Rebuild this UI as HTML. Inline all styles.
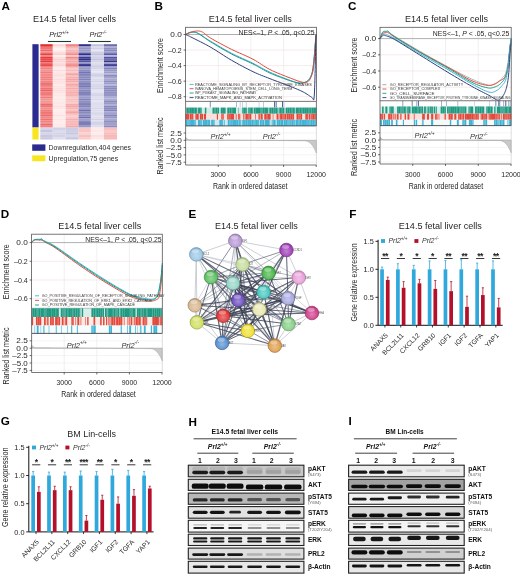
<!DOCTYPE html>
<html><head><meta charset="utf-8"><style>
html,body{margin:0;padding:0;background:#fff;overflow:hidden;width:520px;height:574px;}
svg{display:block;filter:blur(0.3px);font-family:"Liberation Sans", sans-serif;}
</style></head><body>
<svg width="520" height="574" viewBox="0 0 520 574">
<rect width="520" height="574" fill="#fff"/>
<defs>
<filter id="blur" x="-10%" y="-50%" width="120%" height="200%"><feGaussianBlur stdDeviation="0.75"/></filter>
<radialGradient id="g0" cx="0.5" cy="0.6" r="0.6"><stop offset="0" stop-color="#d0bde4"/><stop offset="0.75" stop-color="#b89ad6"/><stop offset="1" stop-color="#9c82b5"/></radialGradient>
<radialGradient id="g1" cx="0.5" cy="0.6" r="0.6"><stop offset="0" stop-color="#bedbf0"/><stop offset="0.75" stop-color="#9cc8e8"/><stop offset="1" stop-color="#84aac5"/></radialGradient>
<radialGradient id="g2" cx="0.5" cy="0.6" r="0.6"><stop offset="0" stop-color="#c182d0"/><stop offset="0.75" stop-color="#a040b8"/><stop offset="1" stop-color="#88369c"/></radialGradient>
<radialGradient id="g3" cx="0.5" cy="0.6" r="0.6"><stop offset="0" stop-color="#d9e8be"/><stop offset="0.75" stop-color="#c6dc9c"/><stop offset="1" stop-color="#a8bb84"/></radialGradient>
<radialGradient id="g4" cx="0.5" cy="0.6" r="0.6"><stop offset="0" stop-color="#95d697"/><stop offset="0.75" stop-color="#5cc060"/><stop offset="1" stop-color="#4ea351"/></radialGradient>
<radialGradient id="g5" cx="0.5" cy="0.6" r="0.6"><stop offset="0" stop-color="#8ad08a"/><stop offset="0.75" stop-color="#4cb84c"/><stop offset="1" stop-color="#409c40"/></radialGradient>
<radialGradient id="g6" cx="0.5" cy="0.6" r="0.6"><stop offset="0" stop-color="#bae4db"/><stop offset="0.75" stop-color="#96d6c8"/><stop offset="1" stop-color="#7fb5aa"/></radialGradient>
<radialGradient id="g7" cx="0.5" cy="0.6" r="0.6"><stop offset="0" stop-color="#f0c1e5"/><stop offset="0.75" stop-color="#e8a0d8"/><stop offset="1" stop-color="#c588b7"/></radialGradient>
<radialGradient id="g8" cx="0.5" cy="0.6" r="0.6"><stop offset="0" stop-color="#88dbd6"/><stop offset="0.75" stop-color="#48c8c0"/><stop offset="1" stop-color="#3daaa3"/></radialGradient>
<radialGradient id="g9" cx="0.5" cy="0.6" r="0.6"><stop offset="0" stop-color="#c6c6ea"/><stop offset="0.75" stop-color="#a8a8e0"/><stop offset="1" stop-color="#8e8ebe"/></radialGradient>
<radialGradient id="g10" cx="0.5" cy="0.6" r="0.6"><stop offset="0" stop-color="#a28dd6"/><stop offset="0.75" stop-color="#7050c0"/><stop offset="1" stop-color="#5f44a3"/></radialGradient>
<radialGradient id="g11" cx="0.5" cy="0.6" r="0.6"><stop offset="0" stop-color="#e5d0b6"/><stop offset="0.75" stop-color="#d8b890"/><stop offset="1" stop-color="#b79c7a"/></radialGradient>
<radialGradient id="g12" cx="0.5" cy="0.6" r="0.6"><stop offset="0" stop-color="#f0f0cb"/><stop offset="0.75" stop-color="#e8e8b0"/><stop offset="1" stop-color="#c5c595"/></radialGradient>
<radialGradient id="g13" cx="0.5" cy="0.6" r="0.6"><stop offset="0" stop-color="#e082b4"/><stop offset="0.75" stop-color="#d0408c"/><stop offset="1" stop-color="#b03677"/></radialGradient>
<radialGradient id="g14" cx="0.5" cy="0.6" r="0.6"><stop offset="0" stop-color="#ea7d7d"/><stop offset="0.75" stop-color="#e03838"/><stop offset="1" stop-color="#be2f2f"/></radialGradient>
<radialGradient id="g15" cx="0.5" cy="0.6" r="0.6"><stop offset="0" stop-color="#e0ea97"/><stop offset="0.75" stop-color="#d0e060"/><stop offset="1" stop-color="#b0be51"/></radialGradient>
<radialGradient id="g16" cx="0.5" cy="0.6" r="0.6"><stop offset="0" stop-color="#b1e0b1"/><stop offset="0.75" stop-color="#88d088"/><stop offset="1" stop-color="#73b073"/></radialGradient>
<radialGradient id="g17" cx="0.5" cy="0.6" r="0.6"><stop offset="0" stop-color="#f5ea78"/><stop offset="0.75" stop-color="#f0e030"/><stop offset="1" stop-color="#ccbe28"/></radialGradient>
<radialGradient id="g18" cx="0.5" cy="0.6" r="0.6"><stop offset="0" stop-color="#92b6e0"/><stop offset="0.75" stop-color="#5890d0"/><stop offset="1" stop-color="#4a7ab0"/></radialGradient>
<radialGradient id="g19" cx="0.5" cy="0.6" r="0.6"><stop offset="0" stop-color="#eac18d"/><stop offset="0.75" stop-color="#e0a050"/><stop offset="1" stop-color="#be8844"/></radialGradient>
</defs>
<text x="1.50" y="10.30" font-size="11.7" font-weight="bold" fill="#000">A</text>
<text x="154.50" y="10.10" font-size="11.7" font-weight="bold" fill="#000">B</text>
<text x="348.00" y="10.10" font-size="11.7" font-weight="bold" fill="#000">C</text>
<text x="0.80" y="217.70" font-size="11.7" font-weight="bold" fill="#000">D</text>
<text x="188.60" y="217.50" font-size="11.7" font-weight="bold" fill="#000">E</text>
<text x="349.20" y="217.50" font-size="11.7" font-weight="bold" fill="#000">F</text>
<text x="0.80" y="424.70" font-size="11.7" font-weight="bold" fill="#000">G</text>
<text x="188.40" y="425.50" font-size="11.7" font-weight="bold" fill="#000">H</text>
<text x="348.40" y="425.10" font-size="11.7" font-weight="bold" fill="#000">I</text>
<text x="33.00" y="22.20" font-size="9.5" fill="#231f20" textLength="83" lengthAdjust="spacingAndGlyphs">E14.5 fetal liver cells</text>
<text x="49.30" y="36.80" font-size="7.2" font-style="italic" fill="#231f20">Prl2<tspan font-size="4.61" dy="-3.02">+/+</tspan></text>
<text x="89.50" y="36.80" font-size="7.2" font-style="italic" fill="#231f20">Prl2<tspan font-size="4.61" dy="-3.02">-/-</tspan></text>
<line x1="47.90" y1="41.50" x2="71.00" y2="41.50" stroke="#1f3a2c" stroke-width="1.1"/>
<line x1="88.20" y1="41.50" x2="110.80" y2="41.50" stroke="#1f3a2c" stroke-width="1.1"/>
<rect x="32.40" y="44.20" width="6.20" height="83.30" fill="#2b2a8e"/>
<rect x="32.40" y="127.50" width="6.20" height="12.00" fill="#f6e51f"/>
<rect x="40.30" y="44.20" width="12.50" height="1.86" fill="rgb(230,45,45)"/>
<rect x="52.80" y="44.20" width="12.80" height="1.86" fill="rgb(251,211,211)"/>
<rect x="65.60" y="44.20" width="13.00" height="1.86" fill="rgb(241,130,130)"/>
<rect x="78.60" y="44.20" width="12.30" height="1.86" fill="rgb(48,48,141)"/>
<rect x="90.90" y="44.20" width="13.10" height="1.86" fill="rgb(193,193,222)"/>
<rect x="104.00" y="44.20" width="13.00" height="1.86" fill="rgb(107,107,174)"/>
<rect x="40.30" y="46.01" width="12.50" height="1.86" fill="rgb(237,99,99)"/>
<rect x="52.80" y="46.01" width="12.80" height="1.86" fill="rgb(253,228,228)"/>
<rect x="65.60" y="46.01" width="13.00" height="1.86" fill="rgb(245,167,167)"/>
<rect x="78.60" y="46.01" width="12.30" height="1.86" fill="rgb(156,156,201)"/>
<rect x="90.90" y="46.01" width="13.10" height="1.86" fill="rgb(218,218,236)"/>
<rect x="104.00" y="46.01" width="13.00" height="1.86" fill="rgb(172,172,210)"/>
<rect x="40.30" y="47.82" width="12.50" height="1.86" fill="rgb(239,118,118)"/>
<rect x="52.80" y="47.82" width="12.80" height="1.86" fill="rgb(254,241,241)"/>
<rect x="65.60" y="47.82" width="13.00" height="1.86" fill="rgb(249,196,196)"/>
<rect x="78.60" y="47.82" width="12.30" height="1.86" fill="rgb(148,148,197)"/>
<rect x="90.90" y="47.82" width="13.10" height="1.86" fill="rgb(208,208,230)"/>
<rect x="104.00" y="47.82" width="13.00" height="1.86" fill="rgb(143,143,194)"/>
<rect x="40.30" y="49.63" width="12.50" height="1.86" fill="rgb(238,106,106)"/>
<rect x="52.80" y="49.63" width="12.80" height="1.86" fill="rgb(254,238,238)"/>
<rect x="65.60" y="49.63" width="13.00" height="1.86" fill="rgb(247,179,179)"/>
<rect x="78.60" y="49.63" width="12.30" height="1.86" fill="rgb(155,155,201)"/>
<rect x="90.90" y="49.63" width="13.10" height="1.86" fill="rgb(229,229,243)"/>
<rect x="104.00" y="49.63" width="13.00" height="1.86" fill="rgb(137,137,191)"/>
<rect x="40.30" y="51.44" width="12.50" height="1.86" fill="rgb(242,136,136)"/>
<rect x="52.80" y="51.44" width="12.80" height="1.86" fill="rgb(252,221,221)"/>
<rect x="65.60" y="51.44" width="13.00" height="1.86" fill="rgb(246,169,169)"/>
<rect x="78.60" y="51.44" width="12.30" height="1.86" fill="rgb(147,147,196)"/>
<rect x="90.90" y="51.44" width="13.10" height="1.86" fill="rgb(206,206,230)"/>
<rect x="104.00" y="51.44" width="13.00" height="1.86" fill="rgb(155,155,201)"/>
<rect x="40.30" y="53.25" width="12.50" height="1.86" fill="rgb(233,65,65)"/>
<rect x="52.80" y="53.25" width="12.80" height="1.86" fill="rgb(250,208,208)"/>
<rect x="65.60" y="53.25" width="13.00" height="1.86" fill="rgb(242,140,140)"/>
<rect x="78.60" y="53.25" width="12.30" height="1.86" fill="rgb(46,46,140)"/>
<rect x="90.90" y="53.25" width="13.10" height="1.86" fill="rgb(194,194,223)"/>
<rect x="104.00" y="53.25" width="13.00" height="1.86" fill="rgb(92,92,165)"/>
<rect x="40.30" y="55.07" width="12.50" height="1.86" fill="rgb(242,138,138)"/>
<rect x="52.80" y="55.07" width="12.80" height="1.86" fill="rgb(254,238,238)"/>
<rect x="65.60" y="55.07" width="13.00" height="1.86" fill="rgb(250,202,202)"/>
<rect x="78.60" y="55.07" width="12.30" height="1.86" fill="rgb(146,146,196)"/>
<rect x="90.90" y="55.07" width="13.10" height="1.86" fill="rgb(215,215,234)"/>
<rect x="104.00" y="55.07" width="13.00" height="1.86" fill="rgb(185,185,218)"/>
<rect x="40.30" y="56.88" width="12.50" height="1.86" fill="rgb(232,58,58)"/>
<rect x="52.80" y="56.88" width="12.80" height="1.86" fill="rgb(252,221,221)"/>
<rect x="65.60" y="56.88" width="13.00" height="1.86" fill="rgb(242,135,135)"/>
<rect x="78.60" y="56.88" width="12.30" height="1.86" fill="rgb(60,60,148)"/>
<rect x="90.90" y="56.88" width="13.10" height="1.86" fill="rgb(208,208,230)"/>
<rect x="104.00" y="56.88" width="13.00" height="1.86" fill="rgb(82,82,160)"/>
<rect x="40.30" y="58.69" width="12.50" height="1.86" fill="rgb(234,72,72)"/>
<rect x="52.80" y="58.69" width="12.80" height="1.86" fill="rgb(250,207,207)"/>
<rect x="65.60" y="58.69" width="13.00" height="1.86" fill="rgb(246,168,168)"/>
<rect x="78.60" y="58.69" width="12.30" height="1.86" fill="rgb(47,47,140)"/>
<rect x="90.90" y="58.69" width="13.10" height="1.86" fill="rgb(195,195,223)"/>
<rect x="104.00" y="58.69" width="13.00" height="1.86" fill="rgb(107,107,174)"/>
<rect x="40.30" y="60.50" width="12.50" height="1.86" fill="rgb(232,56,56)"/>
<rect x="52.80" y="60.50" width="12.80" height="1.86" fill="rgb(251,215,215)"/>
<rect x="65.60" y="60.50" width="13.00" height="1.86" fill="rgb(246,168,168)"/>
<rect x="78.60" y="60.50" width="12.30" height="1.86" fill="rgb(82,82,160)"/>
<rect x="90.90" y="60.50" width="13.10" height="1.86" fill="rgb(211,211,232)"/>
<rect x="104.00" y="60.50" width="13.00" height="1.86" fill="rgb(55,55,145)"/>
<rect x="40.30" y="62.31" width="12.50" height="1.86" fill="rgb(238,108,108)"/>
<rect x="52.80" y="62.31" width="12.80" height="1.86" fill="rgb(252,222,222)"/>
<rect x="65.60" y="62.31" width="13.00" height="1.86" fill="rgb(245,166,166)"/>
<rect x="78.60" y="62.31" width="12.30" height="1.86" fill="rgb(144,144,195)"/>
<rect x="90.90" y="62.31" width="13.10" height="1.86" fill="rgb(221,221,238)"/>
<rect x="104.00" y="62.31" width="13.00" height="1.86" fill="rgb(156,156,201)"/>
<rect x="40.30" y="64.12" width="12.50" height="1.86" fill="rgb(234,70,70)"/>
<rect x="52.80" y="64.12" width="12.80" height="1.86" fill="rgb(251,212,212)"/>
<rect x="65.60" y="64.12" width="13.00" height="1.86" fill="rgb(242,136,136)"/>
<rect x="78.60" y="64.12" width="12.30" height="1.86" fill="rgb(46,46,140)"/>
<rect x="90.90" y="64.12" width="13.10" height="1.86" fill="rgb(215,215,234)"/>
<rect x="104.00" y="64.12" width="13.00" height="1.86" fill="rgb(56,56,145)"/>
<rect x="40.30" y="65.93" width="12.50" height="1.86" fill="rgb(241,130,130)"/>
<rect x="52.80" y="65.93" width="12.80" height="1.86" fill="rgb(253,229,229)"/>
<rect x="65.60" y="65.93" width="13.00" height="1.86" fill="rgb(245,167,167)"/>
<rect x="78.60" y="65.93" width="12.30" height="1.86" fill="rgb(145,145,195)"/>
<rect x="90.90" y="65.93" width="13.10" height="1.86" fill="rgb(207,207,230)"/>
<rect x="104.00" y="65.93" width="13.00" height="1.86" fill="rgb(155,155,201)"/>
<rect x="40.30" y="67.74" width="12.50" height="1.86" fill="rgb(241,131,131)"/>
<rect x="52.80" y="67.74" width="12.80" height="1.86" fill="rgb(254,238,238)"/>
<rect x="65.60" y="67.74" width="13.00" height="1.86" fill="rgb(250,201,201)"/>
<rect x="78.60" y="67.74" width="12.30" height="1.86" fill="rgb(154,154,200)"/>
<rect x="90.90" y="67.74" width="13.10" height="1.86" fill="rgb(213,213,233)"/>
<rect x="104.00" y="67.74" width="13.00" height="1.86" fill="rgb(130,130,187)"/>
<rect x="40.30" y="69.55" width="12.50" height="1.86" fill="rgb(243,145,145)"/>
<rect x="52.80" y="69.55" width="12.80" height="1.86" fill="rgb(252,221,221)"/>
<rect x="65.60" y="69.55" width="13.00" height="1.86" fill="rgb(247,183,183)"/>
<rect x="78.60" y="69.55" width="12.30" height="1.86" fill="rgb(141,141,193)"/>
<rect x="90.90" y="69.55" width="13.10" height="1.86" fill="rgb(224,224,239)"/>
<rect x="104.00" y="69.55" width="13.00" height="1.86" fill="rgb(152,152,199)"/>
<rect x="40.30" y="71.36" width="12.50" height="1.86" fill="rgb(240,124,124)"/>
<rect x="52.80" y="71.36" width="12.80" height="1.86" fill="rgb(253,233,233)"/>
<rect x="65.60" y="71.36" width="13.00" height="1.86" fill="rgb(250,202,202)"/>
<rect x="78.60" y="71.36" width="12.30" height="1.86" fill="rgb(116,116,179)"/>
<rect x="90.90" y="71.36" width="13.10" height="1.86" fill="rgb(229,229,242)"/>
<rect x="104.00" y="71.36" width="13.00" height="1.86" fill="rgb(158,158,202)"/>
<rect x="40.30" y="73.17" width="12.50" height="1.86" fill="rgb(242,140,140)"/>
<rect x="52.80" y="73.17" width="12.80" height="1.86" fill="rgb(253,226,226)"/>
<rect x="65.60" y="73.17" width="13.00" height="1.86" fill="rgb(245,165,165)"/>
<rect x="78.60" y="73.17" width="12.30" height="1.86" fill="rgb(130,130,187)"/>
<rect x="90.90" y="73.17" width="13.10" height="1.86" fill="rgb(211,211,232)"/>
<rect x="104.00" y="73.17" width="13.00" height="1.86" fill="rgb(180,180,215)"/>
<rect x="40.30" y="74.98" width="12.50" height="1.86" fill="rgb(242,139,139)"/>
<rect x="52.80" y="74.98" width="12.80" height="1.86" fill="rgb(252,224,224)"/>
<rect x="65.60" y="74.98" width="13.00" height="1.86" fill="rgb(249,192,192)"/>
<rect x="78.60" y="74.98" width="12.30" height="1.86" fill="rgb(139,139,192)"/>
<rect x="90.90" y="74.98" width="13.10" height="1.86" fill="rgb(206,206,229)"/>
<rect x="104.00" y="74.98" width="13.00" height="1.86" fill="rgb(138,138,191)"/>
<rect x="40.30" y="76.80" width="12.50" height="1.86" fill="rgb(240,124,124)"/>
<rect x="52.80" y="76.80" width="12.80" height="1.86" fill="rgb(253,231,231)"/>
<rect x="65.60" y="76.80" width="13.00" height="1.86" fill="rgb(246,174,174)"/>
<rect x="78.60" y="76.80" width="12.30" height="1.86" fill="rgb(138,138,191)"/>
<rect x="90.90" y="76.80" width="13.10" height="1.86" fill="rgb(223,223,239)"/>
<rect x="104.00" y="76.80" width="13.00" height="1.86" fill="rgb(163,163,205)"/>
<rect x="40.30" y="78.61" width="12.50" height="1.86" fill="rgb(241,128,128)"/>
<rect x="52.80" y="78.61" width="12.80" height="1.86" fill="rgb(252,221,221)"/>
<rect x="65.60" y="78.61" width="13.00" height="1.86" fill="rgb(245,165,165)"/>
<rect x="78.60" y="78.61" width="12.30" height="1.86" fill="rgb(130,130,187)"/>
<rect x="90.90" y="78.61" width="13.10" height="1.86" fill="rgb(218,218,236)"/>
<rect x="104.00" y="78.61" width="13.00" height="1.86" fill="rgb(167,167,207)"/>
<rect x="40.30" y="80.42" width="12.50" height="1.86" fill="rgb(241,133,133)"/>
<rect x="52.80" y="80.42" width="12.80" height="1.86" fill="rgb(253,225,225)"/>
<rect x="65.60" y="80.42" width="13.00" height="1.86" fill="rgb(246,169,169)"/>
<rect x="78.60" y="80.42" width="12.30" height="1.86" fill="rgb(143,143,194)"/>
<rect x="90.90" y="80.42" width="13.10" height="1.86" fill="rgb(211,211,232)"/>
<rect x="104.00" y="80.42" width="13.00" height="1.86" fill="rgb(142,142,194)"/>
<rect x="40.30" y="82.23" width="12.50" height="1.86" fill="rgb(239,113,113)"/>
<rect x="52.80" y="82.23" width="12.80" height="1.86" fill="rgb(253,226,226)"/>
<rect x="65.60" y="82.23" width="13.00" height="1.86" fill="rgb(248,189,189)"/>
<rect x="78.60" y="82.23" width="12.30" height="1.86" fill="rgb(126,126,185)"/>
<rect x="90.90" y="82.23" width="13.10" height="1.86" fill="rgb(223,223,239)"/>
<rect x="104.00" y="82.23" width="13.00" height="1.86" fill="rgb(158,158,203)"/>
<rect x="40.30" y="84.04" width="12.50" height="1.86" fill="rgb(239,112,112)"/>
<rect x="52.80" y="84.04" width="12.80" height="1.86" fill="rgb(254,235,235)"/>
<rect x="65.60" y="84.04" width="13.00" height="1.86" fill="rgb(245,166,166)"/>
<rect x="78.60" y="84.04" width="12.30" height="1.86" fill="rgb(129,129,186)"/>
<rect x="90.90" y="84.04" width="13.10" height="1.86" fill="rgb(216,216,235)"/>
<rect x="104.00" y="84.04" width="13.00" height="1.86" fill="rgb(185,185,218)"/>
<rect x="40.30" y="85.85" width="12.50" height="1.86" fill="rgb(241,134,134)"/>
<rect x="52.80" y="85.85" width="12.80" height="1.86" fill="rgb(253,228,228)"/>
<rect x="65.60" y="85.85" width="13.00" height="1.86" fill="rgb(248,185,185)"/>
<rect x="78.60" y="85.85" width="12.30" height="1.86" fill="rgb(121,121,182)"/>
<rect x="90.90" y="85.85" width="13.10" height="1.86" fill="rgb(214,214,234)"/>
<rect x="104.00" y="85.85" width="13.00" height="1.86" fill="rgb(141,141,193)"/>
<rect x="40.30" y="87.66" width="12.50" height="1.86" fill="rgb(239,114,114)"/>
<rect x="52.80" y="87.66" width="12.80" height="1.86" fill="rgb(253,226,226)"/>
<rect x="65.60" y="87.66" width="13.00" height="1.86" fill="rgb(246,170,170)"/>
<rect x="78.60" y="87.66" width="12.30" height="1.86" fill="rgb(144,144,195)"/>
<rect x="90.90" y="87.66" width="13.10" height="1.86" fill="rgb(209,209,231)"/>
<rect x="104.00" y="87.66" width="13.00" height="1.86" fill="rgb(137,137,191)"/>
<rect x="40.30" y="89.47" width="12.50" height="1.86" fill="rgb(237,97,97)"/>
<rect x="52.80" y="89.47" width="12.80" height="1.86" fill="rgb(252,222,222)"/>
<rect x="65.60" y="89.47" width="13.00" height="1.86" fill="rgb(247,183,183)"/>
<rect x="78.60" y="89.47" width="12.30" height="1.86" fill="rgb(135,135,190)"/>
<rect x="90.90" y="89.47" width="13.10" height="1.86" fill="rgb(226,226,240)"/>
<rect x="104.00" y="89.47" width="13.00" height="1.86" fill="rgb(139,139,192)"/>
<rect x="40.30" y="91.28" width="12.50" height="1.86" fill="rgb(240,123,123)"/>
<rect x="52.80" y="91.28" width="12.80" height="1.86" fill="rgb(253,227,227)"/>
<rect x="65.60" y="91.28" width="13.00" height="1.86" fill="rgb(246,175,175)"/>
<rect x="78.60" y="91.28" width="12.30" height="1.86" fill="rgb(125,125,184)"/>
<rect x="90.90" y="91.28" width="13.10" height="1.86" fill="rgb(225,225,240)"/>
<rect x="104.00" y="91.28" width="13.00" height="1.86" fill="rgb(142,142,193)"/>
<rect x="40.30" y="93.09" width="12.50" height="1.86" fill="rgb(239,113,113)"/>
<rect x="52.80" y="93.09" width="12.80" height="1.86" fill="rgb(253,233,233)"/>
<rect x="65.60" y="93.09" width="13.00" height="1.86" fill="rgb(247,179,179)"/>
<rect x="78.60" y="93.09" width="12.30" height="1.86" fill="rgb(123,123,183)"/>
<rect x="90.90" y="93.09" width="13.10" height="1.86" fill="rgb(214,214,234)"/>
<rect x="104.00" y="93.09" width="13.00" height="1.86" fill="rgb(145,145,195)"/>
<rect x="40.30" y="94.90" width="12.50" height="1.86" fill="rgb(242,139,139)"/>
<rect x="52.80" y="94.90" width="12.80" height="1.86" fill="rgb(253,232,232)"/>
<rect x="65.60" y="94.90" width="13.00" height="1.86" fill="rgb(247,178,178)"/>
<rect x="78.60" y="94.90" width="12.30" height="1.86" fill="rgb(151,151,198)"/>
<rect x="90.90" y="94.90" width="13.10" height="1.86" fill="rgb(213,213,233)"/>
<rect x="104.00" y="94.90" width="13.00" height="1.86" fill="rgb(150,150,198)"/>
<rect x="40.30" y="96.72" width="12.50" height="1.86" fill="rgb(240,123,123)"/>
<rect x="52.80" y="96.72" width="12.80" height="1.86" fill="rgb(254,237,237)"/>
<rect x="65.60" y="96.72" width="13.00" height="1.86" fill="rgb(250,202,202)"/>
<rect x="78.60" y="96.72" width="12.30" height="1.86" fill="rgb(155,155,201)"/>
<rect x="90.90" y="96.72" width="13.10" height="1.86" fill="rgb(222,222,238)"/>
<rect x="104.00" y="96.72" width="13.00" height="1.86" fill="rgb(175,175,212)"/>
<rect x="40.30" y="98.53" width="12.50" height="1.86" fill="rgb(243,145,145)"/>
<rect x="52.80" y="98.53" width="12.80" height="1.86" fill="rgb(253,232,232)"/>
<rect x="65.60" y="98.53" width="13.00" height="1.86" fill="rgb(248,189,189)"/>
<rect x="78.60" y="98.53" width="12.30" height="1.86" fill="rgb(131,131,187)"/>
<rect x="90.90" y="98.53" width="13.10" height="1.86" fill="rgb(215,215,235)"/>
<rect x="104.00" y="98.53" width="13.00" height="1.86" fill="rgb(172,172,210)"/>
<rect x="40.30" y="100.34" width="12.50" height="1.86" fill="rgb(243,147,147)"/>
<rect x="52.80" y="100.34" width="12.80" height="1.86" fill="rgb(253,233,233)"/>
<rect x="65.60" y="100.34" width="13.00" height="1.86" fill="rgb(249,193,193)"/>
<rect x="78.60" y="100.34" width="12.30" height="1.86" fill="rgb(141,141,193)"/>
<rect x="90.90" y="100.34" width="13.10" height="1.86" fill="rgb(227,227,241)"/>
<rect x="104.00" y="100.34" width="13.00" height="1.86" fill="rgb(139,139,192)"/>
<rect x="40.30" y="102.15" width="12.50" height="1.86" fill="rgb(243,145,145)"/>
<rect x="52.80" y="102.15" width="12.80" height="1.86" fill="rgb(253,229,229)"/>
<rect x="65.60" y="102.15" width="13.00" height="1.86" fill="rgb(250,201,201)"/>
<rect x="78.60" y="102.15" width="12.30" height="1.86" fill="rgb(134,134,189)"/>
<rect x="90.90" y="102.15" width="13.10" height="1.86" fill="rgb(221,221,238)"/>
<rect x="104.00" y="102.15" width="13.00" height="1.86" fill="rgb(153,153,200)"/>
<rect x="40.30" y="103.96" width="12.50" height="1.86" fill="rgb(238,105,105)"/>
<rect x="52.80" y="103.96" width="12.80" height="1.86" fill="rgb(253,233,233)"/>
<rect x="65.60" y="103.96" width="13.00" height="1.86" fill="rgb(246,171,171)"/>
<rect x="78.60" y="103.96" width="12.30" height="1.86" fill="rgb(129,129,186)"/>
<rect x="90.90" y="103.96" width="13.10" height="1.86" fill="rgb(221,221,238)"/>
<rect x="104.00" y="103.96" width="13.00" height="1.86" fill="rgb(178,178,213)"/>
<rect x="40.30" y="105.77" width="12.50" height="1.86" fill="rgb(239,118,118)"/>
<rect x="52.80" y="105.77" width="12.80" height="1.86" fill="rgb(252,222,222)"/>
<rect x="65.60" y="105.77" width="13.00" height="1.86" fill="rgb(245,165,165)"/>
<rect x="78.60" y="105.77" width="12.30" height="1.86" fill="rgb(131,131,187)"/>
<rect x="90.90" y="105.77" width="13.10" height="1.86" fill="rgb(221,221,238)"/>
<rect x="104.00" y="105.77" width="13.00" height="1.86" fill="rgb(135,135,190)"/>
<rect x="40.30" y="107.58" width="12.50" height="1.86" fill="rgb(242,141,141)"/>
<rect x="52.80" y="107.58" width="12.80" height="1.86" fill="rgb(253,230,230)"/>
<rect x="65.60" y="107.58" width="13.00" height="1.86" fill="rgb(247,179,179)"/>
<rect x="78.60" y="107.58" width="12.30" height="1.86" fill="rgb(154,154,201)"/>
<rect x="90.90" y="107.58" width="13.10" height="1.86" fill="rgb(214,214,234)"/>
<rect x="104.00" y="107.58" width="13.00" height="1.86" fill="rgb(136,136,190)"/>
<rect x="40.30" y="109.39" width="12.50" height="1.86" fill="rgb(240,125,125)"/>
<rect x="52.80" y="109.39" width="12.80" height="1.86" fill="rgb(254,237,237)"/>
<rect x="65.60" y="109.39" width="13.00" height="1.86" fill="rgb(249,192,192)"/>
<rect x="78.60" y="109.39" width="12.30" height="1.86" fill="rgb(113,113,177)"/>
<rect x="90.90" y="109.39" width="13.10" height="1.86" fill="rgb(220,220,237)"/>
<rect x="104.00" y="109.39" width="13.00" height="1.86" fill="rgb(132,132,188)"/>
<rect x="40.30" y="111.20" width="12.50" height="1.86" fill="rgb(239,116,116)"/>
<rect x="52.80" y="111.20" width="12.80" height="1.86" fill="rgb(254,236,236)"/>
<rect x="65.60" y="111.20" width="13.00" height="1.86" fill="rgb(245,164,164)"/>
<rect x="78.60" y="111.20" width="12.30" height="1.86" fill="rgb(137,137,191)"/>
<rect x="90.90" y="111.20" width="13.10" height="1.86" fill="rgb(220,220,237)"/>
<rect x="104.00" y="111.20" width="13.00" height="1.86" fill="rgb(168,168,208)"/>
<rect x="40.30" y="113.01" width="12.50" height="1.86" fill="rgb(240,122,122)"/>
<rect x="52.80" y="113.01" width="12.80" height="1.86" fill="rgb(254,235,235)"/>
<rect x="65.60" y="113.01" width="13.00" height="1.86" fill="rgb(248,185,185)"/>
<rect x="78.60" y="113.01" width="12.30" height="1.86" fill="rgb(155,155,201)"/>
<rect x="90.90" y="113.01" width="13.10" height="1.86" fill="rgb(215,215,234)"/>
<rect x="104.00" y="113.01" width="13.00" height="1.86" fill="rgb(161,161,204)"/>
<rect x="40.30" y="114.82" width="12.50" height="1.86" fill="rgb(238,107,107)"/>
<rect x="52.80" y="114.82" width="12.80" height="1.86" fill="rgb(252,224,224)"/>
<rect x="65.60" y="114.82" width="13.00" height="1.86" fill="rgb(250,204,204)"/>
<rect x="78.60" y="114.82" width="12.30" height="1.86" fill="rgb(135,135,190)"/>
<rect x="90.90" y="114.82" width="13.10" height="1.86" fill="rgb(223,223,239)"/>
<rect x="104.00" y="114.82" width="13.00" height="1.86" fill="rgb(133,133,189)"/>
<rect x="40.30" y="116.63" width="12.50" height="1.86" fill="rgb(241,134,134)"/>
<rect x="52.80" y="116.63" width="12.80" height="1.86" fill="rgb(254,236,236)"/>
<rect x="65.60" y="116.63" width="13.00" height="1.86" fill="rgb(249,198,198)"/>
<rect x="78.60" y="116.63" width="12.30" height="1.86" fill="rgb(112,112,177)"/>
<rect x="90.90" y="116.63" width="13.10" height="1.86" fill="rgb(222,222,239)"/>
<rect x="104.00" y="116.63" width="13.00" height="1.86" fill="rgb(151,151,199)"/>
<rect x="40.30" y="118.45" width="12.50" height="1.86" fill="rgb(239,114,114)"/>
<rect x="52.80" y="118.45" width="12.80" height="1.86" fill="rgb(253,229,229)"/>
<rect x="65.60" y="118.45" width="13.00" height="1.86" fill="rgb(246,174,174)"/>
<rect x="78.60" y="118.45" width="12.30" height="1.86" fill="rgb(156,156,201)"/>
<rect x="90.90" y="118.45" width="13.10" height="1.86" fill="rgb(211,211,232)"/>
<rect x="104.00" y="118.45" width="13.00" height="1.86" fill="rgb(169,169,208)"/>
<rect x="40.30" y="120.26" width="12.50" height="1.86" fill="rgb(241,130,130)"/>
<rect x="52.80" y="120.26" width="12.80" height="1.86" fill="rgb(254,235,235)"/>
<rect x="65.60" y="120.26" width="13.00" height="1.86" fill="rgb(247,183,183)"/>
<rect x="78.60" y="120.26" width="12.30" height="1.86" fill="rgb(138,138,191)"/>
<rect x="90.90" y="120.26" width="13.10" height="1.86" fill="rgb(221,221,238)"/>
<rect x="104.00" y="120.26" width="13.00" height="1.86" fill="rgb(144,144,195)"/>
<rect x="40.30" y="122.07" width="12.50" height="1.86" fill="rgb(243,145,145)"/>
<rect x="52.80" y="122.07" width="12.80" height="1.86" fill="rgb(254,236,236)"/>
<rect x="65.60" y="122.07" width="13.00" height="1.86" fill="rgb(248,186,186)"/>
<rect x="78.60" y="122.07" width="12.30" height="1.86" fill="rgb(116,116,179)"/>
<rect x="90.90" y="122.07" width="13.10" height="1.86" fill="rgb(208,208,231)"/>
<rect x="104.00" y="122.07" width="13.00" height="1.86" fill="rgb(155,155,201)"/>
<rect x="40.30" y="123.88" width="12.50" height="1.86" fill="rgb(238,107,107)"/>
<rect x="52.80" y="123.88" width="12.80" height="1.86" fill="rgb(253,233,233)"/>
<rect x="65.60" y="123.88" width="13.00" height="1.86" fill="rgb(247,181,181)"/>
<rect x="78.60" y="123.88" width="12.30" height="1.86" fill="rgb(126,126,185)"/>
<rect x="90.90" y="123.88" width="13.10" height="1.86" fill="rgb(214,214,234)"/>
<rect x="104.00" y="123.88" width="13.00" height="1.86" fill="rgb(159,159,203)"/>
<rect x="40.30" y="125.69" width="12.50" height="1.86" fill="rgb(241,127,127)"/>
<rect x="52.80" y="125.69" width="12.80" height="1.86" fill="rgb(254,233,233)"/>
<rect x="65.60" y="125.69" width="13.00" height="1.86" fill="rgb(246,169,169)"/>
<rect x="78.60" y="125.69" width="12.30" height="1.86" fill="rgb(152,152,199)"/>
<rect x="90.90" y="125.69" width="13.10" height="1.86" fill="rgb(222,222,239)"/>
<rect x="104.00" y="125.69" width="13.00" height="1.86" fill="rgb(139,139,192)"/>
<rect x="40.30" y="127.50" width="12.50" height="2.45" fill="rgb(214,214,234)"/>
<rect x="52.80" y="127.50" width="12.80" height="2.45" fill="rgb(208,208,231)"/>
<rect x="65.60" y="127.50" width="13.00" height="2.45" fill="rgb(202,202,227)"/>
<rect x="78.60" y="127.50" width="12.30" height="2.45" fill="rgb(249,198,198)"/>
<rect x="90.90" y="127.50" width="13.10" height="2.45" fill="rgb(254,235,235)"/>
<rect x="104.00" y="127.50" width="13.00" height="2.45" fill="rgb(248,189,189)"/>
<rect x="40.30" y="129.90" width="12.50" height="2.45" fill="rgb(197,197,225)"/>
<rect x="52.80" y="129.90" width="12.80" height="2.45" fill="rgb(219,219,237)"/>
<rect x="65.60" y="129.90" width="13.00" height="2.45" fill="rgb(206,206,229)"/>
<rect x="78.60" y="129.90" width="12.30" height="2.45" fill="rgb(249,195,195)"/>
<rect x="90.90" y="129.90" width="13.10" height="2.45" fill="rgb(253,231,231)"/>
<rect x="104.00" y="129.90" width="13.00" height="2.45" fill="rgb(250,200,200)"/>
<rect x="40.30" y="132.30" width="12.50" height="2.45" fill="rgb(212,212,233)"/>
<rect x="52.80" y="132.30" width="12.80" height="2.45" fill="rgb(212,212,233)"/>
<rect x="65.60" y="132.30" width="13.00" height="2.45" fill="rgb(199,199,226)"/>
<rect x="78.60" y="132.30" width="12.30" height="2.45" fill="rgb(250,207,207)"/>
<rect x="90.90" y="132.30" width="13.10" height="2.45" fill="rgb(254,235,235)"/>
<rect x="104.00" y="132.30" width="13.00" height="2.45" fill="rgb(248,188,188)"/>
<rect x="40.30" y="134.70" width="12.50" height="2.45" fill="rgb(200,200,226)"/>
<rect x="52.80" y="134.70" width="12.80" height="2.45" fill="rgb(211,211,232)"/>
<rect x="65.60" y="134.70" width="13.00" height="2.45" fill="rgb(215,215,234)"/>
<rect x="78.60" y="134.70" width="12.30" height="2.45" fill="rgb(248,191,191)"/>
<rect x="90.90" y="134.70" width="13.10" height="2.45" fill="rgb(252,223,223)"/>
<rect x="104.00" y="134.70" width="13.00" height="2.45" fill="rgb(248,184,184)"/>
<rect x="40.30" y="137.10" width="12.50" height="2.45" fill="rgb(201,201,227)"/>
<rect x="52.80" y="137.10" width="12.80" height="2.45" fill="rgb(221,221,238)"/>
<rect x="65.60" y="137.10" width="13.00" height="2.45" fill="rgb(199,199,225)"/>
<rect x="78.60" y="137.10" width="12.30" height="2.45" fill="rgb(250,203,203)"/>
<rect x="90.90" y="137.10" width="13.10" height="2.45" fill="rgb(253,229,229)"/>
<rect x="104.00" y="137.10" width="13.00" height="2.45" fill="rgb(248,185,185)"/>
<rect x="32.20" y="144.40" width="13.20" height="6.40" fill="#2b2a8e"/>
<text x="48.60" y="150.40" font-size="7.4" fill="#231f20" textLength="82.5" lengthAdjust="spacingAndGlyphs">Downregulation,404 genes</text>
<rect x="32.20" y="155.40" width="13.20" height="5.80" fill="#f6e51f"/>
<text x="48.60" y="161.30" font-size="7.4" fill="#231f20" textLength="69.5" lengthAdjust="spacingAndGlyphs">Upregulation,75 genes</text>
<rect x="185.60" y="27.30" width="130.80" height="74.00" fill="#fff"/>
<line x1="218.25" y1="27.30" x2="218.25" y2="101.30" stroke="#e6e6e6" stroke-width="0.6"/>
<line x1="218.25" y1="125.90" x2="218.25" y2="165.00" stroke="#e6e6e6" stroke-width="0.6"/>
<line x1="250.90" y1="27.30" x2="250.90" y2="101.30" stroke="#e6e6e6" stroke-width="0.6"/>
<line x1="250.90" y1="125.90" x2="250.90" y2="165.00" stroke="#e6e6e6" stroke-width="0.6"/>
<line x1="283.55" y1="27.30" x2="283.55" y2="101.30" stroke="#e6e6e6" stroke-width="0.6"/>
<line x1="283.55" y1="125.90" x2="283.55" y2="165.00" stroke="#e6e6e6" stroke-width="0.6"/>
<line x1="185.60" y1="34.50" x2="316.40" y2="34.50" stroke="#9a9a9a" stroke-width="0.8"/>
<line x1="185.60" y1="50.05" x2="316.40" y2="50.05" stroke="#f0dede" stroke-width="0.6"/>
<line x1="185.60" y1="65.60" x2="316.40" y2="65.60" stroke="#f0dede" stroke-width="0.6"/>
<line x1="185.60" y1="81.15" x2="316.40" y2="81.15" stroke="#f0dede" stroke-width="0.6"/>
<line x1="185.60" y1="96.70" x2="316.40" y2="96.70" stroke="#f0dede" stroke-width="0.6"/>
<path d="M185.60,34.50 L185.89,34.37 L186.27,34.20 L186.73,34.00 L187.23,33.77 L187.78,33.54 L188.36,33.32 L188.94,33.11 L189.52,32.95 L190.12,32.79 L190.74,32.62 L191.39,32.46 L192.06,32.31 L192.74,32.20 L193.42,32.12 L194.09,32.11 L194.76,32.17 L195.37,32.28 L195.94,32.43 L196.49,32.63 L197.04,32.87 L197.64,33.18 L198.31,33.54 L199.08,33.98 L199.99,34.50 L200.97,35.08 L201.99,35.72 L203.07,36.43 L204.24,37.20 L205.53,38.04 L206.98,38.97 L208.61,39.99 L210.45,41.11 L212.56,42.37 L214.93,43.78 L217.50,45.31 L220.22,46.92 L223.02,48.54 L225.86,50.16 L228.66,51.71 L231.38,53.16 L234.08,54.52 L236.84,55.85 L239.63,57.14 L242.42,58.41 L245.18,59.65 L247.87,60.87 L250.48,62.07 L252.96,63.27 L255.28,64.45 L257.46,65.60 L259.53,66.74 L261.55,67.86 L263.55,68.96 L265.59,70.06 L267.72,71.14 L269.97,72.21 L272.42,73.30 L275.05,74.43 L277.79,75.57 L280.55,76.68 L283.26,77.74 L285.83,78.73 L288.18,79.62 L290.24,80.37 L291.98,81.00 L293.49,81.54 L294.80,82.00 L295.96,82.36 L297.02,82.65 L298.03,82.87 L299.02,83.01 L300.05,83.09 L301.10,83.10 L302.11,83.02 L303.08,82.86 L304.01,82.63 L304.90,82.34 L305.74,81.99 L306.52,81.59 L307.24,81.15 L307.90,80.66 L308.50,80.11 L309.04,79.50 L309.53,78.84 L309.98,78.13 L310.40,77.37 L310.79,76.56 L311.17,75.71 L311.51,74.85 L311.80,73.99 L312.06,73.10 L312.29,72.16 L312.50,71.13 L312.70,69.97 L312.91,68.65 L313.13,67.16 L313.36,65.40 L313.59,63.41 L313.82,61.23 L314.04,58.94 L314.25,56.61 L314.46,54.31 L314.65,52.10 L314.83,50.05 L315.00,48.07 L315.15,46.04 L315.29,44.03 L315.43,42.08 L315.55,40.26 L315.67,38.61 L315.78,37.19 L315.88,36.05 L315.97,35.25 L316.06,34.76 L316.13,34.49 L316.20,34.40 L316.27,34.42 L316.32,34.49 L316.36,34.53 L316.40,34.50" fill="none" stroke="#3db4d6" stroke-width="1.0" stroke-linejoin="round"/>
<path d="M185.60,34.50 L185.89,34.34 L186.27,34.11 L186.73,33.85 L187.23,33.55 L187.78,33.26 L188.36,32.98 L188.94,32.74 L189.52,32.56 L190.12,32.41 L190.74,32.29 L191.39,32.18 L192.06,32.09 L192.74,32.05 L193.42,32.04 L194.09,32.08 L194.76,32.17 L195.37,32.30 L195.94,32.44 L196.49,32.63 L197.04,32.86 L197.64,33.15 L198.31,33.51 L199.08,33.96 L199.99,34.50 L200.97,35.14 L201.99,35.85 L203.07,36.63 L204.24,37.50 L205.53,38.44 L206.98,39.46 L208.61,40.56 L210.45,41.73 L212.56,43.03 L214.93,44.48 L217.50,46.04 L220.22,47.66 L223.02,49.30 L225.86,50.92 L228.66,52.48 L231.38,53.94 L234.08,55.30 L236.84,56.62 L239.63,57.90 L242.42,59.15 L245.18,60.37 L247.87,61.58 L250.48,62.77 L252.96,63.97 L255.28,65.16 L257.46,66.34 L259.53,67.51 L261.55,68.66 L263.55,69.80 L265.59,70.91 L267.72,72.00 L269.97,73.06 L272.42,74.13 L275.05,75.21 L277.79,76.29 L280.55,77.34 L283.26,78.33 L285.83,79.25 L288.18,80.07 L290.24,80.76 L291.98,81.34 L293.49,81.82 L294.80,82.22 L295.96,82.53 L297.02,82.77 L298.03,82.94 L299.02,83.04 L300.05,83.09 L301.10,83.08 L302.11,82.99 L303.08,82.83 L304.01,82.61 L304.90,82.32 L305.74,81.98 L306.52,81.59 L307.24,81.15 L307.90,80.66 L308.50,80.11 L309.04,79.50 L309.53,78.84 L309.98,78.13 L310.40,77.37 L310.79,76.56 L311.17,75.71 L311.51,74.85 L311.80,73.99 L312.06,73.10 L312.29,72.16 L312.50,71.13 L312.70,69.97 L312.91,68.65 L313.13,67.16 L313.36,65.40 L313.59,63.41 L313.82,61.23 L314.04,58.94 L314.25,56.61 L314.46,54.31 L314.65,52.10 L314.83,50.05 L315.00,48.07 L315.15,46.04 L315.29,44.03 L315.43,42.08 L315.55,40.26 L315.67,38.61 L315.78,37.19 L315.88,36.05 L315.97,35.25 L316.06,34.76 L316.13,34.49 L316.20,34.40 L316.27,34.42 L316.32,34.49 L316.36,34.53 L316.40,34.50" fill="none" stroke="#1f9a82" stroke-width="1.0" stroke-linejoin="round"/>
<path d="M185.60,34.50 L185.99,34.31 L186.51,34.05 L187.12,33.74 L187.81,33.41 L188.54,33.06 L189.31,32.72 L190.08,32.42 L190.83,32.17 L191.60,31.95 L192.41,31.74 L193.25,31.54 L194.10,31.37 L194.96,31.22 L195.80,31.10 L196.61,31.03 L197.37,31.00 L198.07,31.00 L198.70,31.01 L199.30,31.05 L199.88,31.13 L200.48,31.27 L201.12,31.48 L201.81,31.77 L202.60,32.17 L203.41,32.66 L204.16,33.22 L204.93,33.86 L205.77,34.58 L206.72,35.38 L207.85,36.25 L209.21,37.20 L210.84,38.23 L212.82,39.38 L215.09,40.67 L217.60,42.06 L220.28,43.51 L223.06,44.99 L225.88,46.47 L228.68,47.91 L231.38,49.27 L234.06,50.57 L236.81,51.83 L239.60,53.07 L242.39,54.29 L245.16,55.51 L247.86,56.73 L250.48,57.97 L252.96,59.22 L255.28,60.51 L257.46,61.83 L259.53,63.16 L261.55,64.49 L263.55,65.81 L265.59,67.10 L267.72,68.36 L269.97,69.57 L272.39,70.74 L274.97,71.91 L277.65,73.06 L280.35,74.17 L283.02,75.24 L285.60,76.25 L288.03,77.19 L290.24,78.04 L292.27,78.83 L294.20,79.57 L296.02,80.25 L297.72,80.87 L299.31,81.41 L300.77,81.86 L302.11,82.22 L303.32,82.47 L304.36,82.62 L305.23,82.66 L305.94,82.61 L306.55,82.48 L307.08,82.26 L307.57,81.96 L308.05,81.59 L308.55,81.15 L309.07,80.62 L309.54,79.98 L309.99,79.24 L310.41,78.44 L310.80,77.59 L311.16,76.71 L311.50,75.82 L311.82,74.93 L312.11,74.11 L312.36,73.35 L312.58,72.61 L312.78,71.82 L312.96,70.94 L313.14,69.90 L313.33,68.66 L313.52,67.16 L313.73,65.30 L313.94,63.11 L314.16,60.68 L314.36,58.12 L314.57,55.52 L314.76,52.98 L314.93,50.60 L315.09,48.49 L315.23,46.57 L315.35,44.69 L315.46,42.90 L315.55,41.21 L315.64,39.65 L315.72,38.25 L315.80,37.05 L315.88,36.05 L315.96,35.33 L316.04,34.86 L316.12,34.61 L316.19,34.50 L316.25,34.49 L316.31,34.52 L316.36,34.55 L316.40,34.50" fill="none" stroke="#e4483b" stroke-width="1.0" stroke-linejoin="round"/>
<path d="M185.60,34.50 L186.02,34.69 L186.49,34.90 L187.04,35.15 L187.70,35.45 L188.51,35.82 L189.50,36.29 L190.70,36.88 L192.14,37.61 L193.88,38.49 L195.92,39.50 L198.18,40.63 L200.62,41.86 L203.16,43.17 L205.75,44.53 L208.34,45.92 L210.84,47.33 L213.32,48.79 L215.83,50.35 L218.37,51.97 L220.93,53.63 L223.52,55.31 L226.13,56.97 L228.75,58.60 L231.38,60.16 L234.06,61.69 L236.81,63.23 L239.60,64.77 L242.39,66.28 L245.16,67.74 L247.86,69.14 L250.48,70.45 L252.96,71.66 L255.28,72.75 L257.46,73.71 L259.53,74.59 L261.55,75.40 L263.55,76.18 L265.59,76.97 L267.72,77.78 L269.97,78.66 L272.39,79.60 L274.97,80.58 L277.65,81.59 L280.35,82.59 L283.02,83.59 L285.60,84.56 L288.03,85.49 L290.24,86.36 L292.25,87.17 L294.12,87.93 L295.87,88.65 L297.51,89.34 L299.06,90.01 L300.53,90.68 L301.95,91.35 L303.32,92.03 L304.66,92.76 L305.94,93.52 L307.17,94.30 L308.32,95.06 L309.39,95.79 L310.36,96.45 L311.22,97.02 L311.95,97.48 L312.53,97.97 L312.96,98.60 L313.26,99.24 L313.47,99.76 L313.62,100.05 L313.75,99.97 L313.88,99.42 L314.05,98.25 L314.23,96.42 L314.39,93.98 L314.53,91.08 L314.66,87.81 L314.77,84.29 L314.88,80.63 L314.99,76.96 L315.09,73.38 L315.19,69.63 L315.28,65.49 L315.37,61.14 L315.44,56.76 L315.52,52.50 L315.59,48.56 L315.67,45.09 L315.75,42.27 L315.83,40.13 L315.92,38.51 L316.02,37.31 L316.11,36.44 L316.20,35.82 L316.28,35.35 L316.35,34.94 L316.40,34.50" fill="none" stroke="#2f3f78" stroke-width="1.0" stroke-linejoin="round"/>
<line x1="189.60" y1="84.40" x2="193.60" y2="84.40" stroke="#3db4d6" stroke-width="0.9"/>
<text x="194.90" y="85.75" font-size="3.8" fill="#3a3a3a" textLength="117" lengthAdjust="spacingAndGlyphs">REACTOME_SIGNALING_BY_RECEPTOR_TYROSINE_KINASES</text>
<line x1="189.60" y1="88.70" x2="193.60" y2="88.70" stroke="#e4483b" stroke-width="0.9"/>
<text x="194.90" y="90.05" font-size="3.8" fill="#3a3a3a" textLength="97.4" lengthAdjust="spacingAndGlyphs">IVANOVA_HEMATOPOIESIS_STEM_CELL_LONG_TERM</text>
<line x1="189.60" y1="93.00" x2="193.60" y2="93.00" stroke="#1f9a82" stroke-width="0.9"/>
<text x="194.90" y="94.35" font-size="3.8" fill="#3a3a3a" textLength="61.5" lengthAdjust="spacingAndGlyphs">WP_PI3KAKT_SIGNALING_PATHWAY</text>
<line x1="189.60" y1="97.60" x2="193.60" y2="97.60" stroke="#2f3f78" stroke-width="0.9"/>
<text x="194.90" y="98.95" font-size="3.8" fill="#3a3a3a" textLength="87" lengthAdjust="spacingAndGlyphs">REACTOME_MAPK_AND_MAPK_ACTIVATION</text>
<text x="238.50" y="35.20" font-size="7.3" fill="#231f20" textLength="76" lengthAdjust="spacingAndGlyphs">NES&lt;&#8211;1, <tspan font-style="italic">P</tspan> &lt; .05, q&lt;0.25</text>
<rect x="185.60" y="27.30" width="130.80" height="74.00" fill="none" stroke="#555" stroke-width="0.8"/>
<line x1="183.60" y1="34.50" x2="185.60" y2="34.50" stroke="#333" stroke-width="0.7"/>
<text x="181.80" y="37.10" font-size="7.4" text-anchor="end" fill="#231f20" textLength="11.5" lengthAdjust="spacingAndGlyphs">0.0</text>
<line x1="183.60" y1="50.05" x2="185.60" y2="50.05" stroke="#333" stroke-width="0.7"/>
<text x="181.80" y="52.65" font-size="7.4" text-anchor="end" fill="#231f20" textLength="13.8" lengthAdjust="spacingAndGlyphs">&#8211;0.2</text>
<line x1="183.60" y1="65.60" x2="185.60" y2="65.60" stroke="#333" stroke-width="0.7"/>
<text x="181.80" y="68.20" font-size="7.4" text-anchor="end" fill="#231f20" textLength="13.8" lengthAdjust="spacingAndGlyphs">&#8211;0.4</text>
<line x1="183.60" y1="81.15" x2="185.60" y2="81.15" stroke="#333" stroke-width="0.7"/>
<text x="181.80" y="83.75" font-size="7.4" text-anchor="end" fill="#231f20" textLength="13.8" lengthAdjust="spacingAndGlyphs">&#8211;0.6</text>
<line x1="183.60" y1="96.70" x2="185.60" y2="96.70" stroke="#333" stroke-width="0.7"/>
<text x="181.80" y="99.30" font-size="7.4" text-anchor="end" fill="#231f20" textLength="13.8" lengthAdjust="spacingAndGlyphs">&#8211;0.8</text>
<rect x="209.89" y="101.30" width="0.58" height="6.30" fill="#2f3f78"/>
<rect x="236.06" y="101.30" width="0.80" height="6.30" fill="#9aaccb"/>
<rect x="239.81" y="101.30" width="0.62" height="6.30" fill="#9aaccb"/>
<rect x="242.16" y="101.30" width="0.54" height="6.30" fill="#9aaccb"/>
<rect x="245.85" y="101.30" width="0.60" height="6.30" fill="#9aaccb"/>
<rect x="258.80" y="101.30" width="0.46" height="6.30" fill="#9aaccb"/>
<rect x="262.99" y="101.30" width="0.64" height="6.30" fill="#9aaccb"/>
<rect x="274.23" y="101.30" width="0.85" height="6.30" fill="#2f3f78"/>
<rect x="275.78" y="101.30" width="0.72" height="6.30" fill="#2f3f78"/>
<rect x="282.01" y="101.30" width="0.83" height="6.30" fill="#2f3f78"/>
<rect x="283.54" y="101.30" width="0.74" height="6.30" fill="#9aaccb"/>
<rect x="185.60" y="107.60" width="130.80" height="6.20" fill="#d3ece5"/>
<rect x="186.36" y="107.60" width="1.81" height="6.20" fill="#1f9a82"/>
<rect x="188.17" y="107.60" width="1.08" height="6.20" fill="#1f9a82"/>
<rect x="189.25" y="107.60" width="1.87" height="6.20" fill="#1f9a82"/>
<rect x="191.12" y="107.60" width="1.96" height="6.20" fill="#1f9a82"/>
<rect x="193.08" y="107.60" width="1.20" height="6.20" fill="#1f9a82"/>
<rect x="194.28" y="107.60" width="0.70" height="6.20" fill="#1f9a82"/>
<rect x="194.98" y="107.60" width="1.16" height="6.20" fill="#1f9a82"/>
<rect x="196.14" y="107.60" width="1.19" height="6.20" fill="#1f9a82"/>
<rect x="198.08" y="107.60" width="2.11" height="6.20" fill="#1f9a82"/>
<rect x="200.19" y="107.60" width="1.47" height="6.20" fill="#1f9a82"/>
<rect x="204.87" y="107.60" width="1.47" height="6.20" fill="#1f9a82"/>
<rect x="212.50" y="107.60" width="2.11" height="6.20" fill="#1f9a82"/>
<rect x="214.61" y="107.60" width="0.84" height="6.20" fill="#1f9a82"/>
<rect x="215.45" y="107.60" width="2.10" height="6.20" fill="#1f9a82"/>
<rect x="217.55" y="107.60" width="1.53" height="6.20" fill="#1f9a82"/>
<rect x="220.74" y="107.60" width="2.13" height="6.20" fill="#1f9a82"/>
<rect x="222.86" y="107.60" width="2.08" height="6.20" fill="#1f9a82"/>
<rect x="224.95" y="107.60" width="0.66" height="6.20" fill="#1f9a82"/>
<rect x="227.29" y="107.60" width="1.76" height="6.20" fill="#1f9a82"/>
<rect x="229.05" y="107.60" width="0.63" height="6.20" fill="#1f9a82"/>
<rect x="229.67" y="107.60" width="1.76" height="6.20" fill="#1f9a82"/>
<rect x="231.44" y="107.60" width="1.42" height="6.20" fill="#1f9a82"/>
<rect x="232.85" y="107.60" width="2.15" height="6.20" fill="#1f9a82"/>
<rect x="235.00" y="107.60" width="1.00" height="6.20" fill="#1f9a82"/>
<rect x="238.17" y="107.60" width="0.43" height="6.20" fill="#1f9a82"/>
<rect x="242.25" y="107.60" width="1.13" height="6.20" fill="#1f9a82"/>
<rect x="243.39" y="107.60" width="1.79" height="6.20" fill="#1f9a82"/>
<rect x="245.17" y="107.60" width="1.65" height="6.20" fill="#1f9a82"/>
<rect x="247.87" y="107.60" width="0.53" height="6.20" fill="#1f9a82"/>
<rect x="248.40" y="107.60" width="1.03" height="6.20" fill="#1f9a82"/>
<rect x="249.43" y="107.60" width="0.71" height="6.20" fill="#1f9a82"/>
<rect x="250.13" y="107.60" width="1.96" height="6.20" fill="#1f9a82"/>
<rect x="252.09" y="107.60" width="0.71" height="6.20" fill="#1f9a82"/>
<rect x="252.80" y="107.60" width="0.50" height="6.20" fill="#1f9a82"/>
<rect x="253.98" y="107.60" width="1.40" height="6.20" fill="#1f9a82"/>
<rect x="255.38" y="107.60" width="1.58" height="6.20" fill="#1f9a82"/>
<rect x="256.96" y="107.60" width="2.00" height="6.20" fill="#1f9a82"/>
<rect x="258.96" y="107.60" width="1.45" height="6.20" fill="#1f9a82"/>
<rect x="260.41" y="107.60" width="1.25" height="6.20" fill="#1f9a82"/>
<rect x="261.66" y="107.60" width="0.52" height="6.20" fill="#1f9a82"/>
<rect x="262.18" y="107.60" width="0.49" height="6.20" fill="#1f9a82"/>
<rect x="262.67" y="107.60" width="2.04" height="6.20" fill="#1f9a82"/>
<rect x="264.71" y="107.60" width="1.31" height="6.20" fill="#1f9a82"/>
<rect x="266.02" y="107.60" width="1.06" height="6.20" fill="#1f9a82"/>
<rect x="267.08" y="107.60" width="1.30" height="6.20" fill="#1f9a82"/>
<rect x="269.29" y="107.60" width="2.02" height="6.20" fill="#1f9a82"/>
<rect x="271.31" y="107.60" width="2.15" height="6.20" fill="#1f9a82"/>
<rect x="273.47" y="107.60" width="0.62" height="6.20" fill="#1f9a82"/>
<rect x="274.09" y="107.60" width="1.64" height="6.20" fill="#1f9a82"/>
<rect x="275.72" y="107.60" width="1.47" height="6.20" fill="#1f9a82"/>
<rect x="277.19" y="107.60" width="0.64" height="6.20" fill="#1f9a82"/>
<rect x="278.61" y="107.60" width="0.98" height="6.20" fill="#1f9a82"/>
<rect x="279.59" y="107.60" width="1.62" height="6.20" fill="#1f9a82"/>
<rect x="281.21" y="107.60" width="1.49" height="6.20" fill="#1f9a82"/>
<rect x="282.70" y="107.60" width="1.69" height="6.20" fill="#1f9a82"/>
<rect x="285.66" y="107.60" width="1.67" height="6.20" fill="#1f9a82"/>
<rect x="287.33" y="107.60" width="1.91" height="6.20" fill="#1f9a82"/>
<rect x="289.24" y="107.60" width="0.56" height="6.20" fill="#1f9a82"/>
<rect x="289.80" y="107.60" width="1.49" height="6.20" fill="#1f9a82"/>
<rect x="291.28" y="107.60" width="1.19" height="6.20" fill="#1f9a82"/>
<rect x="292.48" y="107.60" width="1.85" height="6.20" fill="#1f9a82"/>
<rect x="294.33" y="107.60" width="1.00" height="6.20" fill="#1f9a82"/>
<rect x="296.00" y="107.60" width="1.00" height="6.20" fill="#1f9a82"/>
<rect x="297.00" y="107.60" width="1.10" height="6.20" fill="#1f9a82"/>
<rect x="298.11" y="107.60" width="1.62" height="6.20" fill="#1f9a82"/>
<rect x="299.73" y="107.60" width="1.50" height="6.20" fill="#1f9a82"/>
<rect x="301.23" y="107.60" width="1.29" height="6.20" fill="#1f9a82"/>
<rect x="302.52" y="107.60" width="2.19" height="6.20" fill="#1f9a82"/>
<rect x="304.70" y="107.60" width="2.10" height="6.20" fill="#1f9a82"/>
<rect x="306.80" y="107.60" width="1.54" height="6.20" fill="#1f9a82"/>
<rect x="308.34" y="107.60" width="0.85" height="6.20" fill="#1f9a82"/>
<rect x="309.20" y="107.60" width="0.85" height="6.20" fill="#1f9a82"/>
<rect x="310.05" y="107.60" width="1.28" height="6.20" fill="#1f9a82"/>
<rect x="311.33" y="107.60" width="0.48" height="6.20" fill="#1f9a82"/>
<rect x="311.81" y="107.60" width="1.99" height="6.20" fill="#1f9a82"/>
<rect x="313.81" y="107.60" width="2.12" height="6.20" fill="#1f9a82"/>
<rect x="315.92" y="107.60" width="0.48" height="6.20" fill="#1f9a82"/>
<rect x="185.60" y="113.80" width="130.80" height="6.00" fill="#fbe0db"/>
<rect x="185.60" y="113.80" width="1.43" height="6.00" fill="#e4483b"/>
<rect x="187.03" y="113.80" width="1.01" height="6.00" fill="#e4483b"/>
<rect x="188.04" y="113.80" width="1.01" height="6.00" fill="#e4483b"/>
<rect x="189.62" y="113.80" width="2.15" height="6.00" fill="#e4483b"/>
<rect x="191.77" y="113.80" width="1.15" height="6.00" fill="#e4483b"/>
<rect x="192.91" y="113.80" width="0.44" height="6.00" fill="#e4483b"/>
<rect x="195.41" y="113.80" width="1.47" height="6.00" fill="#e4483b"/>
<rect x="196.88" y="113.80" width="1.83" height="6.00" fill="#e4483b"/>
<rect x="199.88" y="113.80" width="1.25" height="6.00" fill="#e4483b"/>
<rect x="201.13" y="113.80" width="1.91" height="6.00" fill="#e4483b"/>
<rect x="203.89" y="113.80" width="2.15" height="6.00" fill="#e4483b"/>
<rect x="216.84" y="113.80" width="1.18" height="6.00" fill="#e4483b"/>
<rect x="221.30" y="113.80" width="1.14" height="6.00" fill="#e4483b"/>
<rect x="222.44" y="113.80" width="1.27" height="6.00" fill="#e4483b"/>
<rect x="227.17" y="113.80" width="1.51" height="6.00" fill="#e4483b"/>
<rect x="228.69" y="113.80" width="1.19" height="6.00" fill="#e4483b"/>
<rect x="229.87" y="113.80" width="0.91" height="6.00" fill="#e4483b"/>
<rect x="230.78" y="113.80" width="1.22" height="6.00" fill="#e4483b"/>
<rect x="232.00" y="113.80" width="2.09" height="6.00" fill="#e4483b"/>
<rect x="235.72" y="113.80" width="0.87" height="6.00" fill="#e4483b"/>
<rect x="238.14" y="113.80" width="1.54" height="6.00" fill="#e4483b"/>
<rect x="239.68" y="113.80" width="0.60" height="6.00" fill="#e4483b"/>
<rect x="243.28" y="113.80" width="1.14" height="6.00" fill="#e4483b"/>
<rect x="245.37" y="113.80" width="1.72" height="6.00" fill="#e4483b"/>
<rect x="247.09" y="113.80" width="1.26" height="6.00" fill="#e4483b"/>
<rect x="248.35" y="113.80" width="1.13" height="6.00" fill="#e4483b"/>
<rect x="249.48" y="113.80" width="1.83" height="6.00" fill="#e4483b"/>
<rect x="255.16" y="113.80" width="0.68" height="6.00" fill="#e4483b"/>
<rect x="258.48" y="113.80" width="1.37" height="6.00" fill="#e4483b"/>
<rect x="260.53" y="113.80" width="2.14" height="6.00" fill="#e4483b"/>
<rect x="264.02" y="113.80" width="0.46" height="6.00" fill="#e4483b"/>
<rect x="264.48" y="113.80" width="1.83" height="6.00" fill="#e4483b"/>
<rect x="266.31" y="113.80" width="1.03" height="6.00" fill="#e4483b"/>
<rect x="267.33" y="113.80" width="1.67" height="6.00" fill="#e4483b"/>
<rect x="269.00" y="113.80" width="1.65" height="6.00" fill="#e4483b"/>
<rect x="272.73" y="113.80" width="0.65" height="6.00" fill="#e4483b"/>
<rect x="276.56" y="113.80" width="1.99" height="6.00" fill="#e4483b"/>
<rect x="279.57" y="113.80" width="1.35" height="6.00" fill="#e4483b"/>
<rect x="280.92" y="113.80" width="1.19" height="6.00" fill="#e4483b"/>
<rect x="282.10" y="113.80" width="0.58" height="6.00" fill="#e4483b"/>
<rect x="282.68" y="113.80" width="0.78" height="6.00" fill="#e4483b"/>
<rect x="283.46" y="113.80" width="1.16" height="6.00" fill="#e4483b"/>
<rect x="284.63" y="113.80" width="1.87" height="6.00" fill="#e4483b"/>
<rect x="286.96" y="113.80" width="1.72" height="6.00" fill="#e4483b"/>
<rect x="288.69" y="113.80" width="1.84" height="6.00" fill="#e4483b"/>
<rect x="290.53" y="113.80" width="1.85" height="6.00" fill="#e4483b"/>
<rect x="292.38" y="113.80" width="1.73" height="6.00" fill="#e4483b"/>
<rect x="296.50" y="113.80" width="2.06" height="6.00" fill="#e4483b"/>
<rect x="298.56" y="113.80" width="0.62" height="6.00" fill="#e4483b"/>
<rect x="299.18" y="113.80" width="0.74" height="6.00" fill="#e4483b"/>
<rect x="299.91" y="113.80" width="0.66" height="6.00" fill="#e4483b"/>
<rect x="300.58" y="113.80" width="1.51" height="6.00" fill="#e4483b"/>
<rect x="305.33" y="113.80" width="0.67" height="6.00" fill="#e4483b"/>
<rect x="306.00" y="113.80" width="0.94" height="6.00" fill="#e4483b"/>
<rect x="306.94" y="113.80" width="0.96" height="6.00" fill="#e4483b"/>
<rect x="308.62" y="113.80" width="1.90" height="6.00" fill="#e4483b"/>
<rect x="311.19" y="113.80" width="1.52" height="6.00" fill="#e4483b"/>
<rect x="312.70" y="113.80" width="1.62" height="6.00" fill="#e4483b"/>
<rect x="314.32" y="113.80" width="1.43" height="6.00" fill="#e4483b"/>
<rect x="315.75" y="113.80" width="0.65" height="6.00" fill="#e4483b"/>
<rect x="185.60" y="119.80" width="130.80" height="6.10" fill="#cdebf5"/>
<rect x="185.60" y="119.80" width="1.89" height="6.10" fill="#3db4d6"/>
<rect x="187.49" y="119.80" width="0.99" height="6.10" fill="#3db4d6"/>
<rect x="188.48" y="119.80" width="1.30" height="6.10" fill="#3db4d6"/>
<rect x="189.78" y="119.80" width="1.06" height="6.10" fill="#3db4d6"/>
<rect x="190.85" y="119.80" width="2.19" height="6.10" fill="#3db4d6"/>
<rect x="193.04" y="119.80" width="1.47" height="6.10" fill="#3db4d6"/>
<rect x="194.50" y="119.80" width="0.78" height="6.10" fill="#3db4d6"/>
<rect x="195.28" y="119.80" width="0.63" height="6.10" fill="#3db4d6"/>
<rect x="198.01" y="119.80" width="1.91" height="6.10" fill="#3db4d6"/>
<rect x="199.92" y="119.80" width="0.81" height="6.10" fill="#3db4d6"/>
<rect x="200.73" y="119.80" width="1.06" height="6.10" fill="#3db4d6"/>
<rect x="202.74" y="119.80" width="1.37" height="6.10" fill="#3db4d6"/>
<rect x="204.10" y="119.80" width="1.82" height="6.10" fill="#3db4d6"/>
<rect x="205.92" y="119.80" width="1.47" height="6.10" fill="#3db4d6"/>
<rect x="207.39" y="119.80" width="0.52" height="6.10" fill="#3db4d6"/>
<rect x="207.91" y="119.80" width="0.96" height="6.10" fill="#3db4d6"/>
<rect x="208.87" y="119.80" width="1.21" height="6.10" fill="#3db4d6"/>
<rect x="211.19" y="119.80" width="0.88" height="6.10" fill="#3db4d6"/>
<rect x="212.07" y="119.80" width="1.30" height="6.10" fill="#3db4d6"/>
<rect x="213.37" y="119.80" width="1.23" height="6.10" fill="#3db4d6"/>
<rect x="219.18" y="119.80" width="0.51" height="6.10" fill="#3db4d6"/>
<rect x="219.69" y="119.80" width="1.24" height="6.10" fill="#3db4d6"/>
<rect x="220.93" y="119.80" width="0.99" height="6.10" fill="#3db4d6"/>
<rect x="221.92" y="119.80" width="0.86" height="6.10" fill="#3db4d6"/>
<rect x="222.78" y="119.80" width="0.43" height="6.10" fill="#3db4d6"/>
<rect x="224.16" y="119.80" width="0.65" height="6.10" fill="#3db4d6"/>
<rect x="227.78" y="119.80" width="1.54" height="6.10" fill="#3db4d6"/>
<rect x="229.32" y="119.80" width="1.06" height="6.10" fill="#3db4d6"/>
<rect x="230.38" y="119.80" width="0.76" height="6.10" fill="#3db4d6"/>
<rect x="231.14" y="119.80" width="1.17" height="6.10" fill="#3db4d6"/>
<rect x="232.31" y="119.80" width="1.68" height="6.10" fill="#3db4d6"/>
<rect x="233.99" y="119.80" width="0.97" height="6.10" fill="#3db4d6"/>
<rect x="234.96" y="119.80" width="1.79" height="6.10" fill="#3db4d6"/>
<rect x="236.75" y="119.80" width="1.85" height="6.10" fill="#3db4d6"/>
<rect x="239.06" y="119.80" width="1.38" height="6.10" fill="#3db4d6"/>
<rect x="240.44" y="119.80" width="0.78" height="6.10" fill="#3db4d6"/>
<rect x="242.30" y="119.80" width="0.77" height="6.10" fill="#3db4d6"/>
<rect x="243.07" y="119.80" width="1.84" height="6.10" fill="#3db4d6"/>
<rect x="244.92" y="119.80" width="0.50" height="6.10" fill="#3db4d6"/>
<rect x="245.42" y="119.80" width="2.01" height="6.10" fill="#3db4d6"/>
<rect x="247.42" y="119.80" width="0.63" height="6.10" fill="#3db4d6"/>
<rect x="248.05" y="119.80" width="1.84" height="6.10" fill="#3db4d6"/>
<rect x="249.90" y="119.80" width="1.68" height="6.10" fill="#3db4d6"/>
<rect x="251.58" y="119.80" width="1.96" height="6.10" fill="#3db4d6"/>
<rect x="253.54" y="119.80" width="0.94" height="6.10" fill="#3db4d6"/>
<rect x="254.48" y="119.80" width="1.29" height="6.10" fill="#3db4d6"/>
<rect x="255.77" y="119.80" width="2.07" height="6.10" fill="#3db4d6"/>
<rect x="257.84" y="119.80" width="1.02" height="6.10" fill="#3db4d6"/>
<rect x="259.77" y="119.80" width="1.99" height="6.10" fill="#3db4d6"/>
<rect x="261.76" y="119.80" width="0.50" height="6.10" fill="#3db4d6"/>
<rect x="262.26" y="119.80" width="2.02" height="6.10" fill="#3db4d6"/>
<rect x="264.80" y="119.80" width="1.18" height="6.10" fill="#3db4d6"/>
<rect x="265.99" y="119.80" width="2.00" height="6.10" fill="#3db4d6"/>
<rect x="267.99" y="119.80" width="1.67" height="6.10" fill="#3db4d6"/>
<rect x="270.82" y="119.80" width="0.44" height="6.10" fill="#3db4d6"/>
<rect x="272.32" y="119.80" width="0.65" height="6.10" fill="#3db4d6"/>
<rect x="272.97" y="119.80" width="0.74" height="6.10" fill="#3db4d6"/>
<rect x="273.70" y="119.80" width="1.87" height="6.10" fill="#3db4d6"/>
<rect x="276.73" y="119.80" width="2.05" height="6.10" fill="#3db4d6"/>
<rect x="278.78" y="119.80" width="1.65" height="6.10" fill="#3db4d6"/>
<rect x="280.43" y="119.80" width="1.55" height="6.10" fill="#3db4d6"/>
<rect x="281.98" y="119.80" width="1.32" height="6.10" fill="#3db4d6"/>
<rect x="283.73" y="119.80" width="2.02" height="6.10" fill="#3db4d6"/>
<rect x="285.76" y="119.80" width="1.80" height="6.10" fill="#3db4d6"/>
<rect x="287.56" y="119.80" width="0.50" height="6.10" fill="#3db4d6"/>
<rect x="288.06" y="119.80" width="0.47" height="6.10" fill="#3db4d6"/>
<rect x="288.53" y="119.80" width="1.02" height="6.10" fill="#3db4d6"/>
<rect x="289.55" y="119.80" width="0.60" height="6.10" fill="#3db4d6"/>
<rect x="290.15" y="119.80" width="1.17" height="6.10" fill="#3db4d6"/>
<rect x="291.32" y="119.80" width="0.47" height="6.10" fill="#3db4d6"/>
<rect x="291.79" y="119.80" width="1.81" height="6.10" fill="#3db4d6"/>
<rect x="293.60" y="119.80" width="0.74" height="6.10" fill="#3db4d6"/>
<rect x="294.34" y="119.80" width="1.03" height="6.10" fill="#3db4d6"/>
<rect x="295.80" y="119.80" width="1.25" height="6.10" fill="#3db4d6"/>
<rect x="297.06" y="119.80" width="1.41" height="6.10" fill="#3db4d6"/>
<rect x="298.46" y="119.80" width="0.88" height="6.10" fill="#3db4d6"/>
<rect x="299.34" y="119.80" width="2.15" height="6.10" fill="#3db4d6"/>
<rect x="301.49" y="119.80" width="1.45" height="6.10" fill="#3db4d6"/>
<rect x="302.94" y="119.80" width="1.15" height="6.10" fill="#3db4d6"/>
<rect x="304.10" y="119.80" width="2.08" height="6.10" fill="#3db4d6"/>
<rect x="306.18" y="119.80" width="1.01" height="6.10" fill="#3db4d6"/>
<rect x="307.19" y="119.80" width="0.93" height="6.10" fill="#3db4d6"/>
<rect x="308.12" y="119.80" width="1.50" height="6.10" fill="#3db4d6"/>
<rect x="309.61" y="119.80" width="0.86" height="6.10" fill="#3db4d6"/>
<rect x="310.47" y="119.80" width="1.94" height="6.10" fill="#3db4d6"/>
<rect x="312.41" y="119.80" width="1.94" height="6.10" fill="#3db4d6"/>
<rect x="314.35" y="119.80" width="0.67" height="6.10" fill="#3db4d6"/>
<rect x="315.02" y="119.80" width="0.47" height="6.10" fill="#3db4d6"/>
<rect x="315.49" y="119.80" width="0.91" height="6.10" fill="#3db4d6"/>
<line x1="185.60" y1="133.00" x2="316.40" y2="133.00" stroke="#ececec" stroke-width="0.6"/>
<line x1="185.60" y1="140.30" x2="316.40" y2="140.30" stroke="#ececec" stroke-width="0.6"/>
<line x1="185.60" y1="147.60" x2="316.40" y2="147.60" stroke="#ececec" stroke-width="0.6"/>
<line x1="185.60" y1="154.90" x2="316.40" y2="154.90" stroke="#ececec" stroke-width="0.6"/>
<line x1="185.60" y1="162.20" x2="316.40" y2="162.20" stroke="#ececec" stroke-width="0.6"/>
<path d="M185.60,140.30 L185.60,137.23 L186.25,138.04 L186.91,138.69 L187.56,139.21 L188.22,139.57 L188.87,139.79 L189.52,139.86 L190.18,139.87 L190.83,139.87 L191.49,139.88 L192.14,139.88 L192.79,139.89 L193.45,139.89 L194.10,139.90 L194.76,139.90 L195.41,139.91 L196.06,139.91 L196.72,139.92 L197.37,139.92 L198.03,139.93 L198.68,139.93 L199.33,139.94 L199.99,139.94 L200.64,139.95 L201.30,139.95 L201.95,139.96 L202.60,139.96 L203.26,139.97 L203.91,139.97 L204.57,139.98 L205.22,139.98 L205.87,139.99 L206.53,139.99 L207.18,140.00 L207.84,140.00 L208.49,140.01 L209.14,140.01 L209.80,140.02 L210.45,140.02 L211.11,140.03 L211.76,140.03 L212.41,140.04 L213.07,140.04 L213.72,140.05 L214.38,140.05 L215.03,140.06 L215.68,140.06 L216.34,140.07 L216.99,140.07 L217.65,140.08 L218.30,140.08 L218.95,140.09 L219.61,140.09 L220.26,140.10 L220.92,140.10 L221.57,140.11 L222.22,140.11 L222.88,140.12 L223.53,140.12 L224.19,140.13 L224.84,140.13 L225.49,140.14 L226.15,140.14 L226.80,140.15 L227.46,140.15 L228.11,140.16 L228.76,140.16 L229.42,140.17 L230.07,140.17 L230.73,140.18 L231.38,140.18 L232.03,140.19 L232.69,140.19 L233.34,140.20 L234.00,140.20 L234.65,140.21 L235.30,140.21 L235.96,140.22 L236.61,140.22 L237.27,140.23 L237.92,140.23 L238.57,140.24 L239.23,140.24 L239.88,140.25 L240.54,140.25 L241.19,140.26 L241.84,140.26 L242.50,140.27 L243.15,140.27 L243.81,140.28 L244.46,140.28 L245.11,140.29 L245.77,140.29 L246.42,140.30 L247.08,140.31 L247.73,140.31 L248.38,140.32 L249.04,140.32 L249.69,140.33 L250.35,140.33 L251.00,140.34 L251.65,140.34 L252.31,140.35 L252.96,140.35 L253.62,140.36 L254.27,140.36 L254.92,140.37 L255.58,140.37 L256.23,140.38 L256.89,140.38 L257.54,140.39 L258.19,140.39 L258.85,140.40 L259.50,140.40 L260.16,140.41 L260.81,140.41 L261.46,140.42 L262.12,140.42 L262.77,140.43 L263.43,140.43 L264.08,140.44 L264.73,140.44 L265.39,140.45 L266.04,140.45 L266.70,140.46 L267.35,140.46 L268.00,140.47 L268.66,140.47 L269.31,140.48 L269.97,140.48 L270.62,140.49 L271.27,140.49 L271.93,140.50 L272.58,140.50 L273.24,140.51 L273.89,140.51 L274.54,140.52 L275.20,140.52 L275.85,140.53 L276.51,140.53 L277.16,140.54 L277.81,140.54 L278.47,140.55 L279.12,140.55 L279.78,140.56 L280.43,140.56 L281.08,140.57 L281.74,140.57 L282.39,140.58 L283.05,140.58 L283.70,140.59 L284.35,140.59 L285.01,140.60 L285.66,140.60 L286.32,140.61 L286.97,140.61 L287.62,140.62 L288.28,140.62 L288.93,140.63 L289.59,140.63 L290.24,140.64 L290.89,140.64 L291.55,140.65 L292.20,140.65 L292.86,140.66 L293.51,140.66 L294.16,140.67 L294.82,140.67 L295.47,140.68 L296.13,140.68 L296.78,140.69 L297.43,140.69 L298.09,140.70 L298.74,140.70 L299.40,140.71 L300.05,140.71 L300.70,140.72 L301.36,140.72 L302.01,140.73 L302.67,140.73 L303.32,140.74 L303.97,140.74 L304.63,140.77 L305.28,140.83 L305.94,140.92 L306.59,141.07 L307.24,141.27 L307.90,141.54 L308.55,141.87 L309.21,142.28 L309.86,142.76 L310.51,143.33 L311.17,143.99 L311.82,144.74 L312.48,145.59 L313.13,146.54 L313.78,147.60 L314.44,148.78 L315.09,150.06 L315.75,151.47 L316.40,153.00 L316.40,140.30 Z" fill="#c9c9c9" stroke="#9a9a9a" stroke-width="0.5"/>
<line x1="185.60" y1="125.90" x2="316.40" y2="125.90" stroke="#444" stroke-width="0.9"/>
<line x1="185.60" y1="125.90" x2="185.60" y2="165.00" stroke="#555" stroke-width="0.8"/>
<line x1="316.40" y1="125.90" x2="316.40" y2="165.00" stroke="#bbb" stroke-width="0.5"/>
<line x1="185.60" y1="165.00" x2="316.40" y2="165.00" stroke="#555" stroke-width="0.8"/>
<line x1="185.60" y1="101.30" x2="185.60" y2="125.90" stroke="#555" stroke-width="0.8"/>
<line x1="316.40" y1="101.30" x2="316.40" y2="125.90" stroke="#555" stroke-width="0.8"/>
<line x1="183.60" y1="133.00" x2="185.60" y2="133.00" stroke="#333" stroke-width="0.7"/>
<text x="181.80" y="135.60" font-size="7.4" text-anchor="end" fill="#231f20" textLength="11.5" lengthAdjust="spacingAndGlyphs">2.5</text>
<line x1="183.60" y1="140.30" x2="185.60" y2="140.30" stroke="#333" stroke-width="0.7"/>
<text x="181.80" y="142.90" font-size="7.4" text-anchor="end" fill="#231f20" textLength="11.5" lengthAdjust="spacingAndGlyphs">0.0</text>
<line x1="183.60" y1="147.60" x2="185.60" y2="147.60" stroke="#333" stroke-width="0.7"/>
<text x="181.80" y="150.20" font-size="7.4" text-anchor="end" fill="#231f20" textLength="15.5" lengthAdjust="spacingAndGlyphs">&#8211;2.5</text>
<line x1="183.60" y1="154.90" x2="185.60" y2="154.90" stroke="#333" stroke-width="0.7"/>
<text x="181.80" y="157.50" font-size="7.4" text-anchor="end" fill="#231f20" textLength="15.5" lengthAdjust="spacingAndGlyphs">&#8211;5.0</text>
<line x1="183.60" y1="162.20" x2="185.60" y2="162.20" stroke="#333" stroke-width="0.7"/>
<text x="181.80" y="164.80" font-size="7.4" text-anchor="end" fill="#231f20" textLength="15.5" lengthAdjust="spacingAndGlyphs">&#8211;7.5</text>
<line x1="218.25" y1="165.00" x2="218.25" y2="167.00" stroke="#333" stroke-width="0.7"/>
<text x="218.25" y="176.80" font-size="7.4" text-anchor="middle" fill="#231f20" textLength="15.5" lengthAdjust="spacingAndGlyphs">3000</text>
<line x1="250.90" y1="165.00" x2="250.90" y2="167.00" stroke="#333" stroke-width="0.7"/>
<text x="250.90" y="176.80" font-size="7.4" text-anchor="middle" fill="#231f20" textLength="15.5" lengthAdjust="spacingAndGlyphs">6000</text>
<line x1="283.55" y1="165.00" x2="283.55" y2="167.00" stroke="#333" stroke-width="0.7"/>
<text x="283.55" y="176.80" font-size="7.4" text-anchor="middle" fill="#231f20" textLength="15.5" lengthAdjust="spacingAndGlyphs">9000</text>
<line x1="316.20" y1="165.00" x2="316.20" y2="167.00" stroke="#333" stroke-width="0.7"/>
<text x="316.20" y="176.80" font-size="7.4" text-anchor="middle" fill="#231f20" textLength="19.5" lengthAdjust="spacingAndGlyphs">12000</text>
<text x="213.00" y="189.20" font-size="9.0" fill="#231f20" textLength="74.5" lengthAdjust="spacingAndGlyphs">Rank in ordered dataset</text>
<text transform="translate(159.50,65.50) rotate(-90)" x="0" y="3.15" font-size="9.0" text-anchor="middle" fill="#231f20" textLength="55" lengthAdjust="spacingAndGlyphs">Enrichment score</text>
<text transform="translate(159.50,146.00) rotate(-90)" x="0" y="3.15" font-size="9.0" text-anchor="middle" fill="#231f20" textLength="57" lengthAdjust="spacingAndGlyphs">Ranked list metric</text>
<text x="210.60" y="139.00" font-size="7.4" font-style="italic" fill="#333">Prl2<tspan font-size="4.74" dy="-3.11">+/+</tspan></text>
<text x="262.80" y="139.00" font-size="7.4" font-style="italic" fill="#333">Prl2<tspan font-size="4.74" dy="-3.11">-/-</tspan></text>
<rect x="380.00" y="27.30" width="131.20" height="73.50" fill="#fff"/>
<line x1="412.75" y1="27.30" x2="412.75" y2="100.80" stroke="#e6e6e6" stroke-width="0.6"/>
<line x1="412.75" y1="125.60" x2="412.75" y2="164.00" stroke="#e6e6e6" stroke-width="0.6"/>
<line x1="445.50" y1="27.30" x2="445.50" y2="100.80" stroke="#e6e6e6" stroke-width="0.6"/>
<line x1="445.50" y1="125.60" x2="445.50" y2="164.00" stroke="#e6e6e6" stroke-width="0.6"/>
<line x1="478.25" y1="27.30" x2="478.25" y2="100.80" stroke="#e6e6e6" stroke-width="0.6"/>
<line x1="478.25" y1="125.60" x2="478.25" y2="164.00" stroke="#e6e6e6" stroke-width="0.6"/>
<line x1="380.00" y1="38.60" x2="511.20" y2="38.60" stroke="#9a9a9a" stroke-width="0.8"/>
<line x1="380.00" y1="54.80" x2="511.20" y2="54.80" stroke="#f0dede" stroke-width="0.6"/>
<line x1="380.00" y1="71.00" x2="511.20" y2="71.00" stroke="#f0dede" stroke-width="0.6"/>
<line x1="380.00" y1="87.20" x2="511.20" y2="87.20" stroke="#f0dede" stroke-width="0.6"/>
<path d="M380.00,38.60 L380.20,38.13 L380.46,37.48 L380.76,36.69 L381.11,35.84 L381.48,34.98 L381.86,34.17 L382.25,33.46 L382.62,32.93 L383.01,32.55 L383.41,32.28 L383.83,32.08 L384.26,31.94 L384.69,31.86 L385.11,31.80 L385.52,31.76 L385.90,31.71 L386.24,31.66 L386.52,31.62 L386.78,31.59 L387.04,31.59 L387.31,31.63 L387.64,31.72 L388.03,31.88 L388.53,32.12 L389.00,32.38 L389.38,32.62 L389.75,32.89 L390.21,33.23 L390.84,33.69 L391.74,34.30 L393.00,35.12 L394.69,36.17 L396.90,37.51 L399.56,39.13 L402.57,40.95 L405.85,42.93 L409.30,45.00 L412.82,47.10 L416.34,49.17 L419.75,51.16 L423.16,53.12 L426.69,55.13 L430.29,57.18 L433.93,59.23 L437.56,61.26 L441.14,63.24 L444.62,65.14 L447.96,66.95 L451.21,68.69 L454.44,70.40 L457.61,72.06 L460.70,73.66 L463.70,75.18 L466.57,76.60 L469.29,77.92 L471.84,79.10 L474.22,80.16 L476.47,81.12 L478.59,81.99 L480.57,82.75 L482.42,83.40 L484.14,83.96 L485.73,84.42 L487.19,84.77 L488.47,85.00 L489.54,85.10 L490.45,85.08 L491.25,84.97 L491.97,84.79 L492.67,84.54 L493.38,84.26 L494.14,83.96 L494.95,83.62 L495.74,83.21 L496.52,82.75 L497.28,82.24 L498.03,81.69 L498.77,81.11 L499.48,80.52 L500.18,79.91 L500.87,79.32 L501.55,78.74 L502.22,78.15 L502.88,77.53 L503.50,76.85 L504.10,76.09 L504.66,75.23 L505.16,74.24 L505.62,73.13 L506.03,71.92 L506.40,70.62 L506.73,69.23 L507.04,67.76 L507.34,66.21 L507.63,64.59 L507.92,62.90 L508.21,61.05 L508.48,59.00 L508.74,56.83 L508.99,54.60 L509.23,52.40 L509.46,50.29 L509.68,48.37 L509.89,46.70 L510.09,45.24 L510.29,43.92 L510.49,42.71 L510.67,41.64 L510.83,40.69 L510.98,39.87 L511.10,39.17 L511.20,38.60" fill="none" stroke="#a9b8b4" stroke-width="1.0" stroke-linejoin="round"/>
<path d="M380.00,38.60 L380.20,38.20 L380.46,37.64 L380.76,36.97 L381.11,36.25 L381.48,35.51 L381.86,34.81 L382.25,34.21 L382.62,33.74 L383.01,33.40 L383.41,33.14 L383.83,32.95 L384.26,32.80 L384.69,32.70 L385.11,32.63 L385.52,32.57 L385.90,32.52 L386.24,32.47 L386.52,32.43 L386.78,32.40 L387.04,32.40 L387.31,32.44 L387.64,32.53 L388.03,32.69 L388.53,32.93 L389.00,33.19 L389.38,33.43 L389.75,33.70 L390.21,34.04 L390.84,34.50 L391.74,35.11 L393.00,35.93 L394.69,36.98 L396.90,38.33 L399.56,39.95 L402.57,41.78 L405.85,43.76 L409.30,45.84 L412.82,47.93 L416.34,50.00 L419.75,51.97 L423.16,53.88 L426.69,55.83 L430.29,57.80 L433.93,59.76 L437.56,61.71 L441.14,63.64 L444.62,65.53 L447.96,67.36 L451.21,69.18 L454.44,71.04 L457.61,72.90 L460.70,74.71 L463.70,76.44 L466.57,78.04 L469.29,79.48 L471.84,80.72 L474.22,81.75 L476.47,82.62 L478.59,83.34 L480.57,83.92 L482.42,84.40 L484.14,84.78 L485.73,85.09 L487.19,85.34 L488.47,85.50 L489.54,85.55 L490.45,85.50 L491.25,85.37 L491.97,85.17 L492.67,84.93 L493.38,84.65 L494.14,84.36 L494.95,84.04 L495.74,83.65 L496.52,83.21 L497.28,82.73 L498.03,82.23 L498.77,81.72 L499.48,81.21 L500.18,80.72 L500.87,80.27 L501.55,79.87 L502.22,79.48 L502.88,79.07 L503.50,78.62 L504.10,78.09 L504.66,77.45 L505.16,76.67 L505.62,75.79 L506.03,74.85 L506.40,73.83 L506.73,72.72 L507.04,71.50 L507.34,70.14 L507.63,68.63 L507.92,66.95 L508.21,64.98 L508.48,62.67 L508.74,60.15 L508.99,57.53 L509.23,54.93 L509.46,52.45 L509.68,50.21 L509.89,48.32 L510.09,46.75 L510.29,45.36 L510.49,44.16 L510.67,43.11 L510.83,42.20 L510.98,41.43 L511.10,40.77 L511.20,40.22" fill="none" stroke="#e4483b" stroke-width="1.0" stroke-linejoin="round"/>
<path d="M380.00,38.60 L380.20,38.06 L380.46,37.30 L380.76,36.40 L381.11,35.41 L381.48,34.42 L381.86,33.49 L382.25,32.70 L382.62,32.12 L383.01,31.74 L383.41,31.49 L383.83,31.35 L384.26,31.29 L384.69,31.29 L385.11,31.31 L385.52,31.32 L385.90,31.31 L386.24,31.26 L386.52,31.18 L386.78,31.10 L387.04,31.05 L387.31,31.04 L387.64,31.11 L388.03,31.27 L388.53,31.55 L389.00,31.91 L389.38,32.30 L389.75,32.75 L390.21,33.28 L390.84,33.94 L391.74,34.74 L393.00,35.72 L394.69,36.90 L396.90,38.33 L399.56,40.01 L402.57,41.88 L405.85,43.89 L409.30,45.98 L412.82,48.10 L416.34,50.20 L419.75,52.21 L423.16,54.18 L426.69,56.19 L430.29,58.22 L433.93,60.26 L437.56,62.28 L441.14,64.29 L444.62,66.25 L447.96,68.16 L451.21,70.08 L454.44,72.04 L457.61,74.00 L460.70,75.91 L463.70,77.74 L466.57,79.45 L469.29,81.00 L471.84,82.34 L474.22,83.48 L476.47,84.45 L478.59,85.28 L480.57,85.97 L482.42,86.56 L484.14,87.04 L485.73,87.44 L487.19,87.77 L488.47,88.00 L489.54,88.11 L490.45,88.11 L491.25,88.03 L491.97,87.87 L492.67,87.67 L493.38,87.44 L494.14,87.20 L494.95,86.95 L495.74,86.65 L496.52,86.32 L497.28,85.95 L498.03,85.53 L498.77,85.06 L499.48,84.54 L500.18,83.96 L500.87,83.33 L501.55,82.66 L502.22,81.95 L502.88,81.18 L503.50,80.35 L504.10,79.46 L504.66,78.51 L505.16,77.48 L505.62,76.41 L506.03,75.32 L506.40,74.18 L506.73,72.97 L507.04,71.67 L507.34,70.25 L507.63,68.68 L507.92,66.95 L508.21,64.95 L508.48,62.65 L508.74,60.17 L508.99,57.58 L509.23,55.01 L509.46,52.54 L509.68,50.28 L509.89,48.32 L510.09,46.61 L510.29,45.04 L510.49,43.60 L510.67,42.30 L510.83,41.14 L510.98,40.14 L511.10,39.29 L511.20,38.60" fill="none" stroke="#1f9a82" stroke-width="1.0" stroke-linejoin="round"/>
<path d="M380.00,38.60 L380.20,38.26 L380.47,37.79 L380.79,37.22 L381.15,36.60 L381.52,35.98 L381.91,35.40 L382.28,34.91 L382.62,34.55 L382.95,34.32 L383.28,34.16 L383.61,34.08 L383.94,34.04 L384.26,34.05 L384.59,34.08 L384.92,34.11 L385.25,34.15 L385.55,34.17 L385.81,34.20 L386.05,34.24 L386.30,34.30 L386.58,34.39 L386.92,34.52 L387.34,34.71 L387.87,34.95 L388.40,35.20 L388.85,35.40 L389.32,35.62 L389.88,35.89 L390.62,36.28 L391.61,36.82 L392.94,37.58 L394.69,38.60 L396.93,39.92 L399.60,41.52 L402.62,43.34 L405.89,45.32 L409.32,47.39 L412.84,49.50 L416.35,51.58 L419.75,53.59 L423.16,55.55 L426.69,57.56 L430.29,59.60 L433.93,61.64 L437.56,63.69 L441.14,65.71 L444.62,67.69 L447.96,69.62 L451.20,71.54 L454.40,73.47 L457.53,75.40 L460.60,77.29 L463.58,79.12 L466.45,80.85 L469.21,82.48 L471.84,83.96 L474.36,85.34 L476.80,86.65 L479.14,87.88 L481.37,89.01 L483.47,90.01 L485.44,90.86 L487.25,91.56 L488.90,92.06 L490.34,92.34 L491.57,92.41 L492.64,92.31 L493.57,92.06 L494.41,91.71 L495.20,91.30 L495.97,90.86 L496.77,90.44 L497.56,90.00 L498.30,89.49 L498.99,88.93 L499.64,88.31 L500.26,87.66 L500.86,86.98 L501.44,86.29 L502.02,85.58 L502.58,84.91 L503.12,84.30 L503.65,83.70 L504.15,83.05 L504.63,82.31 L505.09,81.44 L505.53,80.39 L505.95,79.10 L506.35,77.55 L506.72,75.77 L507.07,73.81 L507.40,71.71 L507.72,69.52 L508.02,67.29 L508.30,65.07 L508.58,62.90 L508.84,60.67 L509.09,58.29 L509.32,55.84 L509.54,53.38 L509.74,51.00 L509.93,48.78 L510.11,46.78 L510.28,45.08 L510.44,43.68 L510.59,42.51 L510.72,41.53 L510.85,40.73 L510.96,40.06 L511.05,39.50 L511.13,39.02 L511.20,38.60" fill="none" stroke="#3db4d6" stroke-width="1.0" stroke-linejoin="round"/>
<path d="M380.00,38.60 L380.23,38.33 L380.55,37.93 L380.92,37.46 L381.33,36.95 L381.76,36.45 L382.20,35.99 L382.63,35.61 L383.02,35.36 L383.34,35.21 L383.61,35.13 L383.85,35.10 L384.10,35.12 L384.39,35.20 L384.77,35.34 L385.26,35.53 L385.90,35.77 L386.61,36.00 L387.31,36.21 L388.05,36.43 L388.91,36.73 L389.95,37.15 L391.21,37.73 L392.78,38.52 L394.69,39.57 L397.03,40.93 L399.74,42.56 L402.76,44.41 L406.01,46.42 L409.41,48.53 L412.89,50.70 L416.36,52.86 L419.75,54.96 L423.16,57.07 L426.69,59.25 L430.29,61.49 L433.93,63.76 L437.56,66.01 L441.14,68.21 L444.62,70.35 L447.96,72.38 L451.20,74.33 L454.40,76.24 L457.53,78.11 L460.60,79.92 L463.58,81.66 L466.45,83.33 L469.21,84.91 L471.84,86.39 L474.35,87.78 L476.77,89.07 L479.08,90.28 L481.29,91.42 L483.38,92.48 L485.35,93.48 L487.19,94.41 L488.90,95.30 L490.45,96.17 L491.84,97.03 L493.09,97.85 L494.23,98.59 L495.27,99.23 L496.25,99.72 L497.17,100.05 L498.08,100.16 L498.94,100.04 L499.71,99.70 L500.42,99.19 L501.07,98.54 L501.68,97.79 L502.25,96.97 L502.79,96.13 L503.33,95.30 L503.84,94.47 L504.32,93.60 L504.76,92.68 L505.17,91.71 L505.56,90.68 L505.93,89.59 L506.27,88.43 L506.61,87.20 L506.92,85.96 L507.20,84.73 L507.45,83.47 L507.69,82.14 L507.91,80.67 L508.13,79.04 L508.35,77.18 L508.58,75.05 L508.81,72.48 L509.04,69.45 L509.27,66.12 L509.49,62.65 L509.71,59.21 L509.92,55.97 L510.11,53.10 L510.28,50.75 L510.44,48.91 L510.59,47.40 L510.72,46.17 L510.85,45.18 L510.96,44.38 L511.05,43.73 L511.13,43.16 L511.20,42.65" fill="none" stroke="#2f3f78" stroke-width="1.0" stroke-linejoin="round"/>
<line x1="382.40" y1="84.70" x2="386.40" y2="84.70" stroke="#9aa8a4" stroke-width="0.9"/>
<text x="389.70" y="86.05" font-size="3.8" fill="#3a3a3a" textLength="73.5" lengthAdjust="spacingAndGlyphs">GO_RECEPTOR_REGULATOR_ACTIVITY</text>
<line x1="382.40" y1="89.00" x2="386.40" y2="89.00" stroke="#e4483b" stroke-width="0.9"/>
<text x="389.70" y="90.35" font-size="3.8" fill="#3a3a3a" textLength="50.6" lengthAdjust="spacingAndGlyphs">GO_RECEPTOR_COMPLEX</text>
<line x1="382.40" y1="93.30" x2="386.40" y2="93.30" stroke="#1f9a82" stroke-width="0.9"/>
<text x="389.70" y="94.65" font-size="3.8" fill="#3a3a3a" textLength="44.9" lengthAdjust="spacingAndGlyphs">GO_CELL_SURFACE</text>
<line x1="382.40" y1="97.60" x2="386.40" y2="97.60" stroke="#2f3f78" stroke-width="0.9"/>
<text x="389.70" y="98.95" font-size="3.8" fill="#3a3a3a" textLength="120.8" lengthAdjust="spacingAndGlyphs">GO_TRANSMEMBRANE_RECEPTOR_PROTEIN_TYROSINE_KINASE_SIGNALING</text>
<text x="432.80" y="36.00" font-size="7.3" fill="#231f20" textLength="76.5" lengthAdjust="spacingAndGlyphs">NES&lt;&#8211;1, <tspan font-style="italic">P</tspan> &lt; .05, q&lt;0.25</text>
<rect x="380.00" y="27.30" width="131.20" height="73.50" fill="none" stroke="#555" stroke-width="0.8"/>
<line x1="378.00" y1="38.60" x2="380.00" y2="38.60" stroke="#333" stroke-width="0.7"/>
<text x="376.20" y="41.20" font-size="7.4" text-anchor="end" fill="#231f20" textLength="11.5" lengthAdjust="spacingAndGlyphs">0.0</text>
<line x1="378.00" y1="54.80" x2="380.00" y2="54.80" stroke="#333" stroke-width="0.7"/>
<text x="376.20" y="57.40" font-size="7.4" text-anchor="end" fill="#231f20" textLength="13.8" lengthAdjust="spacingAndGlyphs">&#8211;0.2</text>
<line x1="378.00" y1="71.00" x2="380.00" y2="71.00" stroke="#333" stroke-width="0.7"/>
<text x="376.20" y="73.60" font-size="7.4" text-anchor="end" fill="#231f20" textLength="13.8" lengthAdjust="spacingAndGlyphs">&#8211;0.4</text>
<line x1="378.00" y1="87.20" x2="380.00" y2="87.20" stroke="#333" stroke-width="0.7"/>
<text x="376.20" y="89.80" font-size="7.4" text-anchor="end" fill="#231f20" textLength="13.8" lengthAdjust="spacingAndGlyphs">&#8211;0.6</text>
<rect x="402.66" y="100.80" width="0.49" height="5.70" fill="#2f3f78"/>
<rect x="411.80" y="100.80" width="0.64" height="5.70" fill="#2f3f78"/>
<rect x="416.06" y="100.80" width="0.78" height="5.70" fill="#9aaccb"/>
<rect x="417.85" y="100.80" width="0.89" height="5.70" fill="#2f3f78"/>
<rect x="441.25" y="100.80" width="0.42" height="5.70" fill="#2f3f78"/>
<rect x="445.98" y="100.80" width="0.86" height="5.70" fill="#9aaccb"/>
<rect x="457.43" y="100.80" width="0.80" height="5.70" fill="#9aaccb"/>
<rect x="474.08" y="100.80" width="0.46" height="5.70" fill="#9aaccb"/>
<rect x="489.11" y="100.80" width="0.55" height="5.70" fill="#9aaccb"/>
<rect x="495.07" y="100.80" width="0.43" height="5.70" fill="#2f3f78"/>
<rect x="496.50" y="100.80" width="0.56" height="5.70" fill="#9aaccb"/>
<rect x="498.42" y="100.80" width="0.86" height="5.70" fill="#2f3f78"/>
<rect x="499.70" y="100.80" width="0.44" height="5.70" fill="#2f3f78"/>
<rect x="503.63" y="100.80" width="0.42" height="5.70" fill="#2f3f78"/>
<rect x="505.40" y="100.80" width="0.85" height="5.70" fill="#2f3f78"/>
<rect x="508.35" y="100.80" width="0.37" height="5.70" fill="#2f3f78"/>
<rect x="509.62" y="100.80" width="0.64" height="5.70" fill="#9aaccb"/>
<rect x="510.71" y="100.80" width="0.49" height="5.70" fill="#9aaccb"/>
<rect x="380.00" y="106.50" width="131.20" height="7.20" fill="#d8efe9"/>
<rect x="382.05" y="106.50" width="1.60" height="7.20" fill="#1f9a82"/>
<rect x="385.35" y="106.50" width="2.04" height="7.20" fill="#1f9a82"/>
<rect x="389.40" y="106.50" width="0.95" height="7.20" fill="#1f9a82"/>
<rect x="390.34" y="106.50" width="1.56" height="7.20" fill="#1f9a82"/>
<rect x="391.90" y="106.50" width="1.04" height="7.20" fill="#1f9a82"/>
<rect x="392.94" y="106.50" width="0.77" height="7.20" fill="#1f9a82"/>
<rect x="397.10" y="106.50" width="1.08" height="7.20" fill="#1f9a82"/>
<rect x="398.18" y="106.50" width="1.86" height="7.20" fill="#1f9a82"/>
<rect x="400.04" y="106.50" width="0.51" height="7.20" fill="#1f9a82"/>
<rect x="400.55" y="106.50" width="1.07" height="7.20" fill="#1f9a82"/>
<rect x="401.62" y="106.50" width="0.69" height="7.20" fill="#1f9a82"/>
<rect x="402.31" y="106.50" width="1.23" height="7.20" fill="#1f9a82"/>
<rect x="403.54" y="106.50" width="2.20" height="7.20" fill="#1f9a82"/>
<rect x="405.74" y="106.50" width="0.64" height="7.20" fill="#1f9a82"/>
<rect x="407.07" y="106.50" width="0.67" height="7.20" fill="#1f9a82"/>
<rect x="407.74" y="106.50" width="0.46" height="7.20" fill="#1f9a82"/>
<rect x="408.21" y="106.50" width="1.91" height="7.20" fill="#1f9a82"/>
<rect x="410.53" y="106.50" width="0.65" height="7.20" fill="#1f9a82"/>
<rect x="411.94" y="106.50" width="1.98" height="7.20" fill="#1f9a82"/>
<rect x="413.92" y="106.50" width="0.91" height="7.20" fill="#1f9a82"/>
<rect x="414.83" y="106.50" width="1.21" height="7.20" fill="#1f9a82"/>
<rect x="416.04" y="106.50" width="1.60" height="7.20" fill="#1f9a82"/>
<rect x="417.64" y="106.50" width="1.09" height="7.20" fill="#1f9a82"/>
<rect x="418.73" y="106.50" width="1.99" height="7.20" fill="#1f9a82"/>
<rect x="420.71" y="106.50" width="0.73" height="7.20" fill="#1f9a82"/>
<rect x="421.44" y="106.50" width="1.75" height="7.20" fill="#1f9a82"/>
<rect x="424.07" y="106.50" width="1.78" height="7.20" fill="#1f9a82"/>
<rect x="425.85" y="106.50" width="0.43" height="7.20" fill="#1f9a82"/>
<rect x="427.44" y="106.50" width="1.42" height="7.20" fill="#1f9a82"/>
<rect x="429.45" y="106.50" width="1.46" height="7.20" fill="#1f9a82"/>
<rect x="430.92" y="106.50" width="0.85" height="7.20" fill="#1f9a82"/>
<rect x="431.77" y="106.50" width="1.13" height="7.20" fill="#1f9a82"/>
<rect x="433.65" y="106.50" width="1.71" height="7.20" fill="#1f9a82"/>
<rect x="436.15" y="106.50" width="0.80" height="7.20" fill="#1f9a82"/>
<rect x="440.63" y="106.50" width="1.96" height="7.20" fill="#1f9a82"/>
<rect x="442.59" y="106.50" width="1.78" height="7.20" fill="#1f9a82"/>
<rect x="444.37" y="106.50" width="1.50" height="7.20" fill="#1f9a82"/>
<rect x="447.05" y="106.50" width="1.63" height="7.20" fill="#1f9a82"/>
<rect x="448.68" y="106.50" width="0.51" height="7.20" fill="#1f9a82"/>
<rect x="449.19" y="106.50" width="1.56" height="7.20" fill="#1f9a82"/>
<rect x="450.75" y="106.50" width="1.36" height="7.20" fill="#1f9a82"/>
<rect x="452.12" y="106.50" width="1.88" height="7.20" fill="#1f9a82"/>
<rect x="453.99" y="106.50" width="0.74" height="7.20" fill="#1f9a82"/>
<rect x="454.73" y="106.50" width="1.86" height="7.20" fill="#1f9a82"/>
<rect x="456.60" y="106.50" width="0.48" height="7.20" fill="#1f9a82"/>
<rect x="457.08" y="106.50" width="0.88" height="7.20" fill="#1f9a82"/>
<rect x="457.96" y="106.50" width="1.46" height="7.20" fill="#1f9a82"/>
<rect x="459.41" y="106.50" width="1.11" height="7.20" fill="#1f9a82"/>
<rect x="460.53" y="106.50" width="0.69" height="7.20" fill="#1f9a82"/>
<rect x="461.22" y="106.50" width="1.16" height="7.20" fill="#1f9a82"/>
<rect x="462.38" y="106.50" width="0.84" height="7.20" fill="#1f9a82"/>
<rect x="463.23" y="106.50" width="1.36" height="7.20" fill="#1f9a82"/>
<rect x="464.58" y="106.50" width="1.78" height="7.20" fill="#1f9a82"/>
<rect x="468.46" y="106.50" width="1.02" height="7.20" fill="#1f9a82"/>
<rect x="469.48" y="106.50" width="1.33" height="7.20" fill="#1f9a82"/>
<rect x="470.81" y="106.50" width="1.19" height="7.20" fill="#1f9a82"/>
<rect x="472.00" y="106.50" width="1.20" height="7.20" fill="#1f9a82"/>
<rect x="475.05" y="106.50" width="1.13" height="7.20" fill="#1f9a82"/>
<rect x="476.18" y="106.50" width="1.17" height="7.20" fill="#1f9a82"/>
<rect x="477.35" y="106.50" width="2.01" height="7.20" fill="#1f9a82"/>
<rect x="479.36" y="106.50" width="1.97" height="7.20" fill="#1f9a82"/>
<rect x="481.33" y="106.50" width="1.56" height="7.20" fill="#1f9a82"/>
<rect x="482.89" y="106.50" width="1.35" height="7.20" fill="#1f9a82"/>
<rect x="486.06" y="106.50" width="0.57" height="7.20" fill="#1f9a82"/>
<rect x="486.64" y="106.50" width="0.95" height="7.20" fill="#1f9a82"/>
<rect x="487.59" y="106.50" width="1.47" height="7.20" fill="#1f9a82"/>
<rect x="489.06" y="106.50" width="1.58" height="7.20" fill="#1f9a82"/>
<rect x="490.64" y="106.50" width="2.00" height="7.20" fill="#1f9a82"/>
<rect x="494.17" y="106.50" width="1.01" height="7.20" fill="#1f9a82"/>
<rect x="495.17" y="106.50" width="0.42" height="7.20" fill="#1f9a82"/>
<rect x="496.87" y="106.50" width="2.10" height="7.20" fill="#1f9a82"/>
<rect x="498.97" y="106.50" width="1.37" height="7.20" fill="#1f9a82"/>
<rect x="500.34" y="106.50" width="1.33" height="7.20" fill="#1f9a82"/>
<rect x="501.67" y="106.50" width="0.97" height="7.20" fill="#1f9a82"/>
<rect x="502.64" y="106.50" width="1.00" height="7.20" fill="#1f9a82"/>
<rect x="503.64" y="106.50" width="0.71" height="7.20" fill="#1f9a82"/>
<rect x="504.35" y="106.50" width="1.59" height="7.20" fill="#1f9a82"/>
<rect x="505.94" y="106.50" width="1.34" height="7.20" fill="#1f9a82"/>
<rect x="507.29" y="106.50" width="1.22" height="7.20" fill="#1f9a82"/>
<rect x="508.51" y="106.50" width="1.50" height="7.20" fill="#1f9a82"/>
<rect x="510.01" y="106.50" width="1.17" height="7.20" fill="#1f9a82"/>
<rect x="511.17" y="106.50" width="0.03" height="7.20" fill="#1f9a82"/>
<rect x="380.00" y="113.70" width="131.20" height="6.10" fill="#fbe0db"/>
<rect x="380.00" y="113.70" width="1.76" height="6.10" fill="#e4483b"/>
<rect x="381.76" y="113.70" width="1.14" height="6.10" fill="#e4483b"/>
<rect x="383.66" y="113.70" width="1.40" height="6.10" fill="#e4483b"/>
<rect x="388.15" y="113.70" width="1.79" height="6.10" fill="#e4483b"/>
<rect x="389.94" y="113.70" width="0.53" height="6.10" fill="#e4483b"/>
<rect x="390.47" y="113.70" width="0.58" height="6.10" fill="#e4483b"/>
<rect x="391.05" y="113.70" width="1.06" height="6.10" fill="#e4483b"/>
<rect x="392.73" y="113.70" width="0.89" height="6.10" fill="#e4483b"/>
<rect x="394.60" y="113.70" width="1.05" height="6.10" fill="#e4483b"/>
<rect x="396.78" y="113.70" width="1.79" height="6.10" fill="#e4483b"/>
<rect x="400.26" y="113.70" width="1.22" height="6.10" fill="#e4483b"/>
<rect x="404.62" y="113.70" width="1.39" height="6.10" fill="#e4483b"/>
<rect x="407.48" y="113.70" width="1.95" height="6.10" fill="#e4483b"/>
<rect x="413.78" y="113.70" width="0.85" height="6.10" fill="#e4483b"/>
<rect x="422.04" y="113.70" width="0.77" height="6.10" fill="#e4483b"/>
<rect x="422.81" y="113.70" width="2.04" height="6.10" fill="#e4483b"/>
<rect x="427.00" y="113.70" width="1.98" height="6.10" fill="#e4483b"/>
<rect x="431.11" y="113.70" width="2.15" height="6.10" fill="#e4483b"/>
<rect x="435.13" y="113.70" width="1.15" height="6.10" fill="#e4483b"/>
<rect x="436.29" y="113.70" width="0.64" height="6.10" fill="#e4483b"/>
<rect x="436.93" y="113.70" width="0.59" height="6.10" fill="#e4483b"/>
<rect x="438.61" y="113.70" width="0.72" height="6.10" fill="#e4483b"/>
<rect x="444.57" y="113.70" width="1.29" height="6.10" fill="#e4483b"/>
<rect x="448.58" y="113.70" width="1.73" height="6.10" fill="#e4483b"/>
<rect x="450.32" y="113.70" width="1.64" height="6.10" fill="#e4483b"/>
<rect x="451.96" y="113.70" width="0.77" height="6.10" fill="#e4483b"/>
<rect x="454.28" y="113.70" width="2.06" height="6.10" fill="#e4483b"/>
<rect x="458.18" y="113.70" width="1.39" height="6.10" fill="#e4483b"/>
<rect x="459.57" y="113.70" width="2.09" height="6.10" fill="#e4483b"/>
<rect x="462.28" y="113.70" width="0.73" height="6.10" fill="#e4483b"/>
<rect x="463.01" y="113.70" width="1.21" height="6.10" fill="#e4483b"/>
<rect x="464.90" y="113.70" width="2.00" height="6.10" fill="#e4483b"/>
<rect x="466.89" y="113.70" width="2.13" height="6.10" fill="#e4483b"/>
<rect x="469.03" y="113.70" width="0.95" height="6.10" fill="#e4483b"/>
<rect x="469.98" y="113.70" width="1.25" height="6.10" fill="#e4483b"/>
<rect x="471.22" y="113.70" width="1.99" height="6.10" fill="#e4483b"/>
<rect x="473.21" y="113.70" width="1.41" height="6.10" fill="#e4483b"/>
<rect x="474.62" y="113.70" width="0.88" height="6.10" fill="#e4483b"/>
<rect x="475.51" y="113.70" width="0.59" height="6.10" fill="#e4483b"/>
<rect x="476.10" y="113.70" width="1.18" height="6.10" fill="#e4483b"/>
<rect x="477.27" y="113.70" width="1.52" height="6.10" fill="#e4483b"/>
<rect x="480.65" y="113.70" width="0.79" height="6.10" fill="#e4483b"/>
<rect x="481.44" y="113.70" width="1.89" height="6.10" fill="#e4483b"/>
<rect x="483.33" y="113.70" width="0.91" height="6.10" fill="#e4483b"/>
<rect x="484.24" y="113.70" width="1.49" height="6.10" fill="#e4483b"/>
<rect x="485.74" y="113.70" width="1.51" height="6.10" fill="#e4483b"/>
<rect x="488.57" y="113.70" width="1.11" height="6.10" fill="#e4483b"/>
<rect x="489.68" y="113.70" width="1.21" height="6.10" fill="#e4483b"/>
<rect x="490.90" y="113.70" width="1.01" height="6.10" fill="#e4483b"/>
<rect x="491.90" y="113.70" width="2.06" height="6.10" fill="#e4483b"/>
<rect x="493.96" y="113.70" width="1.53" height="6.10" fill="#e4483b"/>
<rect x="495.49" y="113.70" width="0.74" height="6.10" fill="#e4483b"/>
<rect x="496.22" y="113.70" width="1.52" height="6.10" fill="#e4483b"/>
<rect x="498.33" y="113.70" width="0.84" height="6.10" fill="#e4483b"/>
<rect x="499.17" y="113.70" width="0.90" height="6.10" fill="#e4483b"/>
<rect x="500.84" y="113.70" width="0.80" height="6.10" fill="#e4483b"/>
<rect x="502.84" y="113.70" width="1.32" height="6.10" fill="#e4483b"/>
<rect x="504.16" y="113.70" width="1.22" height="6.10" fill="#e4483b"/>
<rect x="505.38" y="113.70" width="1.39" height="6.10" fill="#e4483b"/>
<rect x="506.78" y="113.70" width="0.71" height="6.10" fill="#e4483b"/>
<rect x="507.49" y="113.70" width="0.43" height="6.10" fill="#e4483b"/>
<rect x="507.92" y="113.70" width="0.96" height="6.10" fill="#e4483b"/>
<rect x="508.88" y="113.70" width="0.48" height="6.10" fill="#e4483b"/>
<rect x="509.36" y="113.70" width="1.84" height="6.10" fill="#e4483b"/>
<rect x="380.00" y="119.80" width="131.20" height="5.80" fill="#f3fafc"/>
<rect x="380.00" y="119.80" width="1.95" height="5.80" fill="#3db4d6"/>
<rect x="383.04" y="119.80" width="1.37" height="5.80" fill="#3db4d6"/>
<rect x="384.41" y="119.80" width="1.92" height="5.80" fill="#3db4d6"/>
<rect x="386.32" y="119.80" width="1.70" height="5.80" fill="#3db4d6"/>
<rect x="388.03" y="119.80" width="0.50" height="5.80" fill="#3db4d6"/>
<rect x="388.52" y="119.80" width="1.50" height="5.80" fill="#3db4d6"/>
<rect x="391.15" y="119.80" width="1.71" height="5.80" fill="#3db4d6"/>
<rect x="395.87" y="119.80" width="1.59" height="5.80" fill="#3db4d6"/>
<rect x="402.82" y="119.80" width="1.16" height="5.80" fill="#3db4d6"/>
<rect x="413.82" y="119.80" width="1.51" height="5.80" fill="#3db4d6"/>
<rect x="415.93" y="119.80" width="1.21" height="5.80" fill="#3db4d6"/>
<rect x="421.93" y="119.80" width="0.66" height="5.80" fill="#3db4d6"/>
<rect x="422.59" y="119.80" width="0.97" height="5.80" fill="#3db4d6"/>
<rect x="431.07" y="119.80" width="2.12" height="5.80" fill="#3db4d6"/>
<rect x="449.86" y="119.80" width="1.39" height="5.80" fill="#3db4d6"/>
<rect x="456.87" y="119.80" width="1.92" height="5.80" fill="#3db4d6"/>
<rect x="462.33" y="119.80" width="1.51" height="5.80" fill="#3db4d6"/>
<rect x="463.84" y="119.80" width="0.83" height="5.80" fill="#3db4d6"/>
<rect x="464.67" y="119.80" width="1.65" height="5.80" fill="#3db4d6"/>
<rect x="468.88" y="119.80" width="2.06" height="5.80" fill="#3db4d6"/>
<rect x="470.94" y="119.80" width="1.48" height="5.80" fill="#3db4d6"/>
<rect x="472.42" y="119.80" width="1.12" height="5.80" fill="#3db4d6"/>
<rect x="482.98" y="119.80" width="0.50" height="5.80" fill="#3db4d6"/>
<rect x="483.48" y="119.80" width="0.41" height="5.80" fill="#3db4d6"/>
<rect x="483.89" y="119.80" width="0.91" height="5.80" fill="#3db4d6"/>
<rect x="484.79" y="119.80" width="0.75" height="5.80" fill="#3db4d6"/>
<rect x="485.55" y="119.80" width="1.59" height="5.80" fill="#3db4d6"/>
<rect x="494.07" y="119.80" width="1.58" height="5.80" fill="#3db4d6"/>
<rect x="495.64" y="119.80" width="1.82" height="5.80" fill="#3db4d6"/>
<rect x="497.46" y="119.80" width="1.27" height="5.80" fill="#3db4d6"/>
<rect x="499.36" y="119.80" width="2.01" height="5.80" fill="#3db4d6"/>
<rect x="501.38" y="119.80" width="1.13" height="5.80" fill="#3db4d6"/>
<rect x="502.50" y="119.80" width="1.94" height="5.80" fill="#3db4d6"/>
<rect x="507.48" y="119.80" width="0.58" height="5.80" fill="#3db4d6"/>
<rect x="508.63" y="119.80" width="1.13" height="5.80" fill="#3db4d6"/>
<rect x="509.76" y="119.80" width="1.44" height="5.80" fill="#3db4d6"/>
<line x1="380.00" y1="132.80" x2="511.20" y2="132.80" stroke="#ececec" stroke-width="0.6"/>
<line x1="380.00" y1="140.10" x2="511.20" y2="140.10" stroke="#ececec" stroke-width="0.6"/>
<line x1="380.00" y1="147.40" x2="511.20" y2="147.40" stroke="#ececec" stroke-width="0.6"/>
<line x1="380.00" y1="154.70" x2="511.20" y2="154.70" stroke="#ececec" stroke-width="0.6"/>
<line x1="380.00" y1="162.00" x2="511.20" y2="162.00" stroke="#ececec" stroke-width="0.6"/>
<path d="M380.00,140.10 L380.00,137.03 L380.66,137.84 L381.31,138.49 L381.97,139.00 L382.62,139.37 L383.28,139.59 L383.94,139.66 L384.59,139.67 L385.25,139.67 L385.90,139.68 L386.56,139.68 L387.22,139.69 L387.87,139.69 L388.53,139.70 L389.18,139.70 L389.84,139.71 L390.50,139.71 L391.15,139.72 L391.81,139.72 L392.46,139.73 L393.12,139.73 L393.78,139.74 L394.43,139.74 L395.09,139.75 L395.74,139.75 L396.40,139.76 L397.06,139.76 L397.71,139.77 L398.37,139.77 L399.02,139.78 L399.68,139.78 L400.34,139.79 L400.99,139.79 L401.65,139.80 L402.30,139.80 L402.96,139.81 L403.62,139.81 L404.27,139.82 L404.93,139.82 L405.58,139.83 L406.24,139.83 L406.90,139.84 L407.55,139.84 L408.21,139.85 L408.86,139.85 L409.52,139.86 L410.18,139.86 L410.83,139.87 L411.49,139.87 L412.14,139.88 L412.80,139.88 L413.46,139.89 L414.11,139.89 L414.77,139.90 L415.42,139.90 L416.08,139.91 L416.74,139.91 L417.39,139.92 L418.05,139.92 L418.70,139.93 L419.36,139.93 L420.02,139.94 L420.67,139.94 L421.33,139.95 L421.98,139.95 L422.64,139.96 L423.30,139.96 L423.95,139.97 L424.61,139.97 L425.26,139.98 L425.92,139.98 L426.58,139.99 L427.23,139.99 L427.89,140.00 L428.54,140.00 L429.20,140.01 L429.86,140.01 L430.51,140.02 L431.17,140.02 L431.82,140.03 L432.48,140.03 L433.14,140.04 L433.79,140.04 L434.45,140.05 L435.10,140.05 L435.76,140.06 L436.42,140.06 L437.07,140.07 L437.73,140.07 L438.38,140.08 L439.04,140.08 L439.70,140.09 L440.35,140.09 L441.01,140.10 L441.66,140.11 L442.32,140.11 L442.98,140.12 L443.63,140.12 L444.29,140.13 L444.94,140.13 L445.60,140.14 L446.26,140.14 L446.91,140.15 L447.57,140.15 L448.22,140.16 L448.88,140.16 L449.54,140.17 L450.19,140.17 L450.85,140.18 L451.50,140.18 L452.16,140.19 L452.82,140.19 L453.47,140.20 L454.13,140.20 L454.78,140.21 L455.44,140.21 L456.10,140.22 L456.75,140.22 L457.41,140.23 L458.06,140.23 L458.72,140.24 L459.38,140.24 L460.03,140.25 L460.69,140.25 L461.34,140.26 L462.00,140.26 L462.66,140.27 L463.31,140.27 L463.97,140.28 L464.62,140.28 L465.28,140.29 L465.94,140.29 L466.59,140.30 L467.25,140.30 L467.90,140.31 L468.56,140.31 L469.22,140.32 L469.87,140.32 L470.53,140.33 L471.18,140.33 L471.84,140.34 L472.50,140.34 L473.15,140.35 L473.81,140.35 L474.46,140.36 L475.12,140.36 L475.78,140.37 L476.43,140.37 L477.09,140.38 L477.74,140.38 L478.40,140.39 L479.06,140.39 L479.71,140.40 L480.37,140.40 L481.02,140.41 L481.68,140.41 L482.34,140.42 L482.99,140.42 L483.65,140.43 L484.30,140.43 L484.96,140.44 L485.62,140.44 L486.27,140.45 L486.93,140.45 L487.58,140.46 L488.24,140.46 L488.90,140.47 L489.55,140.47 L490.21,140.48 L490.86,140.48 L491.52,140.49 L492.18,140.49 L492.83,140.50 L493.49,140.50 L494.14,140.51 L494.80,140.51 L495.46,140.52 L496.11,140.52 L496.77,140.53 L497.42,140.53 L498.08,140.54 L498.74,140.54 L499.39,140.57 L500.05,140.63 L500.70,140.72 L501.36,140.87 L502.02,141.07 L502.67,141.34 L503.33,141.67 L503.98,142.08 L504.64,142.56 L505.30,143.13 L505.95,143.79 L506.61,144.54 L507.26,145.39 L507.92,146.34 L508.58,147.40 L509.23,148.58 L509.89,149.86 L510.54,151.27 L511.20,152.80 L511.20,140.10 Z" fill="#c9c9c9" stroke="#9a9a9a" stroke-width="0.5"/>
<line x1="380.00" y1="125.60" x2="511.20" y2="125.60" stroke="#444" stroke-width="0.9"/>
<line x1="380.00" y1="125.60" x2="380.00" y2="164.00" stroke="#555" stroke-width="0.8"/>
<line x1="511.20" y1="125.60" x2="511.20" y2="164.00" stroke="#bbb" stroke-width="0.5"/>
<line x1="380.00" y1="164.00" x2="511.20" y2="164.00" stroke="#555" stroke-width="0.8"/>
<line x1="380.00" y1="100.80" x2="380.00" y2="125.60" stroke="#555" stroke-width="0.8"/>
<line x1="511.20" y1="100.80" x2="511.20" y2="125.60" stroke="#555" stroke-width="0.8"/>
<line x1="378.00" y1="132.80" x2="380.00" y2="132.80" stroke="#333" stroke-width="0.7"/>
<text x="376.20" y="135.40" font-size="7.4" text-anchor="end" fill="#231f20" textLength="11.5" lengthAdjust="spacingAndGlyphs">2.5</text>
<line x1="378.00" y1="140.10" x2="380.00" y2="140.10" stroke="#333" stroke-width="0.7"/>
<text x="376.20" y="142.70" font-size="7.4" text-anchor="end" fill="#231f20" textLength="11.5" lengthAdjust="spacingAndGlyphs">0.0</text>
<line x1="378.00" y1="147.40" x2="380.00" y2="147.40" stroke="#333" stroke-width="0.7"/>
<text x="376.20" y="150.00" font-size="7.4" text-anchor="end" fill="#231f20" textLength="15.5" lengthAdjust="spacingAndGlyphs">&#8211;2.5</text>
<line x1="378.00" y1="154.70" x2="380.00" y2="154.70" stroke="#333" stroke-width="0.7"/>
<text x="376.20" y="157.30" font-size="7.4" text-anchor="end" fill="#231f20" textLength="15.5" lengthAdjust="spacingAndGlyphs">&#8211;5.0</text>
<line x1="378.00" y1="162.00" x2="380.00" y2="162.00" stroke="#333" stroke-width="0.7"/>
<text x="376.20" y="164.60" font-size="7.4" text-anchor="end" fill="#231f20" textLength="15.5" lengthAdjust="spacingAndGlyphs">&#8211;7.5</text>
<line x1="412.75" y1="164.00" x2="412.75" y2="166.00" stroke="#333" stroke-width="0.7"/>
<text x="412.75" y="176.60" font-size="7.4" text-anchor="middle" fill="#231f20" textLength="15.5" lengthAdjust="spacingAndGlyphs">3000</text>
<line x1="445.50" y1="164.00" x2="445.50" y2="166.00" stroke="#333" stroke-width="0.7"/>
<text x="445.50" y="176.60" font-size="7.4" text-anchor="middle" fill="#231f20" textLength="15.5" lengthAdjust="spacingAndGlyphs">6000</text>
<line x1="478.25" y1="164.00" x2="478.25" y2="166.00" stroke="#333" stroke-width="0.7"/>
<text x="478.25" y="176.60" font-size="7.4" text-anchor="middle" fill="#231f20" textLength="15.5" lengthAdjust="spacingAndGlyphs">9000</text>
<line x1="511.00" y1="164.00" x2="511.00" y2="166.00" stroke="#333" stroke-width="0.7"/>
<text x="511.00" y="176.60" font-size="7.4" text-anchor="middle" fill="#231f20" textLength="19.5" lengthAdjust="spacingAndGlyphs">12000</text>
<text x="408.70" y="188.80" font-size="9.0" fill="#231f20" textLength="74.5" lengthAdjust="spacingAndGlyphs">Rank in ordered dataset</text>
<text transform="translate(354.00,65.00) rotate(-90)" x="0" y="3.15" font-size="9.0" text-anchor="middle" fill="#231f20" textLength="55" lengthAdjust="spacingAndGlyphs">Enrichment score</text>
<text transform="translate(354.00,147.50) rotate(-90)" x="0" y="3.15" font-size="9.0" text-anchor="middle" fill="#231f20" textLength="57" lengthAdjust="spacingAndGlyphs">Ranked list metric</text>
<text x="414.60" y="138.00" font-size="7.4" font-style="italic" fill="#333">Prl2<tspan font-size="4.74" dy="-3.11">+/+</tspan></text>
<text x="470.00" y="139.00" font-size="7.4" font-style="italic" fill="#333">Prl2<tspan font-size="4.74" dy="-3.11">-/-</tspan></text>
<rect x="31.60" y="234.20" width="130.70" height="74.10" fill="#fff"/>
<line x1="64.20" y1="234.20" x2="64.20" y2="308.30" stroke="#e6e6e6" stroke-width="0.6"/>
<line x1="64.20" y1="333.40" x2="64.20" y2="372.50" stroke="#e6e6e6" stroke-width="0.6"/>
<line x1="96.80" y1="234.20" x2="96.80" y2="308.30" stroke="#e6e6e6" stroke-width="0.6"/>
<line x1="96.80" y1="333.40" x2="96.80" y2="372.50" stroke="#e6e6e6" stroke-width="0.6"/>
<line x1="129.40" y1="234.20" x2="129.40" y2="308.30" stroke="#e6e6e6" stroke-width="0.6"/>
<line x1="129.40" y1="333.40" x2="129.40" y2="372.50" stroke="#e6e6e6" stroke-width="0.6"/>
<line x1="31.60" y1="242.60" x2="162.30" y2="242.60" stroke="#9a9a9a" stroke-width="0.8"/>
<line x1="31.60" y1="261.30" x2="162.30" y2="261.30" stroke="#f0dede" stroke-width="0.6"/>
<line x1="31.60" y1="280.00" x2="162.30" y2="280.00" stroke="#f0dede" stroke-width="0.6"/>
<line x1="31.60" y1="298.70" x2="162.30" y2="298.70" stroke="#f0dede" stroke-width="0.6"/>
<path d="M31.60,242.60 L31.79,242.36 L32.04,242.03 L32.33,241.63 L32.66,241.20 L33.02,240.76 L33.41,240.36 L33.81,240.03 L34.21,239.79 L34.65,239.66 L35.15,239.59 L35.67,239.57 L36.22,239.59 L36.75,239.64 L37.26,239.70 L37.73,239.75 L38.14,239.79 L38.48,239.85 L38.78,239.93 L39.05,240.04 L39.29,240.15 L39.50,240.24 L39.71,240.30 L39.90,240.31 L40.10,240.26 L40.28,240.12 L40.44,239.87 L40.58,239.57 L40.72,239.24 L40.85,238.92 L40.98,238.65 L41.12,238.46 L41.27,238.39 L41.43,238.45 L41.57,238.61 L41.71,238.84 L41.86,239.12 L42.02,239.43 L42.22,239.74 L42.44,240.03 L42.71,240.26 L42.98,240.43 L43.24,240.56 L43.50,240.66 L43.80,240.76 L44.17,240.89 L44.64,241.06 L45.23,241.31 L45.98,241.66 L46.80,242.04 L47.64,242.39 L48.55,242.75 L49.59,243.20 L50.80,243.77 L52.24,244.53 L53.97,245.52 L56.04,246.81 L58.53,248.45 L61.42,250.44 L64.63,252.68 L68.05,255.10 L71.60,257.61 L75.17,260.12 L78.69,262.57 L82.05,264.85 L85.34,267.05 L88.68,269.26 L92.04,271.47 L95.39,273.65 L98.70,275.79 L101.93,277.85 L105.06,279.82 L108.06,281.68 L110.97,283.46 L113.84,285.19 L116.65,286.86 L119.37,288.44 L121.96,289.92 L124.40,291.28 L126.66,292.50 L128.71,293.56 L130.51,294.43 L132.08,295.12 L133.46,295.66 L134.69,296.08 L135.82,296.42 L136.89,296.72 L137.95,297.00 L139.04,297.30 L140.13,297.59 L141.18,297.83 L142.18,298.04 L143.14,298.20 L144.06,298.35 L144.94,298.47 L145.79,298.59 L146.62,298.70 L147.40,298.82 L148.13,298.95 L148.83,299.07 L149.49,299.17 L150.13,299.24 L150.75,299.27 L151.36,299.25 L151.97,299.17 L152.59,299.04 L153.19,298.90 L153.79,298.72 L154.37,298.50 L154.93,298.21 L155.46,297.84 L155.96,297.39 L156.42,296.83 L156.84,296.17 L157.22,295.41 L157.56,294.57 L157.88,293.65 L158.18,292.65 L158.47,291.60 L158.75,290.50 L159.03,289.35 L159.31,288.14 L159.58,286.85 L159.84,285.50 L160.09,284.09 L160.33,282.64 L160.56,281.15 L160.78,279.65 L160.99,278.13 L161.20,276.49 L161.40,274.68 L161.59,272.78 L161.77,270.88 L161.93,269.07 L162.08,267.44 L162.20,266.06 L162.30,265.04" fill="none" stroke="#3db4d6" stroke-width="1.0" stroke-linejoin="round"/>
<path d="M31.60,242.60 L31.79,242.41 L32.04,242.14 L32.33,241.81 L32.66,241.46 L33.02,241.10 L33.41,240.77 L33.81,240.48 L34.21,240.26 L34.64,240.11 L35.10,239.99 L35.59,239.91 L36.09,239.85 L36.61,239.82 L37.12,239.80 L37.64,239.80 L38.14,239.79 L38.63,239.80 L39.12,239.80 L39.61,239.82 L40.10,239.85 L40.59,239.91 L41.08,239.99 L41.57,240.11 L42.06,240.26 L42.50,240.44 L42.89,240.63 L43.26,240.85 L43.63,241.10 L44.06,241.39 L44.56,241.73 L45.19,242.13 L45.98,242.60 L46.83,243.07 L47.69,243.50 L48.60,243.95 L49.63,244.48 L50.83,245.13 L52.26,245.96 L53.98,247.03 L56.04,248.40 L58.53,250.13 L61.42,252.21 L64.63,254.55 L68.05,257.06 L71.60,259.65 L75.17,262.25 L78.69,264.76 L82.05,267.10 L85.34,269.33 L88.68,271.56 L92.04,273.77 L95.39,275.95 L98.70,278.07 L101.93,280.12 L105.06,282.08 L108.06,283.93 L110.97,285.69 L113.84,287.40 L116.65,289.04 L119.37,290.60 L121.96,292.05 L124.40,293.39 L126.66,294.58 L128.71,295.61 L130.51,296.46 L132.08,297.13 L133.46,297.64 L134.69,298.03 L135.82,298.35 L136.89,298.62 L137.95,298.88 L139.04,299.17 L140.13,299.45 L141.18,299.69 L142.18,299.89 L143.14,300.06 L144.06,300.21 L144.94,300.34 L145.79,300.45 L146.62,300.57 L147.40,300.69 L148.13,300.80 L148.83,300.90 L149.49,300.98 L150.13,301.04 L150.75,301.07 L151.36,301.07 L151.97,301.04 L152.59,300.96 L153.19,300.85 L153.79,300.71 L154.37,300.54 L154.93,300.35 L155.46,300.13 L155.96,299.89 L156.42,299.63 L156.84,299.42 L157.22,299.25 L157.56,299.10 L157.88,298.90 L158.18,298.63 L158.47,298.22 L158.75,297.64 L159.03,296.83 L159.31,295.77 L159.58,294.49 L159.84,293.04 L160.09,291.45 L160.33,289.78 L160.56,288.06 L160.78,286.35 L160.99,284.68 L161.20,282.92 L161.40,280.97 L161.59,278.94 L161.77,276.90 L161.93,274.96 L162.08,273.21 L162.20,271.74 L162.30,270.65" fill="none" stroke="#e4483b" stroke-width="1.0" stroke-linejoin="round"/>
<path d="M31.60,242.60 L31.79,242.37 L32.04,242.04 L32.33,241.65 L32.66,241.23 L33.02,240.80 L33.41,240.40 L33.81,240.05 L34.21,239.79 L34.64,239.62 L35.10,239.49 L35.59,239.41 L36.09,239.36 L36.61,239.33 L37.12,239.32 L37.64,239.33 L38.14,239.33 L38.63,239.33 L39.12,239.33 L39.61,239.35 L40.10,239.39 L40.59,239.44 L41.08,239.52 L41.57,239.64 L42.06,239.79 L42.50,239.98 L42.89,240.18 L43.26,240.40 L43.63,240.65 L44.06,240.95 L44.56,241.29 L45.19,241.68 L45.98,242.13 L46.83,242.58 L47.69,242.97 L48.60,243.38 L49.63,243.85 L50.83,244.45 L52.26,245.23 L53.98,246.24 L56.04,247.56 L58.53,249.23 L61.42,251.25 L64.63,253.52 L68.05,255.96 L71.60,258.49 L75.17,261.03 L78.69,263.49 L82.05,265.79 L85.34,267.99 L88.68,270.21 L92.04,272.43 L95.39,274.61 L98.70,276.75 L101.93,278.80 L105.06,280.77 L108.06,282.62 L110.97,284.38 L113.84,286.08 L116.65,287.72 L119.37,289.27 L121.96,290.72 L124.40,292.05 L126.66,293.25 L128.71,294.31 L130.51,295.18 L132.08,295.89 L133.46,296.46 L134.69,296.91 L135.82,297.29 L136.89,297.61 L137.95,297.92 L139.04,298.23 L140.13,298.54 L141.18,298.78 L142.18,298.98 L143.14,299.15 L144.06,299.29 L144.94,299.41 L145.79,299.52 L146.62,299.63 L147.40,299.76 L148.13,299.88 L148.83,300.00 L149.49,300.10 L150.13,300.17 L150.75,300.20 L151.36,300.18 L151.97,300.10 L152.59,299.97 L153.19,299.81 L153.79,299.62 L154.37,299.37 L154.93,299.07 L155.46,298.71 L155.96,298.28 L156.42,297.76 L156.84,297.19 L157.22,296.58 L157.56,295.91 L157.88,295.16 L158.18,294.34 L158.47,293.42 L158.75,292.38 L159.03,291.22 L159.31,289.91 L159.58,288.45 L159.84,286.87 L160.09,285.20 L160.33,283.46 L160.56,281.69 L160.78,279.90 L160.99,278.13 L161.20,276.25 L161.40,274.17 L161.59,272.00 L161.77,269.83 L161.93,267.77 L162.08,265.90 L162.20,264.34 L162.30,263.17" fill="none" stroke="#1f9a82" stroke-width="1.0" stroke-linejoin="round"/>
<line x1="35.00" y1="295.80" x2="39.00" y2="295.80" stroke="#3db4d6" stroke-width="0.9"/>
<text x="41.70" y="297.15" font-size="3.8" fill="#3a3a3a" textLength="122.8" lengthAdjust="spacingAndGlyphs">GO_POSITIVE_REGULATION_OF_RECEPTOR_SIGNALING_PATHWAY</text>
<line x1="35.00" y1="300.40" x2="39.00" y2="300.40" stroke="#e4483b" stroke-width="0.9"/>
<text x="41.70" y="301.75" font-size="3.8" fill="#3a3a3a" textLength="110.3" lengthAdjust="spacingAndGlyphs">GO_POSITIVE_REGULATION_OF_ERK1_AND_ERK2_CASCADE</text>
<line x1="35.00" y1="305.00" x2="39.00" y2="305.00" stroke="#1f9a82" stroke-width="0.9"/>
<text x="41.70" y="306.35" font-size="3.8" fill="#3a3a3a" textLength="93.5" lengthAdjust="spacingAndGlyphs">GO_POSITIVE_REGULATION_OF_MAPK_CASCADE</text>
<text x="85.20" y="242.30" font-size="7.3" fill="#231f20" textLength="76.5" lengthAdjust="spacingAndGlyphs">NES&lt;&#8211;1, <tspan font-style="italic">P</tspan> &lt; .05, q&lt;0.25</text>
<rect x="31.60" y="234.20" width="130.70" height="74.10" fill="none" stroke="#555" stroke-width="0.8"/>
<line x1="29.60" y1="242.60" x2="31.60" y2="242.60" stroke="#333" stroke-width="0.7"/>
<text x="27.80" y="245.20" font-size="7.4" text-anchor="end" fill="#231f20" textLength="11.5" lengthAdjust="spacingAndGlyphs">0.0</text>
<line x1="29.60" y1="261.30" x2="31.60" y2="261.30" stroke="#333" stroke-width="0.7"/>
<text x="27.80" y="263.90" font-size="7.4" text-anchor="end" fill="#231f20" textLength="13.8" lengthAdjust="spacingAndGlyphs">&#8211;0.2</text>
<line x1="29.60" y1="280.00" x2="31.60" y2="280.00" stroke="#333" stroke-width="0.7"/>
<text x="27.80" y="282.60" font-size="7.4" text-anchor="end" fill="#231f20" textLength="13.8" lengthAdjust="spacingAndGlyphs">&#8211;0.4</text>
<line x1="29.60" y1="298.70" x2="31.60" y2="298.70" stroke="#333" stroke-width="0.7"/>
<text x="27.80" y="301.30" font-size="7.4" text-anchor="end" fill="#231f20" textLength="13.8" lengthAdjust="spacingAndGlyphs">&#8211;0.6</text>
<rect x="31.60" y="308.30" width="130.70" height="8.70" fill="#d8efe9"/>
<rect x="31.60" y="308.30" width="0.83" height="8.70" fill="#1f9a82"/>
<rect x="32.43" y="308.30" width="1.80" height="8.70" fill="#1f9a82"/>
<rect x="34.24" y="308.30" width="1.97" height="8.70" fill="#1f9a82"/>
<rect x="36.21" y="308.30" width="1.19" height="8.70" fill="#1f9a82"/>
<rect x="37.40" y="308.30" width="0.83" height="8.70" fill="#1f9a82"/>
<rect x="38.23" y="308.30" width="2.18" height="8.70" fill="#1f9a82"/>
<rect x="40.41" y="308.30" width="1.57" height="8.70" fill="#1f9a82"/>
<rect x="41.98" y="308.30" width="1.94" height="8.70" fill="#1f9a82"/>
<rect x="43.92" y="308.30" width="0.73" height="8.70" fill="#1f9a82"/>
<rect x="44.65" y="308.30" width="1.08" height="8.70" fill="#1f9a82"/>
<rect x="45.73" y="308.30" width="1.03" height="8.70" fill="#1f9a82"/>
<rect x="46.76" y="308.30" width="2.19" height="8.70" fill="#1f9a82"/>
<rect x="48.95" y="308.30" width="2.19" height="8.70" fill="#1f9a82"/>
<rect x="51.14" y="308.30" width="0.72" height="8.70" fill="#1f9a82"/>
<rect x="51.86" y="308.30" width="1.27" height="8.70" fill="#1f9a82"/>
<rect x="53.12" y="308.30" width="2.19" height="8.70" fill="#1f9a82"/>
<rect x="55.32" y="308.30" width="0.69" height="8.70" fill="#1f9a82"/>
<rect x="56.00" y="308.30" width="0.90" height="8.70" fill="#1f9a82"/>
<rect x="56.90" y="308.30" width="1.93" height="8.70" fill="#1f9a82"/>
<rect x="60.74" y="308.30" width="1.97" height="8.70" fill="#1f9a82"/>
<rect x="62.71" y="308.30" width="1.04" height="8.70" fill="#1f9a82"/>
<rect x="63.75" y="308.30" width="0.73" height="8.70" fill="#1f9a82"/>
<rect x="64.48" y="308.30" width="0.93" height="8.70" fill="#1f9a82"/>
<rect x="65.41" y="308.30" width="1.89" height="8.70" fill="#1f9a82"/>
<rect x="67.30" y="308.30" width="1.52" height="8.70" fill="#1f9a82"/>
<rect x="68.83" y="308.30" width="1.30" height="8.70" fill="#1f9a82"/>
<rect x="70.13" y="308.30" width="1.82" height="8.70" fill="#1f9a82"/>
<rect x="71.95" y="308.30" width="0.49" height="8.70" fill="#1f9a82"/>
<rect x="72.45" y="308.30" width="1.36" height="8.70" fill="#1f9a82"/>
<rect x="73.81" y="308.30" width="1.35" height="8.70" fill="#1f9a82"/>
<rect x="75.16" y="308.30" width="0.56" height="8.70" fill="#1f9a82"/>
<rect x="75.72" y="308.30" width="1.63" height="8.70" fill="#1f9a82"/>
<rect x="77.35" y="308.30" width="1.98" height="8.70" fill="#1f9a82"/>
<rect x="79.33" y="308.30" width="1.03" height="8.70" fill="#1f9a82"/>
<rect x="81.70" y="308.30" width="1.45" height="8.70" fill="#1f9a82"/>
<rect x="91.43" y="308.30" width="1.98" height="8.70" fill="#1f9a82"/>
<rect x="93.42" y="308.30" width="1.62" height="8.70" fill="#1f9a82"/>
<rect x="95.03" y="308.30" width="0.41" height="8.70" fill="#1f9a82"/>
<rect x="95.44" y="308.30" width="1.37" height="8.70" fill="#1f9a82"/>
<rect x="96.81" y="308.30" width="1.95" height="8.70" fill="#1f9a82"/>
<rect x="98.77" y="308.30" width="1.95" height="8.70" fill="#1f9a82"/>
<rect x="100.72" y="308.30" width="1.86" height="8.70" fill="#1f9a82"/>
<rect x="102.58" y="308.30" width="1.47" height="8.70" fill="#1f9a82"/>
<rect x="105.00" y="308.30" width="1.78" height="8.70" fill="#1f9a82"/>
<rect x="107.40" y="308.30" width="1.45" height="8.70" fill="#1f9a82"/>
<rect x="108.86" y="308.30" width="2.16" height="8.70" fill="#1f9a82"/>
<rect x="111.02" y="308.30" width="1.81" height="8.70" fill="#1f9a82"/>
<rect x="112.84" y="308.30" width="0.76" height="8.70" fill="#1f9a82"/>
<rect x="113.60" y="308.30" width="2.02" height="8.70" fill="#1f9a82"/>
<rect x="115.61" y="308.30" width="0.75" height="8.70" fill="#1f9a82"/>
<rect x="116.36" y="308.30" width="1.04" height="8.70" fill="#1f9a82"/>
<rect x="117.40" y="308.30" width="2.02" height="8.70" fill="#1f9a82"/>
<rect x="119.99" y="308.30" width="0.59" height="8.70" fill="#1f9a82"/>
<rect x="120.58" y="308.30" width="2.02" height="8.70" fill="#1f9a82"/>
<rect x="122.60" y="308.30" width="1.66" height="8.70" fill="#1f9a82"/>
<rect x="124.26" y="308.30" width="1.75" height="8.70" fill="#1f9a82"/>
<rect x="126.01" y="308.30" width="1.97" height="8.70" fill="#1f9a82"/>
<rect x="127.99" y="308.30" width="1.18" height="8.70" fill="#1f9a82"/>
<rect x="129.17" y="308.30" width="1.60" height="8.70" fill="#1f9a82"/>
<rect x="130.77" y="308.30" width="0.61" height="8.70" fill="#1f9a82"/>
<rect x="131.38" y="308.30" width="1.23" height="8.70" fill="#1f9a82"/>
<rect x="132.61" y="308.30" width="1.40" height="8.70" fill="#1f9a82"/>
<rect x="134.01" y="308.30" width="1.51" height="8.70" fill="#1f9a82"/>
<rect x="136.82" y="308.30" width="2.01" height="8.70" fill="#1f9a82"/>
<rect x="138.83" y="308.30" width="1.88" height="8.70" fill="#1f9a82"/>
<rect x="140.71" y="308.30" width="0.87" height="8.70" fill="#1f9a82"/>
<rect x="141.58" y="308.30" width="1.36" height="8.70" fill="#1f9a82"/>
<rect x="142.94" y="308.30" width="0.51" height="8.70" fill="#1f9a82"/>
<rect x="143.45" y="308.30" width="1.57" height="8.70" fill="#1f9a82"/>
<rect x="145.03" y="308.30" width="1.43" height="8.70" fill="#1f9a82"/>
<rect x="146.46" y="308.30" width="0.66" height="8.70" fill="#1f9a82"/>
<rect x="147.11" y="308.30" width="0.74" height="8.70" fill="#1f9a82"/>
<rect x="147.85" y="308.30" width="1.15" height="8.70" fill="#1f9a82"/>
<rect x="149.00" y="308.30" width="1.99" height="8.70" fill="#1f9a82"/>
<rect x="150.99" y="308.30" width="1.52" height="8.70" fill="#1f9a82"/>
<rect x="152.51" y="308.30" width="2.04" height="8.70" fill="#1f9a82"/>
<rect x="154.55" y="308.30" width="1.78" height="8.70" fill="#1f9a82"/>
<rect x="156.33" y="308.30" width="1.84" height="8.70" fill="#1f9a82"/>
<rect x="158.17" y="308.30" width="2.16" height="8.70" fill="#1f9a82"/>
<rect x="160.33" y="308.30" width="1.34" height="8.70" fill="#1f9a82"/>
<rect x="161.67" y="308.30" width="0.63" height="8.70" fill="#1f9a82"/>
<rect x="31.60" y="317.00" width="130.70" height="8.50" fill="#fdebe8"/>
<rect x="31.60" y="317.00" width="1.51" height="8.50" fill="#e4483b"/>
<rect x="35.95" y="317.00" width="1.71" height="8.50" fill="#e4483b"/>
<rect x="37.66" y="317.00" width="2.15" height="8.50" fill="#e4483b"/>
<rect x="39.81" y="317.00" width="1.46" height="8.50" fill="#e4483b"/>
<rect x="44.05" y="317.00" width="1.59" height="8.50" fill="#e4483b"/>
<rect x="45.64" y="317.00" width="0.58" height="8.50" fill="#e4483b"/>
<rect x="47.15" y="317.00" width="1.41" height="8.50" fill="#e4483b"/>
<rect x="50.03" y="317.00" width="1.20" height="8.50" fill="#e4483b"/>
<rect x="51.23" y="317.00" width="0.91" height="8.50" fill="#e4483b"/>
<rect x="52.14" y="317.00" width="1.72" height="8.50" fill="#e4483b"/>
<rect x="55.04" y="317.00" width="0.89" height="8.50" fill="#e4483b"/>
<rect x="55.94" y="317.00" width="1.85" height="8.50" fill="#e4483b"/>
<rect x="57.79" y="317.00" width="0.58" height="8.50" fill="#e4483b"/>
<rect x="58.37" y="317.00" width="0.61" height="8.50" fill="#e4483b"/>
<rect x="58.97" y="317.00" width="1.15" height="8.50" fill="#e4483b"/>
<rect x="61.75" y="317.00" width="1.87" height="8.50" fill="#e4483b"/>
<rect x="64.74" y="317.00" width="0.71" height="8.50" fill="#e4483b"/>
<rect x="65.45" y="317.00" width="1.74" height="8.50" fill="#e4483b"/>
<rect x="71.40" y="317.00" width="0.73" height="8.50" fill="#e4483b"/>
<rect x="72.13" y="317.00" width="1.59" height="8.50" fill="#e4483b"/>
<rect x="75.43" y="317.00" width="0.68" height="8.50" fill="#e4483b"/>
<rect x="77.26" y="317.00" width="0.65" height="8.50" fill="#e4483b"/>
<rect x="77.91" y="317.00" width="1.37" height="8.50" fill="#e4483b"/>
<rect x="80.54" y="317.00" width="0.77" height="8.50" fill="#e4483b"/>
<rect x="84.96" y="317.00" width="0.61" height="8.50" fill="#e4483b"/>
<rect x="87.17" y="317.00" width="1.38" height="8.50" fill="#e4483b"/>
<rect x="93.51" y="317.00" width="1.70" height="8.50" fill="#e4483b"/>
<rect x="100.12" y="317.00" width="1.22" height="8.50" fill="#e4483b"/>
<rect x="101.34" y="317.00" width="0.55" height="8.50" fill="#e4483b"/>
<rect x="103.02" y="317.00" width="1.51" height="8.50" fill="#e4483b"/>
<rect x="106.02" y="317.00" width="1.20" height="8.50" fill="#e4483b"/>
<rect x="108.36" y="317.00" width="1.16" height="8.50" fill="#e4483b"/>
<rect x="110.53" y="317.00" width="1.18" height="8.50" fill="#e4483b"/>
<rect x="111.70" y="317.00" width="1.58" height="8.50" fill="#e4483b"/>
<rect x="113.29" y="317.00" width="0.55" height="8.50" fill="#e4483b"/>
<rect x="113.84" y="317.00" width="1.64" height="8.50" fill="#e4483b"/>
<rect x="116.10" y="317.00" width="1.90" height="8.50" fill="#e4483b"/>
<rect x="118.00" y="317.00" width="0.50" height="8.50" fill="#e4483b"/>
<rect x="118.49" y="317.00" width="1.70" height="8.50" fill="#e4483b"/>
<rect x="120.20" y="317.00" width="2.15" height="8.50" fill="#e4483b"/>
<rect x="123.80" y="317.00" width="0.73" height="8.50" fill="#e4483b"/>
<rect x="127.16" y="317.00" width="0.54" height="8.50" fill="#e4483b"/>
<rect x="128.60" y="317.00" width="1.10" height="8.50" fill="#e4483b"/>
<rect x="130.56" y="317.00" width="1.76" height="8.50" fill="#e4483b"/>
<rect x="133.74" y="317.00" width="1.02" height="8.50" fill="#e4483b"/>
<rect x="135.42" y="317.00" width="1.72" height="8.50" fill="#e4483b"/>
<rect x="137.14" y="317.00" width="1.29" height="8.50" fill="#e4483b"/>
<rect x="138.43" y="317.00" width="2.00" height="8.50" fill="#e4483b"/>
<rect x="140.43" y="317.00" width="0.69" height="8.50" fill="#e4483b"/>
<rect x="142.57" y="317.00" width="0.45" height="8.50" fill="#e4483b"/>
<rect x="143.02" y="317.00" width="1.58" height="8.50" fill="#e4483b"/>
<rect x="144.60" y="317.00" width="0.77" height="8.50" fill="#e4483b"/>
<rect x="145.37" y="317.00" width="1.38" height="8.50" fill="#e4483b"/>
<rect x="146.74" y="317.00" width="0.46" height="8.50" fill="#e4483b"/>
<rect x="152.40" y="317.00" width="1.68" height="8.50" fill="#e4483b"/>
<rect x="154.08" y="317.00" width="1.90" height="8.50" fill="#e4483b"/>
<rect x="155.99" y="317.00" width="2.16" height="8.50" fill="#e4483b"/>
<rect x="158.15" y="317.00" width="1.25" height="8.50" fill="#e4483b"/>
<rect x="160.19" y="317.00" width="1.62" height="8.50" fill="#e4483b"/>
<rect x="161.81" y="317.00" width="0.49" height="8.50" fill="#e4483b"/>
<rect x="31.60" y="325.50" width="130.70" height="7.90" fill="#f6fbfd"/>
<rect x="34.58" y="325.50" width="0.50" height="7.90" fill="#3db4d6"/>
<rect x="36.78" y="325.50" width="1.83" height="7.90" fill="#3db4d6"/>
<rect x="40.66" y="325.50" width="0.47" height="7.90" fill="#3db4d6"/>
<rect x="43.34" y="325.50" width="1.12" height="7.90" fill="#3db4d6"/>
<rect x="48.69" y="325.50" width="0.62" height="7.90" fill="#3db4d6"/>
<rect x="55.77" y="325.50" width="0.92" height="7.90" fill="#3db4d6"/>
<rect x="60.98" y="325.50" width="0.60" height="7.90" fill="#3db4d6"/>
<rect x="67.35" y="325.50" width="0.59" height="7.90" fill="#3db4d6"/>
<rect x="71.14" y="325.50" width="1.08" height="7.90" fill="#3db4d6"/>
<rect x="76.89" y="325.50" width="0.89" height="7.90" fill="#3db4d6"/>
<rect x="91.33" y="325.50" width="1.43" height="7.90" fill="#3db4d6"/>
<rect x="92.77" y="325.50" width="0.65" height="7.90" fill="#3db4d6"/>
<rect x="93.42" y="325.50" width="1.56" height="7.90" fill="#3db4d6"/>
<rect x="94.98" y="325.50" width="0.76" height="7.90" fill="#3db4d6"/>
<rect x="108.86" y="325.50" width="1.69" height="7.90" fill="#3db4d6"/>
<rect x="110.55" y="325.50" width="1.44" height="7.90" fill="#3db4d6"/>
<rect x="120.67" y="325.50" width="0.56" height="7.90" fill="#3db4d6"/>
<rect x="121.22" y="325.50" width="0.75" height="7.90" fill="#3db4d6"/>
<rect x="126.97" y="325.50" width="0.72" height="7.90" fill="#3db4d6"/>
<rect x="129.09" y="325.50" width="0.81" height="7.90" fill="#3db4d6"/>
<rect x="129.90" y="325.50" width="1.21" height="7.90" fill="#3db4d6"/>
<rect x="135.17" y="325.50" width="0.75" height="7.90" fill="#3db4d6"/>
<rect x="137.02" y="325.50" width="0.43" height="7.90" fill="#3db4d6"/>
<rect x="139.88" y="325.50" width="0.64" height="7.90" fill="#3db4d6"/>
<rect x="140.52" y="325.50" width="0.89" height="7.90" fill="#3db4d6"/>
<rect x="143.86" y="325.50" width="1.82" height="7.90" fill="#3db4d6"/>
<rect x="150.80" y="325.50" width="1.15" height="7.90" fill="#3db4d6"/>
<rect x="153.39" y="325.50" width="1.77" height="7.90" fill="#3db4d6"/>
<rect x="155.16" y="325.50" width="2.06" height="7.90" fill="#3db4d6"/>
<line x1="31.60" y1="340.80" x2="162.30" y2="340.80" stroke="#ececec" stroke-width="0.6"/>
<line x1="31.60" y1="348.20" x2="162.30" y2="348.20" stroke="#ececec" stroke-width="0.6"/>
<line x1="31.60" y1="355.60" x2="162.30" y2="355.60" stroke="#ececec" stroke-width="0.6"/>
<line x1="31.60" y1="363.00" x2="162.30" y2="363.00" stroke="#ececec" stroke-width="0.6"/>
<line x1="31.60" y1="370.40" x2="162.30" y2="370.40" stroke="#ececec" stroke-width="0.6"/>
<path d="M31.60,348.20 L31.60,345.09 L32.25,345.91 L32.91,346.57 L33.56,347.09 L34.21,347.46 L34.87,347.68 L35.52,347.76 L36.17,347.76 L36.83,347.77 L37.48,347.77 L38.14,347.78 L38.79,347.78 L39.44,347.79 L40.10,347.79 L40.75,347.80 L41.40,347.80 L42.06,347.81 L42.71,347.81 L43.36,347.82 L44.02,347.82 L44.67,347.83 L45.32,347.83 L45.98,347.84 L46.63,347.84 L47.28,347.85 L47.94,347.85 L48.59,347.86 L49.24,347.86 L49.90,347.87 L50.55,347.87 L51.20,347.88 L51.86,347.88 L52.51,347.89 L53.17,347.89 L53.82,347.90 L54.47,347.90 L55.13,347.91 L55.78,347.91 L56.43,347.92 L57.09,347.92 L57.74,347.93 L58.39,347.93 L59.05,347.94 L59.70,347.94 L60.35,347.95 L61.01,347.96 L61.66,347.96 L62.31,347.97 L62.97,347.97 L63.62,347.98 L64.28,347.98 L64.93,347.99 L65.58,347.99 L66.24,348.00 L66.89,348.00 L67.54,348.01 L68.20,348.01 L68.85,348.02 L69.50,348.02 L70.16,348.03 L70.81,348.03 L71.46,348.04 L72.12,348.04 L72.77,348.05 L73.42,348.05 L74.08,348.06 L74.73,348.06 L75.38,348.07 L76.04,348.07 L76.69,348.08 L77.34,348.08 L78.00,348.09 L78.65,348.09 L79.31,348.10 L79.96,348.10 L80.61,348.11 L81.27,348.11 L81.92,348.12 L82.57,348.12 L83.23,348.13 L83.88,348.13 L84.53,348.14 L85.19,348.14 L85.84,348.15 L86.49,348.15 L87.15,348.16 L87.80,348.16 L88.45,348.17 L89.11,348.17 L89.76,348.18 L90.42,348.18 L91.07,348.19 L91.72,348.19 L92.38,348.20 L93.03,348.21 L93.68,348.21 L94.34,348.22 L94.99,348.22 L95.64,348.23 L96.30,348.23 L96.95,348.24 L97.60,348.24 L98.26,348.25 L98.91,348.25 L99.56,348.26 L100.22,348.26 L100.87,348.27 L101.52,348.27 L102.18,348.28 L102.83,348.28 L103.49,348.29 L104.14,348.29 L104.79,348.30 L105.45,348.30 L106.10,348.31 L106.75,348.31 L107.41,348.32 L108.06,348.32 L108.71,348.33 L109.37,348.33 L110.02,348.34 L110.67,348.34 L111.33,348.35 L111.98,348.35 L112.63,348.36 L113.29,348.36 L113.94,348.37 L114.59,348.37 L115.25,348.38 L115.90,348.38 L116.56,348.39 L117.21,348.39 L117.86,348.40 L118.52,348.40 L119.17,348.41 L119.82,348.41 L120.48,348.42 L121.13,348.42 L121.78,348.43 L122.44,348.43 L123.09,348.44 L123.74,348.44 L124.40,348.45 L125.05,348.46 L125.70,348.46 L126.36,348.47 L127.01,348.47 L127.66,348.48 L128.32,348.48 L128.97,348.49 L129.62,348.49 L130.28,348.50 L130.93,348.50 L131.59,348.51 L132.24,348.51 L132.89,348.52 L133.55,348.52 L134.20,348.53 L134.85,348.53 L135.51,348.54 L136.16,348.54 L136.81,348.55 L137.47,348.55 L138.12,348.56 L138.77,348.56 L139.43,348.57 L140.08,348.57 L140.73,348.58 L141.39,348.58 L142.04,348.59 L142.70,348.59 L143.35,348.60 L144.00,348.60 L144.66,348.61 L145.31,348.61 L145.96,348.62 L146.62,348.62 L147.27,348.63 L147.92,348.63 L148.58,348.64 L149.23,348.64 L149.88,348.65 L150.54,348.68 L151.19,348.73 L151.84,348.83 L152.50,348.98 L153.15,349.19 L153.80,349.46 L154.46,349.79 L155.11,350.20 L155.77,350.69 L156.42,351.27 L157.07,351.94 L157.73,352.70 L158.38,353.56 L159.03,354.53 L159.69,355.60 L160.34,356.79 L160.99,358.10 L161.65,359.52 L162.30,361.08 L162.30,348.20 Z" fill="#c9c9c9" stroke="#9a9a9a" stroke-width="0.5"/>
<line x1="31.60" y1="333.40" x2="162.30" y2="333.40" stroke="#444" stroke-width="0.9"/>
<line x1="31.60" y1="333.40" x2="31.60" y2="372.50" stroke="#555" stroke-width="0.8"/>
<line x1="162.30" y1="333.40" x2="162.30" y2="372.50" stroke="#bbb" stroke-width="0.5"/>
<line x1="31.60" y1="372.50" x2="162.30" y2="372.50" stroke="#555" stroke-width="0.8"/>
<line x1="31.60" y1="308.30" x2="31.60" y2="333.40" stroke="#555" stroke-width="0.8"/>
<line x1="162.30" y1="308.30" x2="162.30" y2="333.40" stroke="#555" stroke-width="0.8"/>
<line x1="29.60" y1="340.80" x2="31.60" y2="340.80" stroke="#333" stroke-width="0.7"/>
<text x="27.80" y="343.40" font-size="7.4" text-anchor="end" fill="#231f20" textLength="11.5" lengthAdjust="spacingAndGlyphs">2.5</text>
<line x1="29.60" y1="348.20" x2="31.60" y2="348.20" stroke="#333" stroke-width="0.7"/>
<text x="27.80" y="350.80" font-size="7.4" text-anchor="end" fill="#231f20" textLength="11.5" lengthAdjust="spacingAndGlyphs">0.0</text>
<line x1="29.60" y1="355.60" x2="31.60" y2="355.60" stroke="#333" stroke-width="0.7"/>
<text x="27.80" y="358.20" font-size="7.4" text-anchor="end" fill="#231f20" textLength="15.5" lengthAdjust="spacingAndGlyphs">&#8211;2.5</text>
<line x1="29.60" y1="363.00" x2="31.60" y2="363.00" stroke="#333" stroke-width="0.7"/>
<text x="27.80" y="365.60" font-size="7.4" text-anchor="end" fill="#231f20" textLength="15.5" lengthAdjust="spacingAndGlyphs">&#8211;5.0</text>
<line x1="29.60" y1="370.40" x2="31.60" y2="370.40" stroke="#333" stroke-width="0.7"/>
<text x="27.80" y="373.00" font-size="7.4" text-anchor="end" fill="#231f20" textLength="15.5" lengthAdjust="spacingAndGlyphs">&#8211;7.5</text>
<line x1="64.20" y1="372.50" x2="64.20" y2="374.50" stroke="#333" stroke-width="0.7"/>
<text x="64.20" y="385.00" font-size="7.4" text-anchor="middle" fill="#231f20" textLength="15.5" lengthAdjust="spacingAndGlyphs">3000</text>
<line x1="96.80" y1="372.50" x2="96.80" y2="374.50" stroke="#333" stroke-width="0.7"/>
<text x="96.80" y="385.00" font-size="7.4" text-anchor="middle" fill="#231f20" textLength="15.5" lengthAdjust="spacingAndGlyphs">6000</text>
<line x1="129.40" y1="372.50" x2="129.40" y2="374.50" stroke="#333" stroke-width="0.7"/>
<text x="129.40" y="385.00" font-size="7.4" text-anchor="middle" fill="#231f20" textLength="15.5" lengthAdjust="spacingAndGlyphs">9000</text>
<line x1="162.00" y1="372.50" x2="162.00" y2="374.50" stroke="#333" stroke-width="0.7"/>
<text x="162.00" y="385.00" font-size="7.4" text-anchor="middle" fill="#231f20" textLength="19.5" lengthAdjust="spacingAndGlyphs">12000</text>
<text x="61.30" y="396.60" font-size="9.0" fill="#231f20" textLength="74.5" lengthAdjust="spacingAndGlyphs">Rank in ordered dataset</text>
<text transform="translate(5.80,271.70) rotate(-90)" x="0" y="3.15" font-size="9.0" text-anchor="middle" fill="#231f20" textLength="55" lengthAdjust="spacingAndGlyphs">Enrichment score</text>
<text transform="translate(5.80,356.00) rotate(-90)" x="0" y="3.15" font-size="9.0" text-anchor="middle" fill="#231f20" textLength="57" lengthAdjust="spacingAndGlyphs">Ranked list metric</text>
<text x="66.80" y="347.50" font-size="7.4" font-style="italic" fill="#333">Prl2<tspan font-size="4.74" dy="-3.11">+/+</tspan></text>
<text x="121.40" y="347.50" font-size="7.4" font-style="italic" fill="#333">Prl2<tspan font-size="4.74" dy="-3.11">-/-</tspan></text>
<text x="208.80" y="22.20" font-size="9.5" fill="#231f20" textLength="83" lengthAdjust="spacingAndGlyphs">E14.5 fetal liver cells</text>
<text x="405.00" y="22.20" font-size="9.5" fill="#231f20" textLength="83" lengthAdjust="spacingAndGlyphs">E14.5 fetal liver cells</text>
<text x="58.20" y="228.80" font-size="9.5" fill="#231f20" textLength="83" lengthAdjust="spacingAndGlyphs">E14.5 fetal liver cells</text>
<text x="214.90" y="228.60" font-size="9.5" fill="#231f20" textLength="83" lengthAdjust="spacingAndGlyphs">E14.5 fetal liver cells</text>
<line x1="196.30" y1="254.40" x2="235.30" y2="240.80" stroke="#b9bcc4" stroke-width="0.7"/>
<line x1="235.30" y1="240.80" x2="286.40" y2="250.00" stroke="#b9bcc4" stroke-width="0.7"/>
<line x1="196.30" y1="254.40" x2="194.80" y2="305.30" stroke="#b9bcc4" stroke-width="0.7"/>
<line x1="194.80" y1="305.30" x2="222.10" y2="342.90" stroke="#b9bcc4" stroke-width="0.7"/>
<line x1="222.10" y1="342.90" x2="274.80" y2="345.60" stroke="#b9bcc4" stroke-width="0.7"/>
<line x1="311.90" y1="313.00" x2="274.80" y2="345.60" stroke="#b9bcc4" stroke-width="0.7"/>
<line x1="196.30" y1="254.40" x2="196.90" y2="322.30" stroke="#b9bcc4" stroke-width="0.7"/>
<line x1="196.90" y1="322.30" x2="222.10" y2="342.90" stroke="#b9bcc4" stroke-width="0.7"/>
<line x1="286.40" y1="250.00" x2="298.80" y2="277.50" stroke="#b9bcc4" stroke-width="0.7"/>
<line x1="298.80" y1="277.50" x2="311.90" y2="313.00" stroke="#b9bcc4" stroke-width="0.7"/>
<line x1="288.50" y1="324.00" x2="274.80" y2="345.60" stroke="#b9bcc4" stroke-width="0.7"/>
<line x1="311.90" y1="313.00" x2="288.50" y2="324.00" stroke="#b9bcc4" stroke-width="0.7"/>
<line x1="235.30" y1="240.80" x2="298.80" y2="277.50" stroke="#b9bcc4" stroke-width="0.7"/>
<line x1="194.80" y1="305.30" x2="196.90" y2="322.30" stroke="#b9bcc4" stroke-width="0.7"/>
<line x1="196.90" y1="322.30" x2="223.20" y2="315.80" stroke="#b9bcc4" stroke-width="0.7"/>
<line x1="235.30" y1="240.80" x2="242.50" y2="264.40" stroke="#3a4052" stroke-width="1.08" stroke-opacity="0.8"/>
<line x1="235.30" y1="240.80" x2="211.00" y2="277.10" stroke="#596075" stroke-width="0.88" stroke-opacity="0.8"/>
<line x1="235.30" y1="240.80" x2="268.60" y2="272.90" stroke="#596075" stroke-width="0.65" stroke-opacity="0.8"/>
<line x1="235.30" y1="240.80" x2="233.00" y2="283.10" stroke="#a4a9b6" stroke-width="0.55" stroke-opacity="0.8"/>
<line x1="235.30" y1="240.80" x2="288.00" y2="298.20" stroke="#a4a9b6" stroke-width="0.55" stroke-opacity="0.8"/>
<line x1="235.30" y1="240.80" x2="238.20" y2="300.00" stroke="#a4a9b6" stroke-width="0.55" stroke-opacity="0.8"/>
<line x1="235.30" y1="240.80" x2="259.40" y2="309.40" stroke="#3a4052" stroke-width="0.99" stroke-opacity="0.8"/>
<line x1="235.30" y1="240.80" x2="223.20" y2="315.80" stroke="#596075" stroke-width="0.59" stroke-opacity="0.8"/>
<line x1="235.30" y1="240.80" x2="247.80" y2="330.80" stroke="#3a4052" stroke-width="1.12" stroke-opacity="0.8"/>
<line x1="196.30" y1="254.40" x2="242.50" y2="264.40" stroke="#a4a9b6" stroke-width="0.55" stroke-opacity="0.8"/>
<line x1="196.30" y1="254.40" x2="211.00" y2="277.10" stroke="#596075" stroke-width="0.70" stroke-opacity="0.8"/>
<line x1="196.30" y1="254.40" x2="268.60" y2="272.90" stroke="#a4a9b6" stroke-width="0.55" stroke-opacity="0.8"/>
<line x1="196.30" y1="254.40" x2="288.00" y2="298.20" stroke="#3a4052" stroke-width="1.03" stroke-opacity="0.8"/>
<line x1="196.30" y1="254.40" x2="259.40" y2="309.40" stroke="#3a4052" stroke-width="1.19" stroke-opacity="0.8"/>
<line x1="196.30" y1="254.40" x2="223.20" y2="315.80" stroke="#a4a9b6" stroke-width="0.55" stroke-opacity="0.8"/>
<line x1="196.30" y1="254.40" x2="288.50" y2="324.00" stroke="#3a4052" stroke-width="1.31" stroke-opacity="0.8"/>
<line x1="196.30" y1="254.40" x2="247.80" y2="330.80" stroke="#a4a9b6" stroke-width="0.55" stroke-opacity="0.8"/>
<line x1="286.40" y1="250.00" x2="242.50" y2="264.40" stroke="#596075" stroke-width="0.86" stroke-opacity="0.8"/>
<line x1="286.40" y1="250.00" x2="268.60" y2="272.90" stroke="#a4a9b6" stroke-width="0.55" stroke-opacity="0.8"/>
<line x1="286.40" y1="250.00" x2="263.60" y2="292.00" stroke="#596075" stroke-width="0.61" stroke-opacity="0.8"/>
<line x1="286.40" y1="250.00" x2="288.00" y2="298.20" stroke="#3a4052" stroke-width="1.02" stroke-opacity="0.8"/>
<line x1="286.40" y1="250.00" x2="194.80" y2="305.30" stroke="#596075" stroke-width="0.56" stroke-opacity="0.8"/>
<line x1="286.40" y1="250.00" x2="247.80" y2="330.80" stroke="#3a4052" stroke-width="1.15" stroke-opacity="0.8"/>
<line x1="286.40" y1="250.00" x2="222.10" y2="342.90" stroke="#3a4052" stroke-width="1.27" stroke-opacity="0.8"/>
<line x1="242.50" y1="264.40" x2="211.00" y2="277.10" stroke="#596075" stroke-width="0.74" stroke-opacity="0.8"/>
<line x1="242.50" y1="264.40" x2="268.60" y2="272.90" stroke="#596075" stroke-width="0.75" stroke-opacity="0.8"/>
<line x1="242.50" y1="264.40" x2="233.00" y2="283.10" stroke="#3a4052" stroke-width="0.98" stroke-opacity="0.8"/>
<line x1="242.50" y1="264.40" x2="298.80" y2="277.50" stroke="#596075" stroke-width="0.57" stroke-opacity="0.8"/>
<line x1="242.50" y1="264.40" x2="263.60" y2="292.00" stroke="#3a4052" stroke-width="1.07" stroke-opacity="0.8"/>
<line x1="242.50" y1="264.40" x2="288.00" y2="298.20" stroke="#3a4052" stroke-width="1.28" stroke-opacity="0.8"/>
<line x1="242.50" y1="264.40" x2="238.20" y2="300.00" stroke="#3a4052" stroke-width="1.12" stroke-opacity="0.8"/>
<line x1="242.50" y1="264.40" x2="194.80" y2="305.30" stroke="#596075" stroke-width="0.70" stroke-opacity="0.8"/>
<line x1="242.50" y1="264.40" x2="259.40" y2="309.40" stroke="#a4a9b6" stroke-width="0.55" stroke-opacity="0.8"/>
<line x1="242.50" y1="264.40" x2="223.20" y2="315.80" stroke="#3a4052" stroke-width="0.99" stroke-opacity="0.8"/>
<line x1="242.50" y1="264.40" x2="196.90" y2="322.30" stroke="#3a4052" stroke-width="1.08" stroke-opacity="0.8"/>
<line x1="242.50" y1="264.40" x2="288.50" y2="324.00" stroke="#596075" stroke-width="0.62" stroke-opacity="0.8"/>
<line x1="242.50" y1="264.40" x2="247.80" y2="330.80" stroke="#596075" stroke-width="0.80" stroke-opacity="0.8"/>
<line x1="242.50" y1="264.40" x2="222.10" y2="342.90" stroke="#596075" stroke-width="0.84" stroke-opacity="0.8"/>
<line x1="242.50" y1="264.40" x2="274.80" y2="345.60" stroke="#3a4052" stroke-width="1.24" stroke-opacity="0.8"/>
<line x1="211.00" y1="277.10" x2="268.60" y2="272.90" stroke="#596075" stroke-width="0.84" stroke-opacity="0.8"/>
<line x1="211.00" y1="277.10" x2="233.00" y2="283.10" stroke="#3a4052" stroke-width="0.94" stroke-opacity="0.8"/>
<line x1="211.00" y1="277.10" x2="298.80" y2="277.50" stroke="#a4a9b6" stroke-width="0.55" stroke-opacity="0.8"/>
<line x1="211.00" y1="277.10" x2="263.60" y2="292.00" stroke="#596075" stroke-width="0.61" stroke-opacity="0.8"/>
<line x1="211.00" y1="277.10" x2="288.00" y2="298.20" stroke="#a4a9b6" stroke-width="0.55" stroke-opacity="0.8"/>
<line x1="211.00" y1="277.10" x2="238.20" y2="300.00" stroke="#596075" stroke-width="0.77" stroke-opacity="0.8"/>
<line x1="211.00" y1="277.10" x2="194.80" y2="305.30" stroke="#a4a9b6" stroke-width="0.55" stroke-opacity="0.8"/>
<line x1="211.00" y1="277.10" x2="259.40" y2="309.40" stroke="#596075" stroke-width="0.67" stroke-opacity="0.8"/>
<line x1="211.00" y1="277.10" x2="311.90" y2="313.00" stroke="#3a4052" stroke-width="1.07" stroke-opacity="0.8"/>
<line x1="211.00" y1="277.10" x2="223.20" y2="315.80" stroke="#596075" stroke-width="0.62" stroke-opacity="0.8"/>
<line x1="211.00" y1="277.10" x2="196.90" y2="322.30" stroke="#3a4052" stroke-width="0.96" stroke-opacity="0.8"/>
<line x1="211.00" y1="277.10" x2="288.50" y2="324.00" stroke="#596075" stroke-width="0.89" stroke-opacity="0.8"/>
<line x1="211.00" y1="277.10" x2="247.80" y2="330.80" stroke="#596075" stroke-width="0.55" stroke-opacity="0.8"/>
<line x1="211.00" y1="277.10" x2="222.10" y2="342.90" stroke="#3a4052" stroke-width="1.24" stroke-opacity="0.8"/>
<line x1="211.00" y1="277.10" x2="274.80" y2="345.60" stroke="#3a4052" stroke-width="1.30" stroke-opacity="0.8"/>
<line x1="268.60" y1="272.90" x2="233.00" y2="283.10" stroke="#3a4052" stroke-width="1.12" stroke-opacity="0.8"/>
<line x1="268.60" y1="272.90" x2="263.60" y2="292.00" stroke="#a4a9b6" stroke-width="0.55" stroke-opacity="0.8"/>
<line x1="268.60" y1="272.90" x2="288.00" y2="298.20" stroke="#a4a9b6" stroke-width="0.55" stroke-opacity="0.8"/>
<line x1="268.60" y1="272.90" x2="238.20" y2="300.00" stroke="#3a4052" stroke-width="1.31" stroke-opacity="0.8"/>
<line x1="268.60" y1="272.90" x2="194.80" y2="305.30" stroke="#a4a9b6" stroke-width="0.55" stroke-opacity="0.8"/>
<line x1="268.60" y1="272.90" x2="259.40" y2="309.40" stroke="#a4a9b6" stroke-width="0.55" stroke-opacity="0.8"/>
<line x1="268.60" y1="272.90" x2="311.90" y2="313.00" stroke="#a4a9b6" stroke-width="0.55" stroke-opacity="0.8"/>
<line x1="268.60" y1="272.90" x2="223.20" y2="315.80" stroke="#3a4052" stroke-width="1.06" stroke-opacity="0.8"/>
<line x1="268.60" y1="272.90" x2="196.90" y2="322.30" stroke="#3a4052" stroke-width="1.10" stroke-opacity="0.8"/>
<line x1="268.60" y1="272.90" x2="288.50" y2="324.00" stroke="#3a4052" stroke-width="0.98" stroke-opacity="0.8"/>
<line x1="268.60" y1="272.90" x2="247.80" y2="330.80" stroke="#a4a9b6" stroke-width="0.55" stroke-opacity="0.8"/>
<line x1="268.60" y1="272.90" x2="222.10" y2="342.90" stroke="#a4a9b6" stroke-width="0.55" stroke-opacity="0.8"/>
<line x1="268.60" y1="272.90" x2="274.80" y2="345.60" stroke="#a4a9b6" stroke-width="0.55" stroke-opacity="0.8"/>
<line x1="233.00" y1="283.10" x2="298.80" y2="277.50" stroke="#3a4052" stroke-width="0.96" stroke-opacity="0.8"/>
<line x1="233.00" y1="283.10" x2="263.60" y2="292.00" stroke="#3a4052" stroke-width="0.94" stroke-opacity="0.8"/>
<line x1="233.00" y1="283.10" x2="288.00" y2="298.20" stroke="#3a4052" stroke-width="1.20" stroke-opacity="0.8"/>
<line x1="233.00" y1="283.10" x2="238.20" y2="300.00" stroke="#3a4052" stroke-width="1.07" stroke-opacity="0.8"/>
<line x1="233.00" y1="283.10" x2="259.40" y2="309.40" stroke="#3a4052" stroke-width="1.31" stroke-opacity="0.8"/>
<line x1="233.00" y1="283.10" x2="311.90" y2="313.00" stroke="#3a4052" stroke-width="1.31" stroke-opacity="0.8"/>
<line x1="233.00" y1="283.10" x2="223.20" y2="315.80" stroke="#596075" stroke-width="0.74" stroke-opacity="0.8"/>
<line x1="233.00" y1="283.10" x2="196.90" y2="322.30" stroke="#596075" stroke-width="0.56" stroke-opacity="0.8"/>
<line x1="233.00" y1="283.10" x2="288.50" y2="324.00" stroke="#a4a9b6" stroke-width="0.55" stroke-opacity="0.8"/>
<line x1="233.00" y1="283.10" x2="247.80" y2="330.80" stroke="#3a4052" stroke-width="1.10" stroke-opacity="0.8"/>
<line x1="233.00" y1="283.10" x2="222.10" y2="342.90" stroke="#596075" stroke-width="0.87" stroke-opacity="0.8"/>
<line x1="233.00" y1="283.10" x2="274.80" y2="345.60" stroke="#3a4052" stroke-width="1.16" stroke-opacity="0.8"/>
<line x1="298.80" y1="277.50" x2="288.00" y2="298.20" stroke="#a4a9b6" stroke-width="0.55" stroke-opacity="0.8"/>
<line x1="298.80" y1="277.50" x2="259.40" y2="309.40" stroke="#3a4052" stroke-width="1.22" stroke-opacity="0.8"/>
<line x1="298.80" y1="277.50" x2="223.20" y2="315.80" stroke="#3a4052" stroke-width="1.18" stroke-opacity="0.8"/>
<line x1="298.80" y1="277.50" x2="288.50" y2="324.00" stroke="#3a4052" stroke-width="1.18" stroke-opacity="0.8"/>
<line x1="298.80" y1="277.50" x2="247.80" y2="330.80" stroke="#3a4052" stroke-width="1.00" stroke-opacity="0.8"/>
<line x1="263.60" y1="292.00" x2="288.00" y2="298.20" stroke="#a4a9b6" stroke-width="0.55" stroke-opacity="0.8"/>
<line x1="263.60" y1="292.00" x2="238.20" y2="300.00" stroke="#3a4052" stroke-width="1.05" stroke-opacity="0.8"/>
<line x1="263.60" y1="292.00" x2="259.40" y2="309.40" stroke="#a4a9b6" stroke-width="0.55" stroke-opacity="0.8"/>
<line x1="263.60" y1="292.00" x2="311.90" y2="313.00" stroke="#3a4052" stroke-width="1.19" stroke-opacity="0.8"/>
<line x1="263.60" y1="292.00" x2="223.20" y2="315.80" stroke="#3a4052" stroke-width="0.90" stroke-opacity="0.8"/>
<line x1="263.60" y1="292.00" x2="196.90" y2="322.30" stroke="#596075" stroke-width="0.73" stroke-opacity="0.8"/>
<line x1="263.60" y1="292.00" x2="247.80" y2="330.80" stroke="#a4a9b6" stroke-width="0.55" stroke-opacity="0.8"/>
<line x1="263.60" y1="292.00" x2="222.10" y2="342.90" stroke="#a4a9b6" stroke-width="0.55" stroke-opacity="0.8"/>
<line x1="263.60" y1="292.00" x2="274.80" y2="345.60" stroke="#3a4052" stroke-width="1.19" stroke-opacity="0.8"/>
<line x1="288.00" y1="298.20" x2="238.20" y2="300.00" stroke="#3a4052" stroke-width="0.97" stroke-opacity="0.8"/>
<line x1="288.00" y1="298.20" x2="194.80" y2="305.30" stroke="#a4a9b6" stroke-width="0.55" stroke-opacity="0.8"/>
<line x1="288.00" y1="298.20" x2="259.40" y2="309.40" stroke="#3a4052" stroke-width="1.15" stroke-opacity="0.8"/>
<line x1="288.00" y1="298.20" x2="223.20" y2="315.80" stroke="#3a4052" stroke-width="1.19" stroke-opacity="0.8"/>
<line x1="288.00" y1="298.20" x2="196.90" y2="322.30" stroke="#3a4052" stroke-width="1.33" stroke-opacity="0.8"/>
<line x1="288.00" y1="298.20" x2="288.50" y2="324.00" stroke="#3a4052" stroke-width="1.00" stroke-opacity="0.8"/>
<line x1="288.00" y1="298.20" x2="247.80" y2="330.80" stroke="#a4a9b6" stroke-width="0.55" stroke-opacity="0.8"/>
<line x1="288.00" y1="298.20" x2="222.10" y2="342.90" stroke="#3a4052" stroke-width="1.27" stroke-opacity="0.8"/>
<line x1="288.00" y1="298.20" x2="274.80" y2="345.60" stroke="#3a4052" stroke-width="1.32" stroke-opacity="0.8"/>
<line x1="238.20" y1="300.00" x2="194.80" y2="305.30" stroke="#3a4052" stroke-width="1.23" stroke-opacity="0.8"/>
<line x1="238.20" y1="300.00" x2="311.90" y2="313.00" stroke="#596075" stroke-width="0.73" stroke-opacity="0.8"/>
<line x1="238.20" y1="300.00" x2="223.20" y2="315.80" stroke="#a4a9b6" stroke-width="0.55" stroke-opacity="0.8"/>
<line x1="238.20" y1="300.00" x2="196.90" y2="322.30" stroke="#596075" stroke-width="0.63" stroke-opacity="0.8"/>
<line x1="238.20" y1="300.00" x2="288.50" y2="324.00" stroke="#596075" stroke-width="0.79" stroke-opacity="0.8"/>
<line x1="238.20" y1="300.00" x2="247.80" y2="330.80" stroke="#3a4052" stroke-width="1.16" stroke-opacity="0.8"/>
<line x1="238.20" y1="300.00" x2="222.10" y2="342.90" stroke="#3a4052" stroke-width="1.03" stroke-opacity="0.8"/>
<line x1="238.20" y1="300.00" x2="274.80" y2="345.60" stroke="#a4a9b6" stroke-width="0.55" stroke-opacity="0.8"/>
<line x1="194.80" y1="305.30" x2="259.40" y2="309.40" stroke="#3a4052" stroke-width="0.99" stroke-opacity="0.8"/>
<line x1="194.80" y1="305.30" x2="223.20" y2="315.80" stroke="#a4a9b6" stroke-width="0.55" stroke-opacity="0.8"/>
<line x1="194.80" y1="305.30" x2="247.80" y2="330.80" stroke="#3a4052" stroke-width="0.92" stroke-opacity="0.8"/>
<line x1="259.40" y1="309.40" x2="311.90" y2="313.00" stroke="#3a4052" stroke-width="0.99" stroke-opacity="0.8"/>
<line x1="259.40" y1="309.40" x2="223.20" y2="315.80" stroke="#3a4052" stroke-width="1.05" stroke-opacity="0.8"/>
<line x1="259.40" y1="309.40" x2="196.90" y2="322.30" stroke="#3a4052" stroke-width="1.36" stroke-opacity="0.8"/>
<line x1="259.40" y1="309.40" x2="247.80" y2="330.80" stroke="#3a4052" stroke-width="1.19" stroke-opacity="0.8"/>
<line x1="259.40" y1="309.40" x2="222.10" y2="342.90" stroke="#3a4052" stroke-width="1.26" stroke-opacity="0.8"/>
<line x1="259.40" y1="309.40" x2="274.80" y2="345.60" stroke="#3a4052" stroke-width="1.07" stroke-opacity="0.8"/>
<line x1="311.90" y1="313.00" x2="223.20" y2="315.80" stroke="#3a4052" stroke-width="1.05" stroke-opacity="0.8"/>
<line x1="223.20" y1="315.80" x2="288.50" y2="324.00" stroke="#3a4052" stroke-width="1.13" stroke-opacity="0.8"/>
<line x1="223.20" y1="315.80" x2="247.80" y2="330.80" stroke="#a4a9b6" stroke-width="0.55" stroke-opacity="0.8"/>
<line x1="223.20" y1="315.80" x2="222.10" y2="342.90" stroke="#3a4052" stroke-width="1.02" stroke-opacity="0.8"/>
<line x1="223.20" y1="315.80" x2="274.80" y2="345.60" stroke="#596075" stroke-width="0.84" stroke-opacity="0.8"/>
<line x1="196.90" y1="322.30" x2="247.80" y2="330.80" stroke="#3a4052" stroke-width="1.08" stroke-opacity="0.8"/>
<line x1="196.90" y1="322.30" x2="274.80" y2="345.60" stroke="#3a4052" stroke-width="1.09" stroke-opacity="0.8"/>
<line x1="288.50" y1="324.00" x2="247.80" y2="330.80" stroke="#596075" stroke-width="0.82" stroke-opacity="0.8"/>
<line x1="247.80" y1="330.80" x2="222.10" y2="342.90" stroke="#3a4052" stroke-width="0.99" stroke-opacity="0.8"/>
<circle cx="235.30" cy="240.80" r="6.8" fill="url(#g0)" stroke="#846e9a" stroke-width="0.7"/>
<ellipse cx="234.50" cy="237.60" rx="3.6" ry="2.0" fill="#fff" fill-opacity="0.35"/>
<text x="241.80" y="241.80" font-size="2.6" fill="#555">IGF1</text>
<circle cx="196.30" cy="254.40" r="6.8" fill="url(#g1)" stroke="#7090a7" stroke-width="0.7"/>
<ellipse cx="195.50" cy="251.20" rx="3.6" ry="2.0" fill="#fff" fill-opacity="0.35"/>
<text x="202.80" y="255.40" font-size="2.6" fill="#555">BCL2</text>
<circle cx="286.40" cy="250.00" r="6.8" fill="url(#g2)" stroke="#732e84" stroke-width="0.7"/>
<ellipse cx="285.60" cy="246.80" rx="3.6" ry="2.0" fill="#fff" fill-opacity="0.35"/>
<text x="292.90" y="251.00" font-size="2.6" fill="#555">CCND1</text>
<circle cx="242.50" cy="264.40" r="6.8" fill="url(#g3)" stroke="#8e9e70" stroke-width="0.7"/>
<ellipse cx="241.70" cy="261.20" rx="3.6" ry="2.0" fill="#fff" fill-opacity="0.35"/>
<text x="249.00" y="265.40" font-size="2.6" fill="#555">KIT</text>
<circle cx="211.00" cy="277.10" r="6.8" fill="url(#g4)" stroke="#428a45" stroke-width="0.7"/>
<ellipse cx="210.20" cy="273.90" rx="3.6" ry="2.0" fill="#fff" fill-opacity="0.35"/>
<text x="217.50" y="278.10" font-size="2.6" fill="#555">TGFA</text>
<circle cx="268.60" cy="272.90" r="6.8" fill="url(#g5)" stroke="#368436" stroke-width="0.7"/>
<ellipse cx="267.80" cy="269.70" rx="3.6" ry="2.0" fill="#fff" fill-opacity="0.35"/>
<text x="275.10" y="273.90" font-size="2.6" fill="#555">IGF2</text>
<circle cx="233.00" cy="283.10" r="6.8" fill="url(#g6)" stroke="#6c9a90" stroke-width="0.7"/>
<ellipse cx="232.20" cy="279.90" rx="3.6" ry="2.0" fill="#fff" fill-opacity="0.35"/>
<text x="239.50" y="284.10" font-size="2.6" fill="#555">EGF</text>
<circle cx="298.80" cy="277.50" r="6.8" fill="url(#g7)" stroke="#a7739b" stroke-width="0.7"/>
<ellipse cx="298.00" cy="274.30" rx="3.6" ry="2.0" fill="#fff" fill-opacity="0.35"/>
<text x="305.30" y="278.50" font-size="2.6" fill="#555">IGF2</text>
<circle cx="263.60" cy="292.00" r="6.8" fill="url(#g8)" stroke="#33908a" stroke-width="0.7"/>
<ellipse cx="262.80" cy="288.80" rx="3.6" ry="2.0" fill="#fff" fill-opacity="0.35"/>
<text x="270.10" y="293.00" font-size="2.6" fill="#555">HGF</text>
<circle cx="288.00" cy="298.20" r="6.8" fill="url(#g9)" stroke="#7878a1" stroke-width="0.7"/>
<ellipse cx="287.20" cy="295.00" rx="3.6" ry="2.0" fill="#fff" fill-opacity="0.35"/>
<text x="294.50" y="299.20" font-size="2.6" fill="#555">PDGF</text>
<circle cx="238.20" cy="300.00" r="6.8" fill="url(#g10)" stroke="#50398a" stroke-width="0.7"/>
<ellipse cx="237.40" cy="296.80" rx="3.6" ry="2.0" fill="#fff" fill-opacity="0.35"/>
<text x="244.70" y="301.00" font-size="2.6" fill="#555">MAPK</text>
<circle cx="194.80" cy="305.30" r="6.8" fill="url(#g11)" stroke="#9b8467" stroke-width="0.7"/>
<ellipse cx="194.00" cy="302.10" rx="3.6" ry="2.0" fill="#fff" fill-opacity="0.35"/>
<text x="201.30" y="306.30" font-size="2.6" fill="#555">ANX</text>
<circle cx="259.40" cy="309.40" r="6.8" fill="url(#g12)" stroke="#a7a77e" stroke-width="0.7"/>
<ellipse cx="258.60" cy="306.20" rx="3.6" ry="2.0" fill="#fff" fill-opacity="0.35"/>
<text x="265.90" y="310.40" font-size="2.6" fill="#555">GRB</text>
<circle cx="311.90" cy="313.00" r="6.8" fill="url(#g13)" stroke="#952e64" stroke-width="0.7"/>
<ellipse cx="311.10" cy="309.80" rx="3.6" ry="2.0" fill="#fff" fill-opacity="0.35"/>
<text x="318.40" y="314.00" font-size="2.6" fill="#555">RHA</text>
<circle cx="223.20" cy="315.80" r="6.8" fill="url(#g14)" stroke="#a12828" stroke-width="0.7"/>
<ellipse cx="222.40" cy="312.60" rx="3.6" ry="2.0" fill="#fff" fill-opacity="0.35"/>
<text x="229.70" y="316.80" font-size="2.6" fill="#555">SOS</text>
<circle cx="196.90" cy="322.30" r="6.8" fill="url(#g15)" stroke="#95a145" stroke-width="0.7"/>
<ellipse cx="196.10" cy="319.10" rx="3.6" ry="2.0" fill="#fff" fill-opacity="0.35"/>
<text x="203.40" y="323.30" font-size="2.6" fill="#555">YAP</text>
<circle cx="288.50" cy="324.00" r="6.8" fill="url(#g16)" stroke="#619561" stroke-width="0.7"/>
<ellipse cx="287.70" cy="320.80" rx="3.6" ry="2.0" fill="#fff" fill-opacity="0.35"/>
<text x="295.00" y="325.00" font-size="2.6" fill="#555">STAT</text>
<circle cx="247.80" cy="330.80" r="6.8" fill="url(#g17)" stroke="#aca122" stroke-width="0.7"/>
<ellipse cx="247.00" cy="327.60" rx="3.6" ry="2.0" fill="#fff" fill-opacity="0.35"/>
<text x="254.30" y="331.80" font-size="2.6" fill="#555">ERK</text>
<circle cx="222.10" cy="342.90" r="6.8" fill="url(#g18)" stroke="#3f6795" stroke-width="0.7"/>
<ellipse cx="221.30" cy="339.70" rx="3.6" ry="2.0" fill="#fff" fill-opacity="0.35"/>
<text x="228.60" y="343.90" font-size="2.6" fill="#555">AKT</text>
<circle cx="274.80" cy="345.60" r="6.8" fill="url(#g19)" stroke="#a17339" stroke-width="0.7"/>
<ellipse cx="274.00" cy="342.40" rx="3.6" ry="2.0" fill="#fff" fill-opacity="0.35"/>
<text x="281.30" y="346.60" font-size="2.6" fill="#555">JAK</text>
<line x1="378.10" y1="325.30" x2="378.10" y2="239.80" stroke="#111" stroke-width="1.0"/>
<line x1="378.10" y1="325.30" x2="502.70" y2="325.30" stroke="#111" stroke-width="1.0"/>
<line x1="375.50" y1="325.30" x2="378.10" y2="325.30" stroke="#111" stroke-width="0.9"/>
<text x="373.80" y="327.90" font-size="7.4" text-anchor="end" fill="#231f20" textLength="10.2" lengthAdjust="spacingAndGlyphs">0.0</text>
<line x1="375.50" y1="297.30" x2="378.10" y2="297.30" stroke="#111" stroke-width="0.9"/>
<text x="373.80" y="299.90" font-size="7.4" text-anchor="end" fill="#231f20" textLength="10.2" lengthAdjust="spacingAndGlyphs">0.5</text>
<line x1="375.50" y1="269.30" x2="378.10" y2="269.30" stroke="#111" stroke-width="0.9"/>
<text x="373.80" y="271.90" font-size="7.4" text-anchor="end" fill="#231f20" textLength="10.2" lengthAdjust="spacingAndGlyphs">1.0</text>
<line x1="375.50" y1="241.30" x2="378.10" y2="241.30" stroke="#111" stroke-width="0.9"/>
<text x="373.80" y="243.90" font-size="7.4" text-anchor="end" fill="#231f20" textLength="10.2" lengthAdjust="spacingAndGlyphs">1.5</text>
<text transform="translate(354.30,282.40) rotate(-90)" x="0" y="2.87" font-size="8.2" text-anchor="middle" fill="#231f20" textLength="78" lengthAdjust="spacingAndGlyphs">Gene relative expression</text>
<line x1="382.05" y1="269.30" x2="382.05" y2="267.06" stroke="#2fa8dc" stroke-width="0.8"/>
<line x1="380.95" y1="267.06" x2="383.15" y2="267.06" stroke="#2fa8dc" stroke-width="0.8"/>
<line x1="387.75" y1="279.94" x2="387.75" y2="277.14" stroke="#b4102a" stroke-width="0.8"/>
<line x1="386.65" y1="277.14" x2="388.85" y2="277.14" stroke="#b4102a" stroke-width="0.8"/>
<rect x="380.20" y="269.30" width="3.70" height="56.00" fill="#2fa8dc"/>
<rect x="385.90" y="279.94" width="3.70" height="45.36" fill="#b4102a"/>
<line x1="384.90" y1="325.30" x2="384.90" y2="327.50" stroke="#111" stroke-width="0.8"/>
<line x1="381.00" y1="258.50" x2="389.20" y2="258.50" stroke="#222" stroke-width="0.9"/>
<text x="384.90" y="258.60" font-size="8.6" text-anchor="middle" font-weight="bold" fill="#222" letter-spacing="-0.6">**</text>
<text transform="translate(388.30,335.70) rotate(-46)" font-size="6.7" text-anchor="end" fill="#231f20">ANAX5</text>
<line x1="397.90" y1="269.30" x2="397.90" y2="263.70" stroke="#2fa8dc" stroke-width="0.8"/>
<line x1="396.80" y1="263.70" x2="399.00" y2="263.70" stroke="#2fa8dc" stroke-width="0.8"/>
<line x1="403.60" y1="287.78" x2="403.60" y2="281.62" stroke="#b4102a" stroke-width="0.8"/>
<line x1="402.50" y1="281.62" x2="404.70" y2="281.62" stroke="#b4102a" stroke-width="0.8"/>
<rect x="396.05" y="269.30" width="3.70" height="56.00" fill="#2fa8dc"/>
<rect x="401.75" y="287.78" width="3.70" height="37.52" fill="#b4102a"/>
<line x1="400.75" y1="325.30" x2="400.75" y2="327.50" stroke="#111" stroke-width="0.8"/>
<line x1="396.85" y1="258.50" x2="405.05" y2="258.50" stroke="#222" stroke-width="0.9"/>
<text x="400.75" y="258.60" font-size="8.6" text-anchor="middle" font-weight="bold" fill="#222" letter-spacing="-0.6">*</text>
<text transform="translate(404.15,335.70) rotate(-46)" font-size="6.7" text-anchor="end" fill="#231f20">BCL2L11</text>
<line x1="413.75" y1="269.30" x2="413.75" y2="265.38" stroke="#2fa8dc" stroke-width="0.8"/>
<line x1="412.65" y1="265.38" x2="414.85" y2="265.38" stroke="#2fa8dc" stroke-width="0.8"/>
<line x1="419.45" y1="283.30" x2="419.45" y2="279.38" stroke="#b4102a" stroke-width="0.8"/>
<line x1="418.35" y1="279.38" x2="420.55" y2="279.38" stroke="#b4102a" stroke-width="0.8"/>
<rect x="411.90" y="269.30" width="3.70" height="56.00" fill="#2fa8dc"/>
<rect x="417.60" y="283.30" width="3.70" height="42.00" fill="#b4102a"/>
<line x1="416.60" y1="325.30" x2="416.60" y2="327.50" stroke="#111" stroke-width="0.8"/>
<line x1="412.70" y1="258.50" x2="420.90" y2="258.50" stroke="#222" stroke-width="0.9"/>
<text x="416.60" y="258.60" font-size="8.6" text-anchor="middle" font-weight="bold" fill="#222" letter-spacing="-0.6">*</text>
<text transform="translate(420.00,335.70) rotate(-46)" font-size="6.7" text-anchor="end" fill="#231f20">CXCL12</text>
<line x1="429.60" y1="269.30" x2="429.60" y2="260.90" stroke="#2fa8dc" stroke-width="0.8"/>
<line x1="428.50" y1="260.90" x2="430.70" y2="260.90" stroke="#2fa8dc" stroke-width="0.8"/>
<line x1="435.30" y1="288.90" x2="435.30" y2="280.50" stroke="#b4102a" stroke-width="0.8"/>
<line x1="434.20" y1="280.50" x2="436.40" y2="280.50" stroke="#b4102a" stroke-width="0.8"/>
<rect x="427.75" y="269.30" width="3.70" height="56.00" fill="#2fa8dc"/>
<rect x="433.45" y="288.90" width="3.70" height="36.40" fill="#b4102a"/>
<line x1="432.45" y1="325.30" x2="432.45" y2="327.50" stroke="#111" stroke-width="0.8"/>
<line x1="428.55" y1="258.50" x2="436.75" y2="258.50" stroke="#222" stroke-width="0.9"/>
<text x="432.45" y="258.60" font-size="8.6" text-anchor="middle" font-weight="bold" fill="#222" letter-spacing="-0.6">*</text>
<text transform="translate(435.85,335.70) rotate(-46)" font-size="6.7" text-anchor="end" fill="#231f20">GRB10</text>
<line x1="445.45" y1="269.30" x2="445.45" y2="260.34" stroke="#2fa8dc" stroke-width="0.8"/>
<line x1="444.35" y1="260.34" x2="446.55" y2="260.34" stroke="#2fa8dc" stroke-width="0.8"/>
<line x1="451.15" y1="291.14" x2="451.15" y2="281.62" stroke="#b4102a" stroke-width="0.8"/>
<line x1="450.05" y1="281.62" x2="452.25" y2="281.62" stroke="#b4102a" stroke-width="0.8"/>
<rect x="443.60" y="269.30" width="3.70" height="56.00" fill="#2fa8dc"/>
<rect x="449.30" y="291.14" width="3.70" height="34.16" fill="#b4102a"/>
<line x1="448.30" y1="325.30" x2="448.30" y2="327.50" stroke="#111" stroke-width="0.8"/>
<line x1="444.40" y1="258.50" x2="452.60" y2="258.50" stroke="#222" stroke-width="0.9"/>
<text x="448.30" y="258.60" font-size="8.6" text-anchor="middle" font-weight="bold" fill="#222" letter-spacing="-0.6">**</text>
<text transform="translate(451.70,335.70) rotate(-46)" font-size="6.7" text-anchor="end" fill="#231f20">IGF1</text>
<line x1="461.30" y1="269.30" x2="461.30" y2="259.78" stroke="#2fa8dc" stroke-width="0.8"/>
<line x1="460.20" y1="259.78" x2="462.40" y2="259.78" stroke="#2fa8dc" stroke-width="0.8"/>
<line x1="467.00" y1="306.82" x2="467.00" y2="296.18" stroke="#b4102a" stroke-width="0.8"/>
<line x1="465.90" y1="296.18" x2="468.10" y2="296.18" stroke="#b4102a" stroke-width="0.8"/>
<rect x="459.45" y="269.30" width="3.70" height="56.00" fill="#2fa8dc"/>
<rect x="465.15" y="306.82" width="3.70" height="18.48" fill="#b4102a"/>
<line x1="464.15" y1="325.30" x2="464.15" y2="327.50" stroke="#111" stroke-width="0.8"/>
<line x1="460.25" y1="258.50" x2="468.45" y2="258.50" stroke="#222" stroke-width="0.9"/>
<text x="464.15" y="258.60" font-size="8.6" text-anchor="middle" font-weight="bold" fill="#222" letter-spacing="-0.6">**</text>
<text transform="translate(467.55,335.70) rotate(-46)" font-size="6.7" text-anchor="end" fill="#231f20">IGF2</text>
<line x1="477.15" y1="269.30" x2="477.15" y2="263.14" stroke="#2fa8dc" stroke-width="0.8"/>
<line x1="476.05" y1="263.14" x2="478.25" y2="263.14" stroke="#2fa8dc" stroke-width="0.8"/>
<line x1="482.85" y1="295.06" x2="482.85" y2="287.78" stroke="#b4102a" stroke-width="0.8"/>
<line x1="481.75" y1="287.78" x2="483.95" y2="287.78" stroke="#b4102a" stroke-width="0.8"/>
<rect x="475.30" y="269.30" width="3.70" height="56.00" fill="#2fa8dc"/>
<rect x="481.00" y="295.06" width="3.70" height="30.24" fill="#b4102a"/>
<line x1="480.00" y1="325.30" x2="480.00" y2="327.50" stroke="#111" stroke-width="0.8"/>
<line x1="476.10" y1="258.50" x2="484.30" y2="258.50" stroke="#222" stroke-width="0.9"/>
<text x="480.00" y="258.60" font-size="8.6" text-anchor="middle" font-weight="bold" fill="#222" letter-spacing="-0.6">**</text>
<text transform="translate(483.40,335.70) rotate(-46)" font-size="6.7" text-anchor="end" fill="#231f20">TGFA</text>
<line x1="493.00" y1="269.30" x2="493.00" y2="260.90" stroke="#2fa8dc" stroke-width="0.8"/>
<line x1="491.90" y1="260.90" x2="494.10" y2="260.90" stroke="#2fa8dc" stroke-width="0.8"/>
<line x1="498.70" y1="307.38" x2="498.70" y2="298.42" stroke="#b4102a" stroke-width="0.8"/>
<line x1="497.60" y1="298.42" x2="499.80" y2="298.42" stroke="#b4102a" stroke-width="0.8"/>
<rect x="491.15" y="269.30" width="3.70" height="56.00" fill="#2fa8dc"/>
<rect x="496.85" y="307.38" width="3.70" height="17.92" fill="#b4102a"/>
<line x1="495.85" y1="325.30" x2="495.85" y2="327.50" stroke="#111" stroke-width="0.8"/>
<line x1="491.95" y1="258.50" x2="500.15" y2="258.50" stroke="#222" stroke-width="0.9"/>
<text x="495.85" y="258.60" font-size="8.6" text-anchor="middle" font-weight="bold" fill="#222" letter-spacing="-0.6">**</text>
<text transform="translate(499.25,335.70) rotate(-46)" font-size="6.7" text-anchor="end" fill="#231f20">YAP1</text>
<rect x="381.00" y="239.10" width="4.00" height="3.80" fill="#2fa8dc"/>
<text x="388.40" y="243.00" font-size="7.0" font-style="italic" fill="#333">Prl2<tspan font-size="4.48" dy="-2.94">+/+</tspan></text>
<rect x="414.40" y="239.10" width="4.00" height="3.80" fill="#b4102a"/>
<text x="422.00" y="243.00" font-size="7.0" font-style="italic" fill="#333">Prl2<tspan font-size="4.48" dy="-2.94">-/-</tspan></text>
<line x1="28.80" y1="531.90" x2="28.80" y2="445.80" stroke="#111" stroke-width="1.0"/>
<line x1="28.80" y1="531.90" x2="153.60" y2="531.90" stroke="#111" stroke-width="1.0"/>
<line x1="26.20" y1="531.90" x2="28.80" y2="531.90" stroke="#111" stroke-width="0.9"/>
<text x="24.50" y="534.50" font-size="7.4" text-anchor="end" fill="#231f20" textLength="10.2" lengthAdjust="spacingAndGlyphs">0.0</text>
<line x1="26.20" y1="503.70" x2="28.80" y2="503.70" stroke="#111" stroke-width="0.9"/>
<text x="24.50" y="506.30" font-size="7.4" text-anchor="end" fill="#231f20" textLength="10.2" lengthAdjust="spacingAndGlyphs">0.5</text>
<line x1="26.20" y1="475.50" x2="28.80" y2="475.50" stroke="#111" stroke-width="0.9"/>
<text x="24.50" y="478.10" font-size="7.4" text-anchor="end" fill="#231f20" textLength="10.2" lengthAdjust="spacingAndGlyphs">1.0</text>
<line x1="26.20" y1="447.30" x2="28.80" y2="447.30" stroke="#111" stroke-width="0.9"/>
<text x="24.50" y="449.90" font-size="7.4" text-anchor="end" fill="#231f20" textLength="10.2" lengthAdjust="spacingAndGlyphs">1.5</text>
<text transform="translate(5.30,487.30) rotate(-90)" x="0" y="2.87" font-size="8.2" text-anchor="middle" fill="#231f20" textLength="79.6" lengthAdjust="spacingAndGlyphs">Gene relative expression</text>
<line x1="33.15" y1="475.50" x2="33.15" y2="471.55" stroke="#2fa8dc" stroke-width="0.8"/>
<line x1="32.05" y1="471.55" x2="34.25" y2="471.55" stroke="#2fa8dc" stroke-width="0.8"/>
<line x1="38.85" y1="491.86" x2="38.85" y2="486.78" stroke="#b4102a" stroke-width="0.8"/>
<line x1="37.75" y1="486.78" x2="39.95" y2="486.78" stroke="#b4102a" stroke-width="0.8"/>
<rect x="31.30" y="475.50" width="3.70" height="56.40" fill="#2fa8dc"/>
<rect x="37.00" y="491.86" width="3.70" height="40.04" fill="#b4102a"/>
<line x1="36.00" y1="531.90" x2="36.00" y2="534.10" stroke="#111" stroke-width="0.8"/>
<line x1="32.10" y1="464.80" x2="40.30" y2="464.80" stroke="#222" stroke-width="0.9"/>
<text x="36.00" y="464.90" font-size="8.6" text-anchor="middle" font-weight="bold" fill="#222" letter-spacing="-0.6">*</text>
<text transform="translate(39.40,542.30) rotate(-46)" font-size="6.7" text-anchor="end" fill="#231f20">ANAX5</text>
<line x1="49.00" y1="475.50" x2="49.00" y2="472.12" stroke="#2fa8dc" stroke-width="0.8"/>
<line x1="47.90" y1="472.12" x2="50.10" y2="472.12" stroke="#2fa8dc" stroke-width="0.8"/>
<line x1="54.70" y1="490.16" x2="54.70" y2="486.22" stroke="#b4102a" stroke-width="0.8"/>
<line x1="53.60" y1="486.22" x2="55.80" y2="486.22" stroke="#b4102a" stroke-width="0.8"/>
<rect x="47.15" y="475.50" width="3.70" height="56.40" fill="#2fa8dc"/>
<rect x="52.85" y="490.16" width="3.70" height="41.74" fill="#b4102a"/>
<line x1="51.85" y1="531.90" x2="51.85" y2="534.10" stroke="#111" stroke-width="0.8"/>
<line x1="47.95" y1="464.80" x2="56.15" y2="464.80" stroke="#222" stroke-width="0.9"/>
<text x="51.85" y="464.90" font-size="8.6" text-anchor="middle" font-weight="bold" fill="#222" letter-spacing="-0.6">*</text>
<text transform="translate(55.25,542.30) rotate(-46)" font-size="6.7" text-anchor="end" fill="#231f20">BCL2L11</text>
<line x1="64.85" y1="475.50" x2="64.85" y2="472.12" stroke="#2fa8dc" stroke-width="0.8"/>
<line x1="63.75" y1="472.12" x2="65.95" y2="472.12" stroke="#2fa8dc" stroke-width="0.8"/>
<line x1="70.55" y1="490.16" x2="70.55" y2="486.78" stroke="#b4102a" stroke-width="0.8"/>
<line x1="69.45" y1="486.78" x2="71.65" y2="486.78" stroke="#b4102a" stroke-width="0.8"/>
<rect x="63.00" y="475.50" width="3.70" height="56.40" fill="#2fa8dc"/>
<rect x="68.70" y="490.16" width="3.70" height="41.74" fill="#b4102a"/>
<line x1="67.70" y1="531.90" x2="67.70" y2="534.10" stroke="#111" stroke-width="0.8"/>
<line x1="63.80" y1="464.80" x2="72.00" y2="464.80" stroke="#222" stroke-width="0.9"/>
<text x="67.70" y="464.90" font-size="8.6" text-anchor="middle" font-weight="bold" fill="#222" letter-spacing="-0.6">**</text>
<text transform="translate(71.10,542.30) rotate(-46)" font-size="6.7" text-anchor="end" fill="#231f20">CXCL12</text>
<line x1="80.70" y1="475.50" x2="80.70" y2="470.99" stroke="#2fa8dc" stroke-width="0.8"/>
<line x1="79.60" y1="470.99" x2="81.80" y2="470.99" stroke="#2fa8dc" stroke-width="0.8"/>
<line x1="86.40" y1="520.62" x2="86.40" y2="515.54" stroke="#b4102a" stroke-width="0.8"/>
<line x1="85.30" y1="515.54" x2="87.50" y2="515.54" stroke="#b4102a" stroke-width="0.8"/>
<rect x="78.85" y="475.50" width="3.70" height="56.40" fill="#2fa8dc"/>
<rect x="84.55" y="520.62" width="3.70" height="11.28" fill="#b4102a"/>
<line x1="83.55" y1="531.90" x2="83.55" y2="534.10" stroke="#111" stroke-width="0.8"/>
<line x1="79.65" y1="464.80" x2="87.85" y2="464.80" stroke="#222" stroke-width="0.9"/>
<text x="83.55" y="464.90" font-size="8.6" text-anchor="middle" font-weight="bold" fill="#222" letter-spacing="-0.6">***</text>
<text transform="translate(86.95,542.30) rotate(-46)" font-size="6.7" text-anchor="end" fill="#231f20">GRB10</text>
<line x1="96.55" y1="475.50" x2="96.55" y2="471.55" stroke="#2fa8dc" stroke-width="0.8"/>
<line x1="95.45" y1="471.55" x2="97.65" y2="471.55" stroke="#2fa8dc" stroke-width="0.8"/>
<line x1="102.25" y1="499.75" x2="102.25" y2="495.24" stroke="#b4102a" stroke-width="0.8"/>
<line x1="101.15" y1="495.24" x2="103.35" y2="495.24" stroke="#b4102a" stroke-width="0.8"/>
<rect x="94.70" y="475.50" width="3.70" height="56.40" fill="#2fa8dc"/>
<rect x="100.40" y="499.75" width="3.70" height="32.15" fill="#b4102a"/>
<line x1="99.40" y1="531.90" x2="99.40" y2="534.10" stroke="#111" stroke-width="0.8"/>
<line x1="95.50" y1="464.80" x2="103.70" y2="464.80" stroke="#222" stroke-width="0.9"/>
<text x="99.40" y="464.90" font-size="8.6" text-anchor="middle" font-weight="bold" fill="#222" letter-spacing="-0.6">**</text>
<text transform="translate(102.80,542.30) rotate(-46)" font-size="6.7" text-anchor="end" fill="#231f20">IGF1</text>
<line x1="112.40" y1="475.50" x2="112.40" y2="469.30" stroke="#2fa8dc" stroke-width="0.8"/>
<line x1="111.30" y1="469.30" x2="113.50" y2="469.30" stroke="#2fa8dc" stroke-width="0.8"/>
<line x1="118.10" y1="503.70" x2="118.10" y2="496.93" stroke="#b4102a" stroke-width="0.8"/>
<line x1="117.00" y1="496.93" x2="119.20" y2="496.93" stroke="#b4102a" stroke-width="0.8"/>
<rect x="110.55" y="475.50" width="3.70" height="56.40" fill="#2fa8dc"/>
<rect x="116.25" y="503.70" width="3.70" height="28.20" fill="#b4102a"/>
<line x1="115.25" y1="531.90" x2="115.25" y2="534.10" stroke="#111" stroke-width="0.8"/>
<line x1="111.35" y1="464.80" x2="119.55" y2="464.80" stroke="#222" stroke-width="0.9"/>
<text x="115.25" y="464.90" font-size="8.6" text-anchor="middle" font-weight="bold" fill="#222" letter-spacing="-0.6">*</text>
<text transform="translate(118.65,542.30) rotate(-46)" font-size="6.7" text-anchor="end" fill="#231f20">IGF2</text>
<line x1="128.25" y1="475.50" x2="128.25" y2="470.42" stroke="#2fa8dc" stroke-width="0.8"/>
<line x1="127.15" y1="470.42" x2="129.35" y2="470.42" stroke="#2fa8dc" stroke-width="0.8"/>
<line x1="133.95" y1="495.80" x2="133.95" y2="489.60" stroke="#b4102a" stroke-width="0.8"/>
<line x1="132.85" y1="489.60" x2="135.05" y2="489.60" stroke="#b4102a" stroke-width="0.8"/>
<rect x="126.40" y="475.50" width="3.70" height="56.40" fill="#2fa8dc"/>
<rect x="132.10" y="495.80" width="3.70" height="36.10" fill="#b4102a"/>
<line x1="131.10" y1="531.90" x2="131.10" y2="534.10" stroke="#111" stroke-width="0.8"/>
<line x1="127.20" y1="464.80" x2="135.40" y2="464.80" stroke="#222" stroke-width="0.9"/>
<text x="131.10" y="464.90" font-size="8.6" text-anchor="middle" font-weight="bold" fill="#222" letter-spacing="-0.6">*</text>
<text transform="translate(134.50,542.30) rotate(-46)" font-size="6.7" text-anchor="end" fill="#231f20">TGFA</text>
<line x1="144.10" y1="475.50" x2="144.10" y2="471.55" stroke="#2fa8dc" stroke-width="0.8"/>
<line x1="143.00" y1="471.55" x2="145.20" y2="471.55" stroke="#2fa8dc" stroke-width="0.8"/>
<line x1="149.80" y1="488.47" x2="149.80" y2="486.22" stroke="#b4102a" stroke-width="0.8"/>
<line x1="148.70" y1="486.22" x2="150.90" y2="486.22" stroke="#b4102a" stroke-width="0.8"/>
<rect x="142.25" y="475.50" width="3.70" height="56.40" fill="#2fa8dc"/>
<rect x="147.95" y="488.47" width="3.70" height="43.43" fill="#b4102a"/>
<line x1="146.95" y1="531.90" x2="146.95" y2="534.10" stroke="#111" stroke-width="0.8"/>
<line x1="143.05" y1="464.80" x2="151.25" y2="464.80" stroke="#222" stroke-width="0.9"/>
<text x="146.95" y="464.90" font-size="8.6" text-anchor="middle" font-weight="bold" fill="#222" letter-spacing="-0.6">**</text>
<text transform="translate(150.35,542.30) rotate(-46)" font-size="6.7" text-anchor="end" fill="#231f20">YAP1</text>
<rect x="32.00" y="445.60" width="4.00" height="3.80" fill="#2fa8dc"/>
<text x="39.40" y="449.50" font-size="7.0" font-style="italic" fill="#333">Prl2<tspan font-size="4.48" dy="-2.94">+/+</tspan></text>
<rect x="65.40" y="445.60" width="4.00" height="3.80" fill="#b4102a"/>
<text x="73.00" y="449.50" font-size="7.0" font-style="italic" fill="#333">Prl2<tspan font-size="4.48" dy="-2.94">-/-</tspan></text>
<text x="398.80" y="228.80" font-size="9.5" fill="#231f20" textLength="83" lengthAdjust="spacingAndGlyphs">E14.5 fetal liver cells</text>
<text x="67.30" y="436.60" font-size="9.5" fill="#231f20" textLength="48.7" lengthAdjust="spacingAndGlyphs">BM Lin-cells</text>
<text x="211.40" y="434.30" font-size="6.9" font-weight="bold" fill="#111" textLength="66.7" lengthAdjust="spacingAndGlyphs">E14.5 fetal liver cells</text>
<line x1="193.60" y1="438.80" x2="296.60" y2="438.80" stroke="#111" stroke-width="0.8"/>
<text x="207.80" y="448.50" font-size="6.9" font-style="italic" font-weight="bold" fill="#111">Prl2<tspan font-size="4.42" dy="-2.90">+/+</tspan></text>
<text x="263.70" y="448.50" font-size="6.9" font-style="italic" font-weight="bold" fill="#111">Prl2<tspan font-size="4.42" dy="-2.90">-/-</tspan></text>
<line x1="197.30" y1="453.20" x2="238.30" y2="453.20" stroke="#111" stroke-width="0.8"/>
<line x1="252.30" y1="453.20" x2="293.80" y2="453.20" stroke="#111" stroke-width="0.8"/>
<text x="199.80" y="462.90" font-size="6.9" text-anchor="middle" font-weight="bold" fill="#111">1</text>
<text x="217.80" y="462.90" font-size="6.9" text-anchor="middle" font-weight="bold" fill="#111">2</text>
<text x="235.80" y="462.90" font-size="6.9" text-anchor="middle" font-weight="bold" fill="#111">3</text>
<text x="253.80" y="462.90" font-size="6.9" text-anchor="middle" font-weight="bold" fill="#111">1</text>
<text x="271.70" y="462.90" font-size="6.9" text-anchor="middle" font-weight="bold" fill="#111">2</text>
<text x="290.80" y="462.90" font-size="6.9" text-anchor="middle" font-weight="bold" fill="#111">3</text>
<rect x="188.30" y="465.20" width="115.60" height="11.60" fill="#c8c8c8"/>
<g filter="url(#blur)">
<rect x="192.25" y="466.60" width="15.90" height="4.88" rx="2.20" fill="#111" fill-opacity="0.10"/>
<rect x="192.25" y="470.70" width="15.90" height="3.66" rx="1.83" fill="#111" fill-opacity="0.92"/>
<rect x="209.35" y="466.60" width="15.90" height="4.88" rx="2.20" fill="#111" fill-opacity="0.10"/>
<rect x="209.35" y="470.70" width="15.90" height="3.66" rx="1.83" fill="#111" fill-opacity="0.92"/>
<rect x="227.15" y="466.60" width="15.90" height="4.88" rx="2.20" fill="#111" fill-opacity="0.10"/>
<rect x="227.15" y="470.70" width="15.90" height="3.66" rx="1.83" fill="#111" fill-opacity="0.92"/>
<rect x="246.65" y="467.15" width="15.90" height="6.71" rx="2.20" fill="#111" fill-opacity="0.10"/>
<rect x="246.65" y="470.06" width="15.90" height="4.15" rx="2.07" fill="#111" fill-opacity="0.10"/>
<rect x="265.55" y="467.15" width="15.90" height="6.71" rx="2.20" fill="#111" fill-opacity="0.10"/>
<rect x="265.55" y="470.06" width="15.90" height="4.15" rx="2.07" fill="#111" fill-opacity="0.10"/>
<rect x="284.85" y="467.15" width="15.90" height="6.71" rx="2.20" fill="#111" fill-opacity="0.10"/>
<rect x="284.85" y="470.06" width="15.90" height="4.15" rx="2.07" fill="#111" fill-opacity="0.10"/>
</g>
<rect x="188.30" y="465.20" width="115.60" height="11.60" fill="none" stroke="#222" stroke-width="1.1"/>
<text x="307.90" y="471.00" font-size="6.6" font-weight="bold" fill="#111">pAKT</text>
<text x="307.90" y="476.20" font-size="4.3" fill="#5a5a5a">(S473)</text>
<rect x="188.30" y="479.30" width="115.60" height="11.10" fill="#dcdcdc"/>
<g filter="url(#blur)">
<rect x="191.72" y="483.46" width="16.96" height="5.37" rx="2.20" fill="#111" fill-opacity="1.00"/>
<rect x="208.82" y="483.46" width="16.96" height="5.37" rx="2.20" fill="#111" fill-opacity="1.00"/>
<rect x="226.62" y="483.46" width="16.96" height="5.37" rx="2.20" fill="#111" fill-opacity="1.00"/>
<rect x="245.86" y="484.48" width="17.49" height="5.12" rx="2.20" fill="#111" fill-opacity="1.00"/>
<rect x="264.75" y="484.48" width="17.49" height="5.12" rx="2.20" fill="#111" fill-opacity="1.00"/>
<rect x="284.06" y="484.48" width="17.49" height="5.12" rx="2.20" fill="#111" fill-opacity="1.00"/>
</g>
<rect x="188.30" y="479.30" width="115.60" height="11.10" fill="none" stroke="#222" stroke-width="1.1"/>
<text x="307.90" y="487.20" font-size="6.6" font-weight="bold" fill="#111">AKT</text>
<rect x="188.30" y="493.10" width="115.60" height="11.20" fill="#b8b8b8"/>
<g filter="url(#blur)">
<rect x="192.78" y="498.35" width="14.84" height="3.05" rx="1.52" fill="#111" fill-opacity="0.85"/>
<rect x="209.88" y="498.35" width="14.84" height="3.05" rx="1.52" fill="#111" fill-opacity="0.85"/>
<rect x="227.68" y="498.35" width="14.84" height="3.05" rx="1.52" fill="#111" fill-opacity="0.85"/>
<rect x="247.18" y="498.04" width="14.84" height="3.17" rx="1.59" fill="#111" fill-opacity="0.60"/>
<rect x="266.08" y="498.04" width="14.84" height="3.17" rx="1.59" fill="#111" fill-opacity="0.60"/>
<rect x="285.38" y="498.04" width="14.84" height="3.17" rx="1.59" fill="#111" fill-opacity="0.60"/>
</g>
<rect x="188.30" y="493.10" width="115.60" height="11.20" fill="none" stroke="#222" stroke-width="1.1"/>
<text x="307.90" y="498.90" font-size="6.6" font-weight="bold" fill="#111">pSTAT5</text>
<text x="307.90" y="504.10" font-size="4.3" fill="#5a5a5a">(Y694)</text>
<rect x="188.30" y="506.60" width="115.60" height="11.60" fill="#e2e2e2"/>
<g filter="url(#blur)">
<rect x="192.78" y="510.63" width="14.84" height="3.29" rx="1.65" fill="#111" fill-opacity="0.97"/>
<rect x="209.88" y="510.63" width="14.84" height="3.29" rx="1.65" fill="#111" fill-opacity="0.97"/>
<rect x="229.27" y="510.77" width="11.66" height="2.81" rx="1.40" fill="#111" fill-opacity="0.90"/>
<rect x="247.18" y="510.63" width="14.84" height="3.29" rx="1.65" fill="#111" fill-opacity="0.95"/>
<rect x="266.08" y="510.63" width="14.84" height="3.29" rx="1.65" fill="#111" fill-opacity="0.97"/>
<rect x="284.85" y="510.61" width="15.90" height="3.54" rx="1.77" fill="#111" fill-opacity="0.98"/>
</g>
<rect x="188.30" y="506.60" width="115.60" height="11.60" fill="none" stroke="#222" stroke-width="1.1"/>
<text x="307.90" y="514.50" font-size="6.6" font-weight="bold" fill="#111">STAT5</text>
<rect x="188.30" y="520.30" width="115.60" height="11.80" fill="#f6f6f6"/>
<g filter="url(#blur)">
<rect x="193.31" y="524.20" width="13.78" height="1.22" rx="0.61" fill="#111" fill-opacity="0.25"/>
<rect x="193.31" y="527.03" width="13.78" height="2.07" rx="1.04" fill="#111" fill-opacity="0.90"/>
<rect x="210.41" y="524.20" width="13.78" height="1.22" rx="0.61" fill="#111" fill-opacity="0.25"/>
<rect x="210.41" y="527.03" width="13.78" height="2.07" rx="1.04" fill="#111" fill-opacity="0.90"/>
<rect x="228.21" y="524.20" width="13.78" height="1.22" rx="0.61" fill="#111" fill-opacity="0.25"/>
<rect x="228.21" y="527.03" width="13.78" height="2.07" rx="1.04" fill="#111" fill-opacity="0.90"/>
<rect x="247.71" y="524.20" width="13.78" height="1.22" rx="0.61" fill="#111" fill-opacity="0.15"/>
<rect x="247.71" y="527.05" width="13.78" height="1.83" rx="0.92" fill="#111" fill-opacity="0.45"/>
<rect x="266.61" y="524.20" width="13.78" height="1.22" rx="0.61" fill="#111" fill-opacity="0.15"/>
<rect x="266.61" y="527.05" width="13.78" height="1.83" rx="0.92" fill="#111" fill-opacity="0.45"/>
<rect x="285.91" y="524.20" width="13.78" height="1.22" rx="0.61" fill="#111" fill-opacity="0.15"/>
<rect x="285.91" y="527.05" width="13.78" height="1.83" rx="0.92" fill="#111" fill-opacity="0.45"/>
</g>
<rect x="188.30" y="520.30" width="115.60" height="11.80" fill="none" stroke="#222" stroke-width="1.1"/>
<text x="307.90" y="526.10" font-size="6.6" font-weight="bold" fill="#111">pERK</text>
<text x="307.90" y="531.30" font-size="4.3" fill="#5a5a5a">(T202/Y204)</text>
<rect x="188.30" y="534.20" width="115.60" height="11.30" fill="#ececec"/>
<g filter="url(#blur)">
<rect x="193.05" y="537.32" width="14.31" height="2.20" rx="1.10" fill="#111" fill-opacity="0.95"/>
<rect x="193.05" y="540.42" width="14.31" height="2.20" rx="1.10" fill="#111" fill-opacity="0.95"/>
<rect x="210.15" y="537.32" width="14.31" height="2.20" rx="1.10" fill="#111" fill-opacity="0.95"/>
<rect x="210.15" y="540.42" width="14.31" height="2.20" rx="1.10" fill="#111" fill-opacity="0.95"/>
<rect x="227.95" y="537.32" width="14.31" height="2.20" rx="1.10" fill="#111" fill-opacity="0.95"/>
<rect x="227.95" y="540.42" width="14.31" height="2.20" rx="1.10" fill="#111" fill-opacity="0.95"/>
<rect x="247.18" y="537.32" width="14.84" height="2.20" rx="1.10" fill="#111" fill-opacity="0.95"/>
<rect x="247.18" y="540.42" width="14.84" height="2.20" rx="1.10" fill="#111" fill-opacity="0.95"/>
<rect x="266.08" y="537.32" width="14.84" height="2.20" rx="1.10" fill="#111" fill-opacity="0.95"/>
<rect x="266.08" y="540.42" width="14.84" height="2.20" rx="1.10" fill="#111" fill-opacity="0.95"/>
<rect x="285.38" y="537.32" width="14.84" height="2.20" rx="1.10" fill="#111" fill-opacity="0.95"/>
<rect x="285.38" y="540.42" width="14.84" height="2.20" rx="1.10" fill="#111" fill-opacity="0.95"/>
</g>
<rect x="188.30" y="534.20" width="115.60" height="11.30" fill="none" stroke="#222" stroke-width="1.1"/>
<text x="307.90" y="542.10" font-size="6.6" font-weight="bold" fill="#111">ERK</text>
<rect x="188.30" y="548.10" width="115.60" height="11.00" fill="#dedede"/>
<g filter="url(#blur)">
<rect x="192.25" y="553.28" width="15.90" height="2.68" rx="1.34" fill="#111" fill-opacity="0.95"/>
<rect x="209.35" y="553.28" width="15.90" height="2.68" rx="1.34" fill="#111" fill-opacity="0.95"/>
<rect x="227.15" y="553.28" width="15.90" height="2.68" rx="1.34" fill="#111" fill-opacity="0.95"/>
<rect x="246.65" y="553.30" width="15.90" height="2.44" rx="1.22" fill="#111" fill-opacity="0.20"/>
<rect x="265.55" y="553.30" width="15.90" height="2.44" rx="1.22" fill="#111" fill-opacity="0.20"/>
<rect x="284.85" y="553.30" width="15.90" height="2.44" rx="1.22" fill="#111" fill-opacity="0.20"/>
</g>
<rect x="188.30" y="548.10" width="115.60" height="11.00" fill="none" stroke="#222" stroke-width="1.1"/>
<text x="307.90" y="556.00" font-size="6.6" font-weight="bold" fill="#111">PRL2</text>
<rect x="188.30" y="561.30" width="115.60" height="11.80" fill="#e8e8e8"/>
<g filter="url(#blur)">
<rect x="192.78" y="565.38" width="14.84" height="2.68" rx="1.34" fill="#111" fill-opacity="0.95"/>
<rect x="209.88" y="565.38" width="14.84" height="2.68" rx="1.34" fill="#111" fill-opacity="0.95"/>
<rect x="227.68" y="565.38" width="14.84" height="2.68" rx="1.34" fill="#111" fill-opacity="0.95"/>
<rect x="247.18" y="565.38" width="14.84" height="2.68" rx="1.34" fill="#111" fill-opacity="0.95"/>
<rect x="266.08" y="565.38" width="14.84" height="2.68" rx="1.34" fill="#111" fill-opacity="0.95"/>
<rect x="285.38" y="565.38" width="14.84" height="2.68" rx="1.34" fill="#111" fill-opacity="0.95"/>
</g>
<rect x="188.30" y="561.30" width="115.60" height="11.80" fill="none" stroke="#222" stroke-width="1.1"/>
<text x="307.90" y="569.20" font-size="6.6" font-weight="bold" fill="#111">&#946;-Actin</text>
<text x="385.60" y="434.30" font-size="6.9" font-weight="bold" fill="#111" textLength="38.1" lengthAdjust="spacingAndGlyphs">BM Lin-cells</text>
<line x1="353.90" y1="438.80" x2="456.90" y2="438.80" stroke="#111" stroke-width="0.8"/>
<text x="366.00" y="448.50" font-size="6.9" font-style="italic" font-weight="bold" fill="#111">Prl2<tspan font-size="4.42" dy="-2.90">+/+</tspan></text>
<text x="423.60" y="448.50" font-size="6.9" font-style="italic" font-weight="bold" fill="#111">Prl2<tspan font-size="4.42" dy="-2.90">-/-</tspan></text>
<line x1="355.20" y1="453.20" x2="397.10" y2="453.20" stroke="#111" stroke-width="0.8"/>
<line x1="412.60" y1="453.20" x2="454.10" y2="453.20" stroke="#111" stroke-width="0.8"/>
<text x="358.20" y="462.90" font-size="6.9" text-anchor="middle" font-weight="bold" fill="#111">1</text>
<text x="376.10" y="462.90" font-size="6.9" text-anchor="middle" font-weight="bold" fill="#111">2</text>
<text x="394.10" y="462.90" font-size="6.9" text-anchor="middle" font-weight="bold" fill="#111">3</text>
<text x="413.60" y="462.90" font-size="6.9" text-anchor="middle" font-weight="bold" fill="#111">1</text>
<text x="433.10" y="462.90" font-size="6.9" text-anchor="middle" font-weight="bold" fill="#111">2</text>
<text x="452.70" y="462.90" font-size="6.9" text-anchor="middle" font-weight="bold" fill="#111">3</text>
<rect x="348.60" y="465.20" width="115.60" height="11.60" fill="#ececec"/>
<g filter="url(#blur)">
<rect x="351.56" y="470.42" width="15.69" height="3.42" rx="1.71" fill="#111" fill-opacity="0.95"/>
<rect x="369.06" y="470.42" width="15.69" height="3.42" rx="1.71" fill="#111" fill-opacity="0.95"/>
<rect x="386.96" y="470.42" width="15.69" height="3.42" rx="1.71" fill="#111" fill-opacity="0.95"/>
<rect x="406.42" y="469.28" width="15.37" height="2.68" rx="1.34" fill="#111" fill-opacity="0.10"/>
<rect x="425.12" y="469.28" width="15.37" height="2.68" rx="1.34" fill="#111" fill-opacity="0.10"/>
<rect x="445.02" y="469.28" width="15.37" height="2.68" rx="1.34" fill="#111" fill-opacity="0.10"/>
</g>
<rect x="348.60" y="465.20" width="115.60" height="11.60" fill="none" stroke="#222" stroke-width="1.1"/>
<text x="468.20" y="471.00" font-size="6.6" font-weight="bold" fill="#111">pAKT</text>
<text x="468.20" y="476.20" font-size="4.3" fill="#5a5a5a">(S473)</text>
<rect x="348.60" y="479.30" width="115.60" height="11.10" fill="#a2a2a2"/>
<g filter="url(#blur)">
<rect x="351.19" y="484.70" width="16.43" height="3.66" rx="1.83" fill="#111" fill-opacity="1.00"/>
<rect x="368.69" y="484.70" width="16.43" height="3.66" rx="1.83" fill="#111" fill-opacity="1.00"/>
<rect x="386.59" y="484.70" width="16.43" height="3.66" rx="1.83" fill="#111" fill-opacity="1.00"/>
<rect x="405.89" y="484.19" width="16.43" height="3.78" rx="1.89" fill="#111" fill-opacity="1.00"/>
<rect x="424.59" y="484.19" width="16.43" height="3.78" rx="1.89" fill="#111" fill-opacity="1.00"/>
<rect x="444.49" y="484.19" width="16.43" height="3.78" rx="1.89" fill="#111" fill-opacity="1.00"/>
</g>
<rect x="348.60" y="479.30" width="115.60" height="11.10" fill="none" stroke="#222" stroke-width="1.1"/>
<text x="468.20" y="487.20" font-size="6.6" font-weight="bold" fill="#111">AKT</text>
<rect x="348.60" y="493.10" width="115.60" height="11.20" fill="#f0f0f0"/>
<g filter="url(#blur)">
<rect x="352.25" y="497.77" width="14.31" height="2.81" rx="1.40" fill="#111" fill-opacity="0.95"/>
<rect x="369.75" y="497.77" width="14.31" height="2.81" rx="1.40" fill="#111" fill-opacity="0.95"/>
<rect x="387.65" y="496.37" width="14.31" height="2.81" rx="1.40" fill="#111" fill-opacity="0.95"/>
<rect x="407.21" y="495.46" width="13.78" height="2.93" rx="1.46" fill="#111" fill-opacity="0.85"/>
<rect x="425.91" y="495.46" width="13.78" height="2.93" rx="1.46" fill="#111" fill-opacity="0.85"/>
<rect x="445.81" y="495.66" width="13.78" height="2.93" rx="1.46" fill="#111" fill-opacity="0.90"/>
</g>
<rect x="348.60" y="493.10" width="115.60" height="11.20" fill="none" stroke="#222" stroke-width="1.1"/>
<text x="468.20" y="498.90" font-size="6.6" font-weight="bold" fill="#111">pSTAT5</text>
<text x="468.20" y="504.10" font-size="4.3" fill="#5a5a5a">(Y694)</text>
<rect x="348.60" y="506.60" width="115.60" height="11.60" fill="#d8d8d8"/>
<g filter="url(#blur)">
<rect x="351.72" y="513.61" width="15.37" height="3.54" rx="1.77" fill="#111" fill-opacity="1.00"/>
<rect x="369.22" y="513.61" width="15.37" height="3.54" rx="1.77" fill="#111" fill-opacity="1.00"/>
<rect x="387.12" y="513.61" width="15.37" height="3.54" rx="1.77" fill="#111" fill-opacity="1.00"/>
<rect x="406.42" y="512.51" width="15.37" height="3.54" rx="1.77" fill="#111" fill-opacity="1.00"/>
<rect x="425.12" y="512.51" width="15.37" height="3.54" rx="1.77" fill="#111" fill-opacity="1.00"/>
<rect x="445.02" y="512.51" width="15.37" height="3.54" rx="1.77" fill="#111" fill-opacity="1.00"/>
</g>
<rect x="348.60" y="506.60" width="115.60" height="11.60" fill="none" stroke="#222" stroke-width="1.1"/>
<text x="468.20" y="514.50" font-size="6.6" font-weight="bold" fill="#111">STAT5</text>
<rect x="348.60" y="520.30" width="115.60" height="11.80" fill="#f4f4f4"/>
<g filter="url(#blur)">
<rect x="352.78" y="523.19" width="13.25" height="1.34" rx="0.67" fill="#111" fill-opacity="0.45"/>
<rect x="352.78" y="525.90" width="13.25" height="2.44" rx="1.22" fill="#111" fill-opacity="0.97"/>
<rect x="370.28" y="523.19" width="13.25" height="1.34" rx="0.67" fill="#111" fill-opacity="0.45"/>
<rect x="370.28" y="525.90" width="13.25" height="2.44" rx="1.22" fill="#111" fill-opacity="0.97"/>
<rect x="388.18" y="523.19" width="13.25" height="1.34" rx="0.67" fill="#111" fill-opacity="0.45"/>
<rect x="388.18" y="525.90" width="13.25" height="2.44" rx="1.22" fill="#111" fill-opacity="0.97"/>
<rect x="407.48" y="522.60" width="13.25" height="1.22" rx="0.61" fill="#111" fill-opacity="0.22"/>
<rect x="407.48" y="525.34" width="13.25" height="1.95" rx="0.98" fill="#111" fill-opacity="0.85"/>
<rect x="426.18" y="522.60" width="13.25" height="1.22" rx="0.61" fill="#111" fill-opacity="0.22"/>
<rect x="426.18" y="525.34" width="13.25" height="1.95" rx="0.98" fill="#111" fill-opacity="0.85"/>
<rect x="446.08" y="522.60" width="13.25" height="1.22" rx="0.61" fill="#111" fill-opacity="0.22"/>
<rect x="446.08" y="525.34" width="13.25" height="1.95" rx="0.98" fill="#111" fill-opacity="0.85"/>
</g>
<rect x="348.60" y="520.30" width="115.60" height="11.80" fill="none" stroke="#222" stroke-width="1.1"/>
<text x="468.20" y="526.10" font-size="6.6" font-weight="bold" fill="#111">pERK</text>
<text x="468.20" y="531.30" font-size="4.3" fill="#5a5a5a">(T202/Y204)</text>
<rect x="348.60" y="534.20" width="115.60" height="11.30" fill="#e8e8e8"/>
<g filter="url(#blur)">
<rect x="353.04" y="536.73" width="12.72" height="4.51" rx="2.20" fill="#111" fill-opacity="0.95"/>
<rect x="370.54" y="536.73" width="12.72" height="4.51" rx="2.20" fill="#111" fill-opacity="0.95"/>
<rect x="388.44" y="536.73" width="12.72" height="4.51" rx="2.20" fill="#111" fill-opacity="0.95"/>
<rect x="407.21" y="535.86" width="13.78" height="4.15" rx="2.07" fill="#111" fill-opacity="0.95"/>
<rect x="425.91" y="535.86" width="13.78" height="4.15" rx="2.07" fill="#111" fill-opacity="0.95"/>
<rect x="445.81" y="535.86" width="13.78" height="4.15" rx="2.07" fill="#111" fill-opacity="0.95"/>
</g>
<rect x="348.60" y="534.20" width="115.60" height="11.30" fill="none" stroke="#222" stroke-width="1.1"/>
<text x="468.20" y="542.10" font-size="6.6" font-weight="bold" fill="#111">ERK</text>
<rect x="348.60" y="548.10" width="115.60" height="11.00" fill="#d0d0d0"/>
<g filter="url(#blur)">
<rect x="351.45" y="550.25" width="15.90" height="4.27" rx="2.13" fill="#111" fill-opacity="1.00"/>
<rect x="368.95" y="550.25" width="15.90" height="4.27" rx="2.13" fill="#111" fill-opacity="1.00"/>
<rect x="386.85" y="550.25" width="15.90" height="4.27" rx="2.13" fill="#111" fill-opacity="1.00"/>
<rect x="406.68" y="550.92" width="14.84" height="2.20" rx="1.10" fill="#111" fill-opacity="0.30"/>
<rect x="425.38" y="550.92" width="14.84" height="2.20" rx="1.10" fill="#111" fill-opacity="0.30"/>
<rect x="445.28" y="550.92" width="14.84" height="2.20" rx="1.10" fill="#111" fill-opacity="0.30"/>
</g>
<rect x="348.60" y="548.10" width="115.60" height="11.00" fill="none" stroke="#222" stroke-width="1.1"/>
<text x="468.20" y="556.00" font-size="6.6" font-weight="bold" fill="#111">PRL2</text>
<rect x="348.60" y="561.30" width="115.60" height="11.80" fill="#e8e8e8"/>
<g filter="url(#blur)">
<rect x="351.98" y="564.57" width="14.84" height="2.81" rx="1.40" fill="#111" fill-opacity="0.97"/>
<rect x="369.48" y="564.57" width="14.84" height="2.81" rx="1.40" fill="#111" fill-opacity="0.97"/>
<rect x="387.38" y="564.57" width="14.84" height="2.81" rx="1.40" fill="#111" fill-opacity="0.97"/>
<rect x="406.68" y="563.99" width="14.84" height="2.56" rx="1.28" fill="#111" fill-opacity="0.97"/>
<rect x="425.38" y="563.99" width="14.84" height="2.56" rx="1.28" fill="#111" fill-opacity="0.97"/>
<rect x="445.28" y="563.99" width="14.84" height="2.56" rx="1.28" fill="#111" fill-opacity="0.97"/>
</g>
<rect x="348.60" y="561.30" width="115.60" height="11.80" fill="none" stroke="#222" stroke-width="1.1"/>
<text x="468.20" y="569.20" font-size="6.6" font-weight="bold" fill="#111">&#946;-Actin</text>
</svg>
</body></html>
